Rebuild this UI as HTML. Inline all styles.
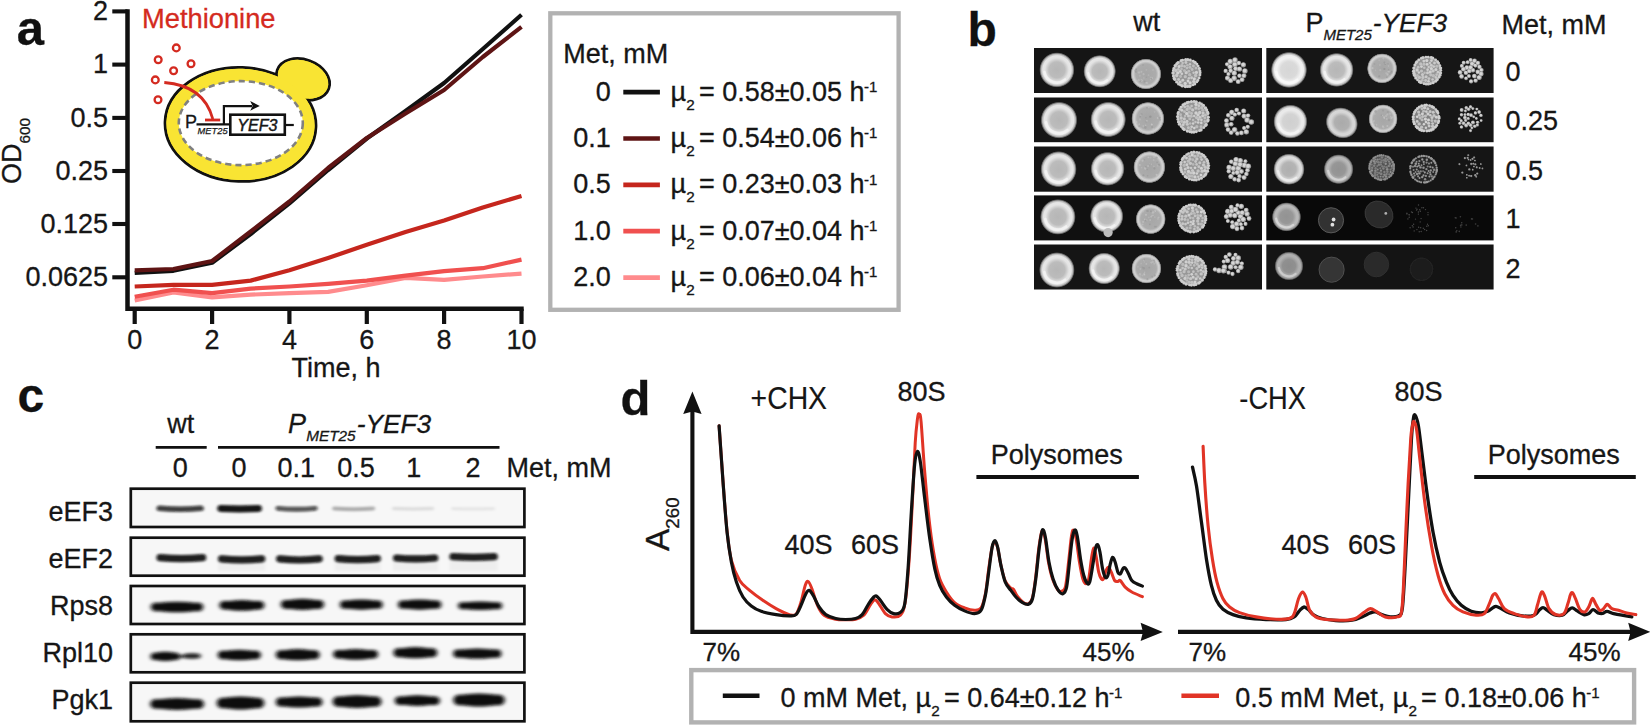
<!DOCTYPE html>
<html lang="en"><head><meta charset="utf-8"><title>Figure</title>
<style>
html,body{margin:0;padding:0;background:#fff;width:1650px;height:725px;overflow:hidden}
svg{display:block;position:absolute;left:0;top:0}
text{font-family:"Liberation Sans",Arial,Helvetica,sans-serif;fill:#161616;font-size:27px;stroke:#161616;stroke-width:.3px}
.b{font-weight:bold;font-size:46px;fill:#111}
.i{font-style:italic}
.r{fill:#d42a20;stroke:#d42a20}
.s{font-size:15.3px}
</style></head><body>
<svg width="1650" height="725" viewBox="0 0 1650 725">
<g id="panel-a">
<text class="b" x="16.8" y="45.2" style="font-size:49px">a</text>
<polyline points="134.7,300.5 173.4,292.4 212.1,297.3 250.7,294.6 289.4,293.2 328.1,291.9 366.8,285.2 405.5,277.9 444.1,279.8 482.8,276.5 521.5,273.6" fill="none" stroke="#ff8b8d" stroke-width="4.2" stroke-linejoin="round"/>
<polyline points="134.7,296.7 173.4,289.7 212.1,293.2 250.7,288.6 289.4,286.5 328.1,283.8 366.8,280.6 405.5,275.7 444.1,271.2 482.8,268.2 521.5,259.6" fill="none" stroke="#f0504f" stroke-width="4.2" stroke-linejoin="round"/>
<polyline points="134.7,286.5 173.4,284.8 212.1,284.8 250.7,280.6 289.4,270.3 328.1,258.0 366.8,244.8 405.5,232.0 444.1,220.6 482.8,207.5 521.5,196.0" fill="none" stroke="#c5261d" stroke-width="4.2" stroke-linejoin="round"/>
<polyline points="134.7,272.9 173.4,270.8 212.1,262.8 250.7,234.0 289.4,203.4 328.1,170.0 366.8,138.5 405.5,111.0 444.1,83.0 482.8,49.0 521.5,14.8" fill="none" stroke="#111111" stroke-width="4.2" stroke-linejoin="round"/>
<polyline points="134.7,270.3 173.4,269.0 212.1,261.0 250.7,231.5 289.4,201.5 328.1,168.0 366.8,138.0 405.5,113.5 444.1,90.0 482.8,57.0 521.5,26.9" fill="none" stroke="#5e1414" stroke-width="4.2" stroke-linejoin="round"/>
<path d="M127.5 9.3V308.8H523.7" fill="none" stroke="#111" stroke-width="4.5"/>
<path d="M112.3 11.4H127.5" stroke="#111" stroke-width="4.1"/>
<path d="M112.3 64.6H127.5" stroke="#111" stroke-width="4.1"/>
<path d="M112.3 117.9H127.5" stroke="#111" stroke-width="4.1"/>
<path d="M112.3 171.0H127.5" stroke="#111" stroke-width="4.1"/>
<path d="M112.3 224.0H127.5" stroke="#111" stroke-width="4.1"/>
<path d="M112.3 277.3H127.5" stroke="#111" stroke-width="4.1"/>
<path d="M134.7 308.8V324" stroke="#111" stroke-width="4.2"/>
<path d="M212.1 308.8V324" stroke="#111" stroke-width="4.2"/>
<path d="M289.4 308.8V324" stroke="#111" stroke-width="4.2"/>
<path d="M366.8 308.8V324" stroke="#111" stroke-width="4.2"/>
<path d="M444.1 308.8V324" stroke="#111" stroke-width="4.2"/>
<path d="M521.5 308.8V324" stroke="#111" stroke-width="4.2"/>
<text x="108" y="19.6" text-anchor="end">2</text>
<text x="108" y="73.2" text-anchor="end">1</text>
<text x="108" y="126.5" text-anchor="end">0.5</text>
<text x="108" y="179.6" text-anchor="end">0.25</text>
<text x="108" y="232.6" text-anchor="end">0.125</text>
<text x="108" y="285.9" text-anchor="end">0.0625</text>
<text x="134.7" y="349" text-anchor="middle">0</text>
<text x="212.1" y="349" text-anchor="middle">2</text>
<text x="289.4" y="349" text-anchor="middle">4</text>
<text x="366.8" y="349" text-anchor="middle">6</text>
<text x="444.1" y="349" text-anchor="middle">8</text>
<text x="521.5" y="349" text-anchor="middle">10</text>
<text x="336" y="376.5" text-anchor="middle">Time, h</text>
<text transform="translate(20.5,184) rotate(-90)">OD<tspan class="s" dy="9">600</tspan></text>
<text class="r" x="142" y="28.3" style="font-size:27.3px">Methionine</text>
<ellipse cx="303" cy="79.3" rx="27.4" ry="19.8" transform="rotate(20 303 79.3)" fill="#f9e433" stroke="#111" stroke-width="2.8"/>
<ellipse cx="240.5" cy="124.4" rx="75.5" ry="57.0" transform="rotate(2 240.5 124.4)" fill="#f9e433" stroke="#111" stroke-width="2.8"/>
<ellipse cx="303" cy="79.3" rx="26.0" ry="18.4" transform="rotate(20 303 79.3)" fill="#f9e433"/>
<ellipse cx="240.5" cy="124.4" rx="74.1" ry="55.6" transform="rotate(2 240.5 124.4)" fill="#f9e433"/>
<ellipse cx="240.8" cy="123.1" rx="62" ry="42" fill="#fff" stroke="#808080" stroke-width="2.6" stroke-dasharray="6.2 4"/>
<circle cx="176.3" cy="47.9" r="3.4" fill="#fff" stroke="#d42a20" stroke-width="2.3"/>
<circle cx="158.2" cy="59.7" r="3.4" fill="#fff" stroke="#d42a20" stroke-width="2.3"/>
<circle cx="191.0" cy="63.8" r="3.4" fill="#fff" stroke="#d42a20" stroke-width="2.3"/>
<circle cx="173.6" cy="70.8" r="3.4" fill="#fff" stroke="#d42a20" stroke-width="2.3"/>
<circle cx="155.3" cy="79.9" r="3.4" fill="#fff" stroke="#d42a20" stroke-width="2.3"/>
<circle cx="158.0" cy="99.8" r="3.4" fill="#fff" stroke="#d42a20" stroke-width="2.3"/>
<path d="M164.3 82.5 C190 84.5 207 97 212.8 119" fill="none" stroke="#d42a20" stroke-width="2.8"/>
<path d="M205 120H220.2" stroke="#d42a20" stroke-width="2.8"/>
<text x="185" y="128" style="font-size:18px">P</text>
<path d="M196.5 124.4H230" stroke="#111" stroke-width="2.4"/>
<text class="i" x="197.6" y="134" style="font-size:9.3px;stroke:#161616;stroke-width:.25px">MET25</text>
<path d="M223.9 124.4V106.2H252" fill="none" stroke="#111" stroke-width="2.2"/>
<path d="M250.2 101L259.8 105.9L250.2 110.8L252.6 105.9Z" fill="#111"/>
<rect x="230.3" y="114.7" width="54.5" height="20" fill="#fff" stroke="#111" stroke-width="2.6"/>
<text class="i" x="257.3" y="131.1" text-anchor="middle" style="font-size:16px;stroke-width:.45px">YEF3</text>
<path d="M286 125H293.8" stroke="#111" stroke-width="2.2"/>
<rect x="550.3" y="13.3" width="348.3" height="296.5" fill="#fff" stroke="#b2b2b2" stroke-width="4.3"/>
<text x="563.3" y="62.7">Met, mM</text>
<text x="610.7" y="100.6" text-anchor="end">0</text>
<path d="M623.3 92.2H659.9" stroke="#111111" stroke-width="4.7"/>
<text x="670.6" y="100.6">µ<tspan dy="8.9" style="font-size:15.3px">2</tspan><tspan dy="-8.9" dx="4.2">= 0.58±0.05 h</tspan><tspan dy="-8.6" dx="-0.6" style="font-size:15px">-1</tspan></text>
<text x="610.7" y="146.9" text-anchor="end">0.1</text>
<path d="M623.3 138.5H659.9" stroke="#5e1414" stroke-width="4.7"/>
<text x="670.6" y="146.9">µ<tspan dy="8.9" style="font-size:15.3px">2</tspan><tspan dy="-8.9" dx="4.2">= 0.54±0.06 h</tspan><tspan dy="-8.6" dx="-0.6" style="font-size:15px">-1</tspan></text>
<text x="610.7" y="193.3" text-anchor="end">0.5</text>
<path d="M623.3 184.9H659.9" stroke="#c5261d" stroke-width="4.7"/>
<text x="670.6" y="193.3">µ<tspan dy="8.9" style="font-size:15.3px">2</tspan><tspan dy="-8.9" dx="4.2">= 0.23±0.03 h</tspan><tspan dy="-8.6" dx="-0.6" style="font-size:15px">-1</tspan></text>
<text x="610.7" y="239.7" text-anchor="end">1.0</text>
<path d="M623.3 231.2H659.9" stroke="#f0504f" stroke-width="4.7"/>
<text x="670.6" y="239.7">µ<tspan dy="8.9" style="font-size:15.3px">2</tspan><tspan dy="-8.9" dx="4.2">= 0.07±0.04 h</tspan><tspan dy="-8.6" dx="-0.6" style="font-size:15px">-1</tspan></text>
<text x="610.7" y="286.0" text-anchor="end">2.0</text>
<path d="M623.3 277.6H659.9" stroke="#ff8b8d" stroke-width="4.7"/>
<text x="670.6" y="286.0">µ<tspan dy="8.9" style="font-size:15.3px">2</tspan><tspan dy="-8.9" dx="4.2">= 0.06±0.04 h</tspan><tspan dy="-8.6" dx="-0.6" style="font-size:15px">-1</tspan></text>
</g>
<g id="panel-b">
<defs>
<filter id="bl" x="-5%" y="-5%" width="110%" height="110%"><feGaussianBlur stdDeviation="0.55"/></filter>
<filter id="bl2" x="-20%" y="-20%" width="140%" height="140%"><feGaussianBlur stdDeviation="0.45"/></filter>
<radialGradient id="sg" cx="0.5" cy="0.5" r="0.5"><stop offset="0" stop-color="#b6b6b6"/><stop offset="0.45" stop-color="#bcbcbc"/><stop offset="0.68" stop-color="#e4e4e4"/><stop offset="0.8" stop-color="#e6e6e6"/><stop offset="0.9" stop-color="#b0b0b0"/><stop offset="0.96" stop-color="#707070" stop-opacity="0.7"/><stop offset="1" stop-color="#505050" stop-opacity="0"/></radialGradient>
<radialGradient id="sgb" cx="0.5" cy="0.5" r="0.5"><stop offset="0" stop-color="#d6d6d6"/><stop offset="0.45" stop-color="#dadada"/><stop offset="0.68" stop-color="#f2f2f2"/><stop offset="0.8" stop-color="#eeeeee"/><stop offset="0.9" stop-color="#b4b4b4"/><stop offset="0.96" stop-color="#707070" stop-opacity="0.7"/><stop offset="1" stop-color="#505050" stop-opacity="0"/></radialGradient>
<radialGradient id="st" cx="0.5" cy="0.5" r="0.5"><stop offset="0" stop-color="#a6a6a6"/><stop offset="0.66" stop-color="#acacac"/><stop offset="0.82" stop-color="#d2d2d2"/><stop offset="0.9" stop-color="#c4c4c4"/><stop offset="0.97" stop-color="#808080" stop-opacity="0.8"/><stop offset="1" stop-color="#505050" stop-opacity="0"/></radialGradient>
<radialGradient id="sd" cx="0.5" cy="0.5" r="0.5"><stop offset="0" stop-color="#fff" stop-opacity="0.75"/><stop offset="0.8" stop-color="#fff" stop-opacity="0.8"/><stop offset="0.92" stop-color="#fff" stop-opacity="1"/><stop offset="1" stop-color="#fff" stop-opacity="0"/></radialGradient>
</defs>
<text class="b" x="967.4" y="45.5" style="font-size:48px">b</text>
<text x="1146.7" y="31.4" text-anchor="middle">wt</text>
<text x="1305.5" y="31.6">P<tspan class="i" dy="8.4" dx="-0.1" style="font-size:15px">MET25</tspan><tspan class="i" dy="-8.4" dx="1" style="font-size:26.2px">-YEF3</tspan></text>
<text x="1501.5" y="34.2">Met, mM</text>
<text x="1505.5" y="81.0">0</text>
<text x="1505.5" y="130.3">0.25</text>
<text x="1505.5" y="179.6">0.5</text>
<text x="1505.5" y="228.4">1</text>
<text x="1505.5" y="277.5">2</text>
<rect x="1034" y="48.0" width="228" height="45.0" fill="#151515"/>
<rect x="1266.3" y="48.0" width="227.3" height="45.0" fill="#161616"/>
<rect x="1034" y="97.5" width="228" height="44.7" fill="#151515"/>
<rect x="1266.3" y="97.5" width="227.3" height="44.7" fill="#161616"/>
<rect x="1034" y="146.5" width="228" height="45.2" fill="#151515"/>
<rect x="1266.3" y="146.5" width="227.3" height="45.2" fill="#151515"/>
<rect x="1034" y="195.4" width="228" height="45.0" fill="#101010"/>
<rect x="1266.3" y="195.4" width="227.3" height="45.0" fill="#090909"/>
<rect x="1034" y="244.5" width="228" height="45.0" fill="#151515"/>
<rect x="1266.3" y="244.5" width="227.3" height="45.0" fill="#141414"/>
<g filter="url(#bl)">
<circle cx="1056.9" cy="69.9" r="17.7" fill="url(#sg)"/>
<path d="M1044.5 72.1 A12.6 12.6 0 0 0 1065.0 79.5" fill="none" stroke="#fff" stroke-opacity="0.50" stroke-width="2.7" stroke-linecap="round"/>
<circle cx="1099.7" cy="71.3" r="16.4" fill="url(#sg)"/>
<path d="M1088.3 73.3 A11.6 11.6 0 0 0 1107.2 80.2" fill="none" stroke="#fff" stroke-opacity="0.50" stroke-width="2.5" stroke-linecap="round"/>
<circle cx="1145.9" cy="74.0" r="15.5" fill="url(#st)"/>
<circle cx="1143.9" cy="78.0" r="0.7" fill="#c8c8c8" opacity="0.50"/>
<circle cx="1139.0" cy="72.4" r="1.2" fill="#c8c8c8" opacity="0.50"/>
<circle cx="1146.6" cy="77.3" r="0.7" fill="#949494" opacity="0.50"/>
<circle cx="1152.3" cy="78.1" r="0.8" fill="#d0d0d0" opacity="0.50"/>
<circle cx="1147.4" cy="83.1" r="1.0" fill="#c8c8c8" opacity="0.50"/>
<circle cx="1136.8" cy="80.9" r="1.0" fill="#c8c8c8" opacity="0.50"/>
<circle cx="1150.9" cy="79.6" r="0.8" fill="#d0d0d0" opacity="0.50"/>
<circle cx="1142.1" cy="83.8" r="0.8" fill="#c0c0c0" opacity="0.50"/>
<circle cx="1141.4" cy="71.8" r="1.0" fill="#c8c8c8" opacity="0.50"/>
<circle cx="1148.5" cy="75.1" r="0.9" fill="#c0c0c0" opacity="0.50"/>
<circle cx="1135.9" cy="72.0" r="1.0" fill="#949494" opacity="0.50"/>
<circle cx="1139.8" cy="75.8" r="1.0" fill="#c0c0c0" opacity="0.50"/>
<circle cx="1146.2" cy="82.8" r="0.9" fill="#d0d0d0" opacity="0.50"/>
<circle cx="1141.6" cy="80.5" r="1.2" fill="#d0d0d0" opacity="0.50"/>
<circle cx="1151.4" cy="79.1" r="0.8" fill="#909090" opacity="0.50"/>
<circle cx="1143.6" cy="74.2" r="1.1" fill="#c8c8c8" opacity="0.50"/>
<circle cx="1136.2" cy="69.2" r="0.9" fill="#909090" opacity="0.50"/>
<circle cx="1141.1" cy="80.6" r="0.7" fill="#949494" opacity="0.50"/>
<circle cx="1150.9" cy="77.3" r="0.7" fill="#c8c8c8" opacity="0.50"/>
<circle cx="1143.1" cy="65.1" r="0.8" fill="#949494" opacity="0.50"/>
<circle cx="1138.7" cy="80.2" r="1.2" fill="#c8c8c8" opacity="0.50"/>
<circle cx="1140.3" cy="81.2" r="0.7" fill="#949494" opacity="0.50"/>
<circle cx="1146.4" cy="69.8" r="0.9" fill="#c0c0c0" opacity="0.50"/>
<circle cx="1153.0" cy="69.9" r="0.9" fill="#c0c0c0" opacity="0.50"/>
<circle cx="1135.5" cy="70.7" r="1.1" fill="#949494" opacity="0.50"/>
<circle cx="1144.6" cy="81.4" r="1.0" fill="#909090" opacity="0.50"/>
<circle cx="1186.6" cy="73.0" r="14.1" fill="#969696" opacity="1.00"/>
<circle cx="1200.2" cy="72.8" r="1.41" fill="#cecece" opacity="1.00"/>
<circle cx="1200.0" cy="74.9" r="1.38" fill="#cecece" opacity="1.00"/>
<circle cx="1199.2" cy="78.1" r="1.32" fill="#cecece" opacity="1.00"/>
<circle cx="1197.9" cy="80.5" r="1.39" fill="#cecece" opacity="1.00"/>
<circle cx="1196.8" cy="81.9" r="1.37" fill="#cecece" opacity="1.00"/>
<circle cx="1194.7" cy="83.9" r="1.55" fill="#cecece" opacity="1.00"/>
<circle cx="1192.9" cy="85.0" r="1.37" fill="#cecece" opacity="1.00"/>
<circle cx="1189.8" cy="86.2" r="1.69" fill="#cecece" opacity="1.00"/>
<circle cx="1187.6" cy="86.5" r="1.60" fill="#cecece" opacity="1.00"/>
<circle cx="1185.4" cy="86.5" r="1.66" fill="#cecece" opacity="1.00"/>
<circle cx="1182.3" cy="85.9" r="1.58" fill="#cecece" opacity="1.00"/>
<circle cx="1180.5" cy="85.1" r="1.47" fill="#cecece" opacity="1.00"/>
<circle cx="1178.5" cy="83.9" r="1.50" fill="#cecece" opacity="1.00"/>
<circle cx="1176.7" cy="82.2" r="1.39" fill="#cecece" opacity="1.00"/>
<circle cx="1174.7" cy="79.6" r="1.49" fill="#cecece" opacity="1.00"/>
<circle cx="1174.1" cy="78.4" r="1.55" fill="#cecece" opacity="1.00"/>
<circle cx="1173.4" cy="76.0" r="1.54" fill="#cecece" opacity="1.00"/>
<circle cx="1173.0" cy="73.0" r="1.69" fill="#cecece" opacity="1.00"/>
<circle cx="1173.3" cy="70.4" r="1.34" fill="#cecece" opacity="1.00"/>
<circle cx="1173.8" cy="68.5" r="1.46" fill="#cecece" opacity="1.00"/>
<circle cx="1175.2" cy="65.7" r="1.69" fill="#cecece" opacity="1.00"/>
<circle cx="1176.7" cy="63.8" r="1.50" fill="#cecece" opacity="1.00"/>
<circle cx="1178.0" cy="62.5" r="1.51" fill="#cecece" opacity="1.00"/>
<circle cx="1181.1" cy="60.6" r="1.50" fill="#cecece" opacity="1.00"/>
<circle cx="1182.6" cy="60.0" r="1.37" fill="#cecece" opacity="1.00"/>
<circle cx="1185.7" cy="59.5" r="1.60" fill="#cecece" opacity="1.00"/>
<circle cx="1187.8" cy="59.5" r="1.59" fill="#cecece" opacity="1.00"/>
<circle cx="1190.3" cy="60.0" r="1.40" fill="#cecece" opacity="1.00"/>
<circle cx="1193.2" cy="61.1" r="1.46" fill="#cecece" opacity="1.00"/>
<circle cx="1195.0" cy="62.3" r="1.67" fill="#cecece" opacity="1.00"/>
<circle cx="1196.9" cy="64.1" r="1.43" fill="#cecece" opacity="1.00"/>
<circle cx="1198.2" cy="66.0" r="1.35" fill="#cecece" opacity="1.00"/>
<circle cx="1199.4" cy="68.5" r="1.52" fill="#cecece" opacity="1.00"/>
<circle cx="1200.0" cy="71.1" r="1.46" fill="#cecece" opacity="1.00"/>
<circle cx="1188.0" cy="81.0" r="1.40" fill="#d4d4d4" opacity="1.00"/>
<circle cx="1177.8" cy="72.9" r="1.67" fill="#d2d2d2" opacity="1.00"/>
<circle cx="1179.1" cy="66.6" r="1.52" fill="#d3d3d3" opacity="1.00"/>
<circle cx="1186.9" cy="68.1" r="1.36" fill="#bebebe" opacity="1.00"/>
<circle cx="1196.4" cy="72.4" r="1.62" fill="#cfcfcf" opacity="1.00"/>
<circle cx="1181.8" cy="73.8" r="1.31" fill="#cfcfcf" opacity="1.00"/>
<circle cx="1181.5" cy="69.0" r="1.36" fill="#bababa" opacity="1.00"/>
<circle cx="1190.0" cy="64.2" r="1.24" fill="#c6c6c6" opacity="1.00"/>
<circle cx="1180.2" cy="81.9" r="1.50" fill="#cecece" opacity="1.00"/>
<circle cx="1189.7" cy="74.7" r="1.70" fill="#bcbcbc" opacity="1.00"/>
<circle cx="1186.2" cy="72.7" r="1.66" fill="#cccccc" opacity="1.00"/>
<circle cx="1192.1" cy="69.5" r="1.47" fill="#bdbdbd" opacity="1.00"/>
<circle cx="1191.6" cy="77.7" r="1.46" fill="#c9c9c9" opacity="1.00"/>
<circle cx="1184.5" cy="70.5" r="1.59" fill="#b8b8b8" opacity="1.00"/>
<circle cx="1181.8" cy="65.8" r="1.69" fill="#bfbfbf" opacity="1.00"/>
<circle cx="1194.3" cy="78.8" r="1.59" fill="#d3d3d3" opacity="1.00"/>
<circle cx="1193.7" cy="81.5" r="1.58" fill="#cfcfcf" opacity="1.00"/>
<circle cx="1190.1" cy="82.8" r="1.57" fill="#d3d3d3" opacity="1.00"/>
<circle cx="1182.8" cy="80.3" r="1.46" fill="#cdcdcd" opacity="1.00"/>
<circle cx="1185.9" cy="62.5" r="1.48" fill="#c8c8c8" opacity="1.00"/>
<circle cx="1193.4" cy="66.0" r="1.45" fill="#bdbdbd" opacity="1.00"/>
<circle cx="1188.8" cy="71.3" r="1.47" fill="#bcbcbc" opacity="1.00"/>
<circle cx="1195.9" cy="68.1" r="1.36" fill="#bbbbbb" opacity="1.00"/>
<circle cx="1180.6" cy="76.5" r="1.43" fill="#b9b9b9" opacity="1.00"/>
<circle cx="1185.3" cy="76.7" r="1.61" fill="#bfbfbf" opacity="1.00"/>
<circle cx="1193.6" cy="72.7" r="1.25" fill="#c7c7c7" opacity="1.00"/>
<circle cx="1184.6" cy="66.4" r="1.33" fill="#c3c3c3" opacity="1.00"/>
<circle cx="1185.2" cy="83.5" r="1.68" fill="#d2d2d2" opacity="1.00"/>
<circle cx="1195.6" cy="75.5" r="1.69" fill="#c1c1c1" opacity="1.00"/>
<circle cx="1188.9" cy="78.3" r="1.32" fill="#c7c7c7" opacity="1.00"/>
<circle cx="1176.7" cy="75.5" r="1.69" fill="#c9c9c9" opacity="1.00"/>
<circle cx="1178.6" cy="79.6" r="1.48" fill="#c7c7c7" opacity="1.00"/>
<circle cx="1175.8" cy="70.4" r="1.68" fill="#c6c6c6" opacity="1.00"/>
<circle cx="1182.6" cy="63.1" r="1.31" fill="#c2c2c2" opacity="1.00"/>
<circle cx="1187.4" cy="65.3" r="1.37" fill="#bababa" opacity="1.00"/>
<circle cx="1189.9" cy="67.3" r="1.54" fill="#bdbdbd" opacity="1.00"/>
<circle cx="1180.3" cy="71.5" r="1.48" fill="#d2d2d2" opacity="1.00"/>
<circle cx="1178.4" cy="69.4" r="1.38" fill="#c4c4c4" opacity="1.00"/>
<circle cx="1234.3" cy="73.1" r="2.70" fill="#9f9f9f" opacity="1.00"/>
<circle cx="1234.1" cy="72.9" r="1.84" fill="#d6d6d6" opacity="1.00"/>
<circle cx="1234.2" cy="78.2" r="2.68" fill="#9f9f9f" opacity="1.00"/>
<circle cx="1234.0" cy="78.0" r="1.82" fill="#d6d6d6" opacity="1.00"/>
<circle cx="1239.5" cy="75.8" r="2.26" fill="#9f9f9f" opacity="1.00"/>
<circle cx="1239.3" cy="75.6" r="1.54" fill="#d6d6d6" opacity="1.00"/>
<circle cx="1230.1" cy="66.8" r="2.63" fill="#9f9f9f" opacity="1.00"/>
<circle cx="1229.9" cy="66.6" r="1.79" fill="#d6d6d6" opacity="1.00"/>
<circle cx="1228.5" cy="74.1" r="2.10" fill="#9f9f9f" opacity="1.00"/>
<circle cx="1228.3" cy="73.9" r="1.43" fill="#d6d6d6" opacity="1.00"/>
<circle cx="1230.3" cy="61.4" r="2.66" fill="#9f9f9f" opacity="1.00"/>
<circle cx="1230.1" cy="61.2" r="1.81" fill="#d6d6d6" opacity="1.00"/>
<circle cx="1244.0" cy="75.8" r="2.48" fill="#9f9f9f" opacity="1.00"/>
<circle cx="1243.8" cy="75.6" r="1.69" fill="#d6d6d6" opacity="1.00"/>
<circle cx="1238.9" cy="63.1" r="2.25" fill="#9f9f9f" opacity="1.00"/>
<circle cx="1238.7" cy="62.9" r="1.53" fill="#d6d6d6" opacity="1.00"/>
<circle cx="1235.6" cy="68.7" r="2.43" fill="#9f9f9f" opacity="1.00"/>
<circle cx="1235.4" cy="68.5" r="1.65" fill="#d6d6d6" opacity="1.00"/>
<circle cx="1244.9" cy="70.9" r="2.71" fill="#9f9f9f" opacity="1.00"/>
<circle cx="1244.7" cy="70.7" r="1.84" fill="#d6d6d6" opacity="1.00"/>
<circle cx="1243.4" cy="64.8" r="2.59" fill="#9f9f9f" opacity="1.00"/>
<circle cx="1243.2" cy="64.6" r="1.76" fill="#d6d6d6" opacity="1.00"/>
<circle cx="1234.9" cy="64.4" r="2.69" fill="#9f9f9f" opacity="1.00"/>
<circle cx="1234.7" cy="64.2" r="1.83" fill="#d6d6d6" opacity="1.00"/>
<circle cx="1225.7" cy="70.9" r="2.19" fill="#9f9f9f" opacity="1.00"/>
<circle cx="1225.5" cy="70.7" r="1.49" fill="#d6d6d6" opacity="1.00"/>
<circle cx="1238.2" cy="81.7" r="2.42" fill="#9f9f9f" opacity="1.00"/>
<circle cx="1238.0" cy="81.5" r="1.64" fill="#d6d6d6" opacity="1.00"/>
<circle cx="1239.5" cy="69.0" r="2.62" fill="#9f9f9f" opacity="1.00"/>
<circle cx="1239.3" cy="68.8" r="1.78" fill="#d6d6d6" opacity="1.00"/>
<circle cx="1227.5" cy="78.1" r="2.53" fill="#9f9f9f" opacity="1.00"/>
<circle cx="1227.3" cy="77.9" r="1.72" fill="#d6d6d6" opacity="1.00"/>
<circle cx="1235.0" cy="60.0" r="2.69" fill="#9f9f9f" opacity="1.00"/>
<circle cx="1234.8" cy="59.8" r="1.83" fill="#d6d6d6" opacity="1.00"/>
<circle cx="1230.7" cy="80.6" r="2.50" fill="#9f9f9f" opacity="1.00"/>
<circle cx="1230.5" cy="80.4" r="1.70" fill="#d6d6d6" opacity="1.00"/>
<circle cx="1242.1" cy="79.7" r="2.39" fill="#9f9f9f" opacity="1.00"/>
<circle cx="1241.9" cy="79.5" r="1.62" fill="#d6d6d6" opacity="1.00"/>
<circle cx="1227.1" cy="64.3" r="2.10" fill="#9f9f9f" opacity="1.00"/>
<circle cx="1226.9" cy="64.1" r="1.43" fill="#d6d6d6" opacity="1.00"/>
<circle cx="1230.7" cy="70.8" r="2.30" fill="#9f9f9f" opacity="1.00"/>
<circle cx="1230.5" cy="70.6" r="1.56" fill="#d6d6d6" opacity="1.00"/>
<circle cx="1059.0" cy="120.1" r="18.5" fill="url(#sg)"/>
<path d="M1046.1 122.4 A13.1 13.1 0 0 0 1067.4 130.1" fill="none" stroke="#fff" stroke-opacity="0.50" stroke-width="2.9" stroke-linecap="round"/>
<circle cx="1108.2" cy="119.5" r="17.9" fill="url(#sg)"/>
<path d="M1095.7 121.7 A12.7 12.7 0 0 0 1116.4 129.2" fill="none" stroke="#fff" stroke-opacity="0.50" stroke-width="2.8" stroke-linecap="round"/>
<circle cx="1147.9" cy="118.5" r="16.6" fill="url(#st)"/>
<circle cx="1145.4" cy="127.5" r="1.2" fill="#909090" opacity="0.50"/>
<circle cx="1146.3" cy="121.8" r="0.8" fill="#909090" opacity="0.50"/>
<circle cx="1146.9" cy="120.8" r="0.9" fill="#d0d0d0" opacity="0.50"/>
<circle cx="1145.7" cy="125.3" r="0.8" fill="#d0d0d0" opacity="0.50"/>
<circle cx="1153.2" cy="129.1" r="0.9" fill="#d0d0d0" opacity="0.50"/>
<circle cx="1140.2" cy="116.7" r="0.9" fill="#909090" opacity="0.50"/>
<circle cx="1160.1" cy="119.8" r="1.0" fill="#949494" opacity="0.50"/>
<circle cx="1152.1" cy="127.0" r="0.9" fill="#909090" opacity="0.50"/>
<circle cx="1141.4" cy="128.3" r="0.9" fill="#c0c0c0" opacity="0.50"/>
<circle cx="1140.0" cy="119.6" r="1.0" fill="#c0c0c0" opacity="0.50"/>
<circle cx="1139.1" cy="126.2" r="0.8" fill="#949494" opacity="0.50"/>
<circle cx="1157.7" cy="117.9" r="1.0" fill="#d0d0d0" opacity="0.50"/>
<circle cx="1150.0" cy="116.7" r="1.0" fill="#909090" opacity="0.50"/>
<circle cx="1159.7" cy="117.8" r="1.1" fill="#909090" opacity="0.50"/>
<circle cx="1141.1" cy="114.9" r="1.2" fill="#c0c0c0" opacity="0.50"/>
<circle cx="1150.6" cy="116.7" r="1.1" fill="#909090" opacity="0.50"/>
<circle cx="1136.7" cy="122.0" r="0.9" fill="#d0d0d0" opacity="0.50"/>
<circle cx="1139.2" cy="124.2" r="1.0" fill="#c8c8c8" opacity="0.50"/>
<circle cx="1141.6" cy="114.4" r="1.1" fill="#949494" opacity="0.50"/>
<circle cx="1146.9" cy="107.9" r="0.7" fill="#949494" opacity="0.50"/>
<circle cx="1151.7" cy="124.2" r="1.0" fill="#c8c8c8" opacity="0.50"/>
<circle cx="1154.6" cy="111.8" r="0.9" fill="#c0c0c0" opacity="0.50"/>
<circle cx="1145.9" cy="117.8" r="0.8" fill="#909090" opacity="0.50"/>
<circle cx="1151.9" cy="124.6" r="0.9" fill="#d0d0d0" opacity="0.50"/>
<circle cx="1148.8" cy="107.3" r="0.9" fill="#c8c8c8" opacity="0.50"/>
<circle cx="1143.2" cy="126.0" r="0.8" fill="#d0d0d0" opacity="0.50"/>
<circle cx="1193.0" cy="116.8" r="15.8" fill="#969696" opacity="1.00"/>
<circle cx="1208.4" cy="117.3" r="1.47" fill="#cecece" opacity="1.00"/>
<circle cx="1208.1" cy="119.9" r="1.64" fill="#cecece" opacity="1.00"/>
<circle cx="1207.8" cy="121.1" r="1.50" fill="#cecece" opacity="1.00"/>
<circle cx="1206.2" cy="124.7" r="1.70" fill="#cecece" opacity="1.00"/>
<circle cx="1205.5" cy="125.7" r="1.36" fill="#cecece" opacity="1.00"/>
<circle cx="1203.9" cy="127.6" r="1.38" fill="#cecece" opacity="1.00"/>
<circle cx="1201.0" cy="129.9" r="1.62" fill="#cecece" opacity="1.00"/>
<circle cx="1199.5" cy="130.7" r="1.35" fill="#cecece" opacity="1.00"/>
<circle cx="1196.3" cy="131.8" r="1.47" fill="#cecece" opacity="1.00"/>
<circle cx="1193.9" cy="132.1" r="1.65" fill="#cecece" opacity="1.00"/>
<circle cx="1191.7" cy="132.1" r="1.66" fill="#cecece" opacity="1.00"/>
<circle cx="1189.7" cy="131.8" r="1.46" fill="#cecece" opacity="1.00"/>
<circle cx="1187.3" cy="131.1" r="1.55" fill="#cecece" opacity="1.00"/>
<circle cx="1184.1" cy="129.4" r="1.50" fill="#cecece" opacity="1.00"/>
<circle cx="1182.9" cy="128.4" r="1.49" fill="#cecece" opacity="1.00"/>
<circle cx="1181.2" cy="126.6" r="1.46" fill="#cecece" opacity="1.00"/>
<circle cx="1179.5" cy="124.2" r="1.67" fill="#cecece" opacity="1.00"/>
<circle cx="1178.5" cy="121.9" r="1.62" fill="#cecece" opacity="1.00"/>
<circle cx="1177.9" cy="119.4" r="1.47" fill="#cecece" opacity="1.00"/>
<circle cx="1177.6" cy="116.6" r="1.62" fill="#cecece" opacity="1.00"/>
<circle cx="1177.9" cy="113.8" r="1.38" fill="#cecece" opacity="1.00"/>
<circle cx="1178.3" cy="112.3" r="1.41" fill="#cecece" opacity="1.00"/>
<circle cx="1179.6" cy="109.2" r="1.32" fill="#cecece" opacity="1.00"/>
<circle cx="1181.0" cy="107.2" r="1.49" fill="#cecece" opacity="1.00"/>
<circle cx="1183.1" cy="105.0" r="1.70" fill="#cecece" opacity="1.00"/>
<circle cx="1184.8" cy="103.8" r="1.50" fill="#cecece" opacity="1.00"/>
<circle cx="1187.1" cy="102.6" r="1.60" fill="#cecece" opacity="1.00"/>
<circle cx="1188.6" cy="102.1" r="1.45" fill="#cecece" opacity="1.00"/>
<circle cx="1191.4" cy="101.5" r="1.55" fill="#cecece" opacity="1.00"/>
<circle cx="1194.1" cy="101.5" r="1.39" fill="#cecece" opacity="1.00"/>
<circle cx="1196.2" cy="101.8" r="1.63" fill="#cecece" opacity="1.00"/>
<circle cx="1199.6" cy="102.9" r="1.34" fill="#cecece" opacity="1.00"/>
<circle cx="1201.5" cy="104.0" r="1.40" fill="#cecece" opacity="1.00"/>
<circle cx="1203.4" cy="105.4" r="1.63" fill="#cecece" opacity="1.00"/>
<circle cx="1205.5" cy="107.9" r="1.67" fill="#cecece" opacity="1.00"/>
<circle cx="1206.7" cy="109.9" r="1.55" fill="#cecece" opacity="1.00"/>
<circle cx="1207.7" cy="112.3" r="1.44" fill="#cecece" opacity="1.00"/>
<circle cx="1208.0" cy="113.6" r="1.52" fill="#cecece" opacity="1.00"/>
<circle cx="1201.4" cy="119.8" r="1.37" fill="#cecece" opacity="1.00"/>
<circle cx="1181.1" cy="118.0" r="1.70" fill="#c9c9c9" opacity="1.00"/>
<circle cx="1198.2" cy="122.5" r="1.33" fill="#d1d1d1" opacity="1.00"/>
<circle cx="1201.3" cy="122.9" r="1.29" fill="#d2d2d2" opacity="1.00"/>
<circle cx="1180.6" cy="114.8" r="1.44" fill="#bcbcbc" opacity="1.00"/>
<circle cx="1189.9" cy="108.2" r="1.61" fill="#bcbcbc" opacity="1.00"/>
<circle cx="1203.1" cy="113.0" r="1.50" fill="#cbcbcb" opacity="1.00"/>
<circle cx="1184.8" cy="107.0" r="1.32" fill="#c4c4c4" opacity="1.00"/>
<circle cx="1193.1" cy="120.1" r="1.29" fill="#bebebe" opacity="1.00"/>
<circle cx="1196.0" cy="104.4" r="1.67" fill="#d3d3d3" opacity="1.00"/>
<circle cx="1188.5" cy="115.9" r="1.58" fill="#c9c9c9" opacity="1.00"/>
<circle cx="1195.9" cy="108.0" r="1.69" fill="#c5c5c5" opacity="1.00"/>
<circle cx="1199.9" cy="117.2" r="1.50" fill="#cacaca" opacity="1.00"/>
<circle cx="1184.5" cy="111.7" r="1.40" fill="#bfbfbf" opacity="1.00"/>
<circle cx="1184.3" cy="118.9" r="1.59" fill="#c7c7c7" opacity="1.00"/>
<circle cx="1196.8" cy="126.7" r="1.61" fill="#bcbcbc" opacity="1.00"/>
<circle cx="1183.2" cy="124.8" r="1.44" fill="#cbcbcb" opacity="1.00"/>
<circle cx="1201.7" cy="107.8" r="1.70" fill="#c0c0c0" opacity="1.00"/>
<circle cx="1191.2" cy="116.2" r="1.60" fill="#bebebe" opacity="1.00"/>
<circle cx="1187.7" cy="106.2" r="1.51" fill="#bfbfbf" opacity="1.00"/>
<circle cx="1191.6" cy="105.9" r="1.27" fill="#c2c2c2" opacity="1.00"/>
<circle cx="1191.7" cy="126.8" r="1.42" fill="#cdcdcd" opacity="1.00"/>
<circle cx="1204.8" cy="121.4" r="1.38" fill="#bbbbbb" opacity="1.00"/>
<circle cx="1190.2" cy="123.6" r="1.27" fill="#bcbcbc" opacity="1.00"/>
<circle cx="1204.8" cy="118.0" r="1.39" fill="#bdbdbd" opacity="1.00"/>
<circle cx="1192.7" cy="109.9" r="1.61" fill="#c8c8c8" opacity="1.00"/>
<circle cx="1196.0" cy="113.0" r="1.70" fill="#d2d2d2" opacity="1.00"/>
<circle cx="1187.0" cy="121.4" r="1.54" fill="#cbcbcb" opacity="1.00"/>
<circle cx="1198.7" cy="108.8" r="1.45" fill="#bcbcbc" opacity="1.00"/>
<circle cx="1188.4" cy="127.8" r="1.46" fill="#c1c1c1" opacity="1.00"/>
<circle cx="1189.7" cy="118.9" r="1.47" fill="#bdbdbd" opacity="1.00"/>
<circle cx="1187.3" cy="124.2" r="1.51" fill="#c8c8c8" opacity="1.00"/>
<circle cx="1201.0" cy="126.7" r="1.37" fill="#bdbdbd" opacity="1.00"/>
<circle cx="1196.5" cy="117.6" r="1.56" fill="#c1c1c1" opacity="1.00"/>
<circle cx="1194.2" cy="115.9" r="1.24" fill="#cbcbcb" opacity="1.00"/>
<circle cx="1181.9" cy="110.3" r="1.41" fill="#d0d0d0" opacity="1.00"/>
<circle cx="1199.7" cy="112.5" r="1.66" fill="#cbcbcb" opacity="1.00"/>
<circle cx="1189.2" cy="112.1" r="1.60" fill="#bbbbbb" opacity="1.00"/>
<circle cx="1185.1" cy="116.0" r="1.29" fill="#bcbcbc" opacity="1.00"/>
<circle cx="1193.1" cy="123.6" r="1.25" fill="#d0d0d0" opacity="1.00"/>
<circle cx="1198.8" cy="105.7" r="1.47" fill="#c8c8c8" opacity="1.00"/>
<circle cx="1181.7" cy="121.3" r="1.62" fill="#bcbcbc" opacity="1.00"/>
<circle cx="1194.3" cy="128.1" r="1.32" fill="#d3d3d3" opacity="1.00"/>
<circle cx="1187.1" cy="109.4" r="1.55" fill="#c0c0c0" opacity="1.00"/>
<circle cx="1202.8" cy="110.3" r="1.55" fill="#bababa" opacity="1.00"/>
<circle cx="1198.0" cy="114.8" r="1.63" fill="#d0d0d0" opacity="1.00"/>
<circle cx="1191.6" cy="113.5" r="1.40" fill="#c0c0c0" opacity="1.00"/>
<circle cx="1190.7" cy="129.4" r="1.32" fill="#bcbcbc" opacity="1.00"/>
<circle cx="1195.5" cy="122.0" r="1.27" fill="#c3c3c3" opacity="1.00"/>
<circle cx="1205.4" cy="115.0" r="1.56" fill="#c1c1c1" opacity="1.00"/>
<circle cx="1186.7" cy="113.6" r="1.65" fill="#d2d2d2" opacity="1.00"/>
<circle cx="1184.4" cy="122.3" r="1.51" fill="#cacaca" opacity="1.00"/>
<circle cx="1202.7" cy="115.8" r="1.52" fill="#cccccc" opacity="1.00"/>
<circle cx="1198.4" cy="119.6" r="1.33" fill="#cecece" opacity="1.00"/>
<circle cx="1231.2" cy="124.2" r="2.32" fill="#9f9f9f" opacity="1.00"/>
<circle cx="1231.0" cy="124.0" r="1.58" fill="#d6d6d6" opacity="1.00"/>
<circle cx="1231.9" cy="118.3" r="2.57" fill="#9f9f9f" opacity="1.00"/>
<circle cx="1231.7" cy="118.1" r="1.74" fill="#d6d6d6" opacity="1.00"/>
<circle cx="1234.6" cy="129.7" r="2.68" fill="#9f9f9f" opacity="1.00"/>
<circle cx="1234.4" cy="129.5" r="1.82" fill="#d6d6d6" opacity="1.00"/>
<circle cx="1247.8" cy="126.8" r="2.08" fill="#9f9f9f" opacity="1.00"/>
<circle cx="1247.6" cy="126.6" r="1.42" fill="#d6d6d6" opacity="1.00"/>
<circle cx="1247.1" cy="120.1" r="2.74" fill="#9f9f9f" opacity="1.00"/>
<circle cx="1246.9" cy="119.9" r="1.86" fill="#d6d6d6" opacity="1.00"/>
<circle cx="1231.8" cy="112.3" r="2.64" fill="#9f9f9f" opacity="1.00"/>
<circle cx="1231.6" cy="112.1" r="1.80" fill="#d6d6d6" opacity="1.00"/>
<circle cx="1244.1" cy="116.2" r="2.49" fill="#9f9f9f" opacity="1.00"/>
<circle cx="1243.9" cy="116.0" r="1.69" fill="#d6d6d6" opacity="1.00"/>
<circle cx="1241.4" cy="132.9" r="2.36" fill="#9f9f9f" opacity="1.00"/>
<circle cx="1241.2" cy="132.7" r="1.60" fill="#d6d6d6" opacity="1.00"/>
<circle cx="1239.0" cy="113.5" r="2.07" fill="#9f9f9f" opacity="1.00"/>
<circle cx="1238.8" cy="113.3" r="1.41" fill="#d6d6d6" opacity="1.00"/>
<circle cx="1237.4" cy="133.5" r="2.20" fill="#9f9f9f" opacity="1.00"/>
<circle cx="1237.2" cy="133.3" r="1.50" fill="#d6d6d6" opacity="1.00"/>
<circle cx="1226.5" cy="120.7" r="2.41" fill="#9f9f9f" opacity="1.00"/>
<circle cx="1226.3" cy="120.5" r="1.64" fill="#d6d6d6" opacity="1.00"/>
<circle cx="1226.8" cy="124.9" r="2.56" fill="#9f9f9f" opacity="1.00"/>
<circle cx="1226.6" cy="124.7" r="1.74" fill="#d6d6d6" opacity="1.00"/>
<circle cx="1243.7" cy="110.9" r="2.52" fill="#9f9f9f" opacity="1.00"/>
<circle cx="1243.5" cy="110.7" r="1.71" fill="#d6d6d6" opacity="1.00"/>
<circle cx="1228.1" cy="129.6" r="2.35" fill="#9f9f9f" opacity="1.00"/>
<circle cx="1227.9" cy="129.4" r="1.60" fill="#d6d6d6" opacity="1.00"/>
<circle cx="1231.2" cy="132.6" r="2.34" fill="#9f9f9f" opacity="1.00"/>
<circle cx="1231.0" cy="132.4" r="1.59" fill="#d6d6d6" opacity="1.00"/>
<circle cx="1244.2" cy="128.1" r="2.11" fill="#9f9f9f" opacity="1.00"/>
<circle cx="1244.0" cy="127.9" r="1.43" fill="#d6d6d6" opacity="1.00"/>
<circle cx="1251.3" cy="122.0" r="2.80" fill="#9f9f9f" opacity="1.00"/>
<circle cx="1251.1" cy="121.8" r="1.90" fill="#d6d6d6" opacity="1.00"/>
<circle cx="1246.3" cy="131.8" r="2.66" fill="#9f9f9f" opacity="1.00"/>
<circle cx="1246.1" cy="131.6" r="1.81" fill="#d6d6d6" opacity="1.00"/>
<circle cx="1248.1" cy="115.6" r="2.19" fill="#9f9f9f" opacity="1.00"/>
<circle cx="1247.9" cy="115.4" r="1.49" fill="#d6d6d6" opacity="1.00"/>
<circle cx="1228.3" cy="115.2" r="2.26" fill="#9f9f9f" opacity="1.00"/>
<circle cx="1228.1" cy="115.0" r="1.53" fill="#d6d6d6" opacity="1.00"/>
<circle cx="1234.9" cy="114.6" r="2.11" fill="#9f9f9f" opacity="1.00"/>
<circle cx="1234.7" cy="114.4" r="1.44" fill="#d6d6d6" opacity="1.00"/>
<circle cx="1236.7" cy="110.0" r="2.30" fill="#9f9f9f" opacity="1.00"/>
<circle cx="1236.5" cy="109.8" r="1.56" fill="#d6d6d6" opacity="1.00"/>
<circle cx="1058.6" cy="169.2" r="18.2" fill="url(#sg)"/>
<path d="M1045.9 171.4 A12.9 12.9 0 0 0 1066.9 179.1" fill="none" stroke="#fff" stroke-opacity="0.50" stroke-width="2.8" stroke-linecap="round"/>
<circle cx="1107.6" cy="168.8" r="17.1" fill="url(#sg)"/>
<path d="M1095.7 170.9 A12.1 12.1 0 0 0 1115.4 178.1" fill="none" stroke="#fff" stroke-opacity="0.50" stroke-width="2.6" stroke-linecap="round"/>
<circle cx="1149.4" cy="167.1" r="16.1" fill="url(#st)"/>
<circle cx="1153.9" cy="166.4" r="0.9" fill="#c0c0c0" opacity="0.50"/>
<circle cx="1153.7" cy="159.9" r="0.9" fill="#c8c8c8" opacity="0.50"/>
<circle cx="1149.6" cy="164.6" r="0.8" fill="#909090" opacity="0.50"/>
<circle cx="1147.6" cy="175.7" r="0.8" fill="#949494" opacity="0.50"/>
<circle cx="1156.7" cy="157.5" r="1.1" fill="#949494" opacity="0.50"/>
<circle cx="1141.8" cy="167.7" r="0.7" fill="#c8c8c8" opacity="0.50"/>
<circle cx="1143.4" cy="175.3" r="1.0" fill="#909090" opacity="0.50"/>
<circle cx="1156.6" cy="174.8" r="1.1" fill="#d0d0d0" opacity="0.50"/>
<circle cx="1147.2" cy="169.5" r="0.8" fill="#949494" opacity="0.50"/>
<circle cx="1159.0" cy="164.9" r="1.1" fill="#909090" opacity="0.50"/>
<circle cx="1145.3" cy="168.8" r="1.1" fill="#c8c8c8" opacity="0.50"/>
<circle cx="1144.3" cy="177.5" r="1.1" fill="#c0c0c0" opacity="0.50"/>
<circle cx="1145.8" cy="166.9" r="0.8" fill="#909090" opacity="0.50"/>
<circle cx="1139.7" cy="165.0" r="1.1" fill="#d0d0d0" opacity="0.50"/>
<circle cx="1153.9" cy="157.4" r="0.8" fill="#c8c8c8" opacity="0.50"/>
<circle cx="1149.6" cy="164.0" r="0.8" fill="#c0c0c0" opacity="0.50"/>
<circle cx="1150.5" cy="157.5" r="0.9" fill="#c0c0c0" opacity="0.50"/>
<circle cx="1151.4" cy="164.2" r="0.7" fill="#c8c8c8" opacity="0.50"/>
<circle cx="1157.1" cy="162.4" r="0.8" fill="#909090" opacity="0.50"/>
<circle cx="1157.7" cy="165.7" r="1.0" fill="#c0c0c0" opacity="0.50"/>
<circle cx="1144.9" cy="167.9" r="0.8" fill="#d0d0d0" opacity="0.50"/>
<circle cx="1144.6" cy="159.8" r="0.7" fill="#949494" opacity="0.50"/>
<circle cx="1148.1" cy="166.1" r="1.1" fill="#c8c8c8" opacity="0.50"/>
<circle cx="1142.5" cy="160.7" r="1.1" fill="#d0d0d0" opacity="0.50"/>
<circle cx="1154.4" cy="168.4" r="1.1" fill="#909090" opacity="0.50"/>
<circle cx="1148.4" cy="157.3" r="0.9" fill="#d0d0d0" opacity="0.50"/>
<circle cx="1194.5" cy="166.1" r="14.5" fill="#969696" opacity="1.00"/>
<circle cx="1208.5" cy="165.6" r="1.66" fill="#cecece" opacity="1.00"/>
<circle cx="1208.3" cy="168.3" r="1.49" fill="#cecece" opacity="1.00"/>
<circle cx="1207.5" cy="171.2" r="1.65" fill="#cecece" opacity="1.00"/>
<circle cx="1206.1" cy="173.8" r="1.44" fill="#cecece" opacity="1.00"/>
<circle cx="1205.2" cy="175.1" r="1.62" fill="#cecece" opacity="1.00"/>
<circle cx="1203.7" cy="176.6" r="1.37" fill="#cecece" opacity="1.00"/>
<circle cx="1201.4" cy="178.3" r="1.55" fill="#cecece" opacity="1.00"/>
<circle cx="1198.9" cy="179.4" r="1.36" fill="#cecece" opacity="1.00"/>
<circle cx="1196.3" cy="179.9" r="1.52" fill="#cecece" opacity="1.00"/>
<circle cx="1194.0" cy="180.1" r="1.43" fill="#cecece" opacity="1.00"/>
<circle cx="1192.0" cy="179.8" r="1.40" fill="#cecece" opacity="1.00"/>
<circle cx="1189.4" cy="179.1" r="1.51" fill="#cecece" opacity="1.00"/>
<circle cx="1186.7" cy="177.7" r="1.36" fill="#cecece" opacity="1.00"/>
<circle cx="1185.3" cy="176.6" r="1.59" fill="#cecece" opacity="1.00"/>
<circle cx="1183.0" cy="174.0" r="1.39" fill="#cecece" opacity="1.00"/>
<circle cx="1181.7" cy="171.7" r="1.54" fill="#cecece" opacity="1.00"/>
<circle cx="1181.0" cy="169.7" r="1.68" fill="#cecece" opacity="1.00"/>
<circle cx="1180.6" cy="167.5" r="1.53" fill="#cecece" opacity="1.00"/>
<circle cx="1180.6" cy="164.6" r="1.41" fill="#cecece" opacity="1.00"/>
<circle cx="1181.0" cy="162.6" r="1.51" fill="#cecece" opacity="1.00"/>
<circle cx="1182.2" cy="159.5" r="1.40" fill="#cecece" opacity="1.00"/>
<circle cx="1183.1" cy="158.0" r="1.62" fill="#cecece" opacity="1.00"/>
<circle cx="1184.5" cy="156.4" r="1.49" fill="#cecece" opacity="1.00"/>
<circle cx="1186.7" cy="154.5" r="1.33" fill="#cecece" opacity="1.00"/>
<circle cx="1188.5" cy="153.5" r="1.32" fill="#cecece" opacity="1.00"/>
<circle cx="1191.4" cy="152.5" r="1.38" fill="#cecece" opacity="1.00"/>
<circle cx="1193.9" cy="152.1" r="1.59" fill="#cecece" opacity="1.00"/>
<circle cx="1196.9" cy="152.3" r="1.36" fill="#cecece" opacity="1.00"/>
<circle cx="1199.1" cy="152.9" r="1.53" fill="#cecece" opacity="1.00"/>
<circle cx="1201.6" cy="154.1" r="1.44" fill="#cecece" opacity="1.00"/>
<circle cx="1203.5" cy="155.4" r="1.58" fill="#cecece" opacity="1.00"/>
<circle cx="1205.1" cy="157.0" r="1.53" fill="#cecece" opacity="1.00"/>
<circle cx="1206.7" cy="159.3" r="1.38" fill="#cecece" opacity="1.00"/>
<circle cx="1207.5" cy="161.0" r="1.67" fill="#cecece" opacity="1.00"/>
<circle cx="1208.2" cy="163.2" r="1.39" fill="#cecece" opacity="1.00"/>
<circle cx="1186.9" cy="164.8" r="1.45" fill="#cecece" opacity="1.00"/>
<circle cx="1200.7" cy="156.9" r="1.51" fill="#c1c1c1" opacity="1.00"/>
<circle cx="1195.0" cy="167.8" r="1.40" fill="#d2d2d2" opacity="1.00"/>
<circle cx="1187.5" cy="174.1" r="1.56" fill="#bababa" opacity="1.00"/>
<circle cx="1184.7" cy="162.1" r="1.28" fill="#cdcdcd" opacity="1.00"/>
<circle cx="1198.1" cy="171.0" r="1.69" fill="#c4c4c4" opacity="1.00"/>
<circle cx="1192.8" cy="159.7" r="1.45" fill="#b9b9b9" opacity="1.00"/>
<circle cx="1196.9" cy="158.9" r="1.63" fill="#c8c8c8" opacity="1.00"/>
<circle cx="1188.5" cy="171.4" r="1.67" fill="#d2d2d2" opacity="1.00"/>
<circle cx="1199.8" cy="162.8" r="1.52" fill="#c5c5c5" opacity="1.00"/>
<circle cx="1203.5" cy="164.9" r="1.65" fill="#c9c9c9" opacity="1.00"/>
<circle cx="1201.4" cy="168.3" r="1.54" fill="#d4d4d4" opacity="1.00"/>
<circle cx="1185.3" cy="169.0" r="1.54" fill="#cccccc" opacity="1.00"/>
<circle cx="1194.9" cy="156.3" r="1.54" fill="#c2c2c2" opacity="1.00"/>
<circle cx="1202.1" cy="171.2" r="1.58" fill="#c8c8c8" opacity="1.00"/>
<circle cx="1193.7" cy="173.0" r="1.67" fill="#d3d3d3" opacity="1.00"/>
<circle cx="1195.6" cy="161.5" r="1.38" fill="#c7c7c7" opacity="1.00"/>
<circle cx="1198.8" cy="166.8" r="1.45" fill="#c5c5c5" opacity="1.00"/>
<circle cx="1191.0" cy="168.0" r="1.36" fill="#c7c7c7" opacity="1.00"/>
<circle cx="1200.9" cy="175.1" r="1.36" fill="#d4d4d4" opacity="1.00"/>
<circle cx="1189.6" cy="156.3" r="1.32" fill="#c4c4c4" opacity="1.00"/>
<circle cx="1201.6" cy="159.6" r="1.33" fill="#c9c9c9" opacity="1.00"/>
<circle cx="1184.2" cy="165.3" r="1.66" fill="#b8b8b8" opacity="1.00"/>
<circle cx="1193.2" cy="164.4" r="1.34" fill="#b8b8b8" opacity="1.00"/>
<circle cx="1196.6" cy="164.4" r="1.37" fill="#c5c5c5" opacity="1.00"/>
<circle cx="1186.5" cy="158.1" r="1.37" fill="#d1d1d1" opacity="1.00"/>
<circle cx="1192.2" cy="176.1" r="1.57" fill="#bababa" opacity="1.00"/>
<circle cx="1195.0" cy="176.9" r="1.60" fill="#d1d1d1" opacity="1.00"/>
<circle cx="1196.8" cy="173.5" r="1.28" fill="#d2d2d2" opacity="1.00"/>
<circle cx="1204.0" cy="162.3" r="1.32" fill="#c4c4c4" opacity="1.00"/>
<circle cx="1190.4" cy="163.3" r="1.64" fill="#c6c6c6" opacity="1.00"/>
<circle cx="1188.3" cy="161.2" r="1.64" fill="#bebebe" opacity="1.00"/>
<circle cx="1192.2" cy="154.9" r="1.53" fill="#d2d2d2" opacity="1.00"/>
<circle cx="1205.3" cy="167.2" r="1.69" fill="#c5c5c5" opacity="1.00"/>
<circle cx="1197.9" cy="155.5" r="1.40" fill="#bdbdbd" opacity="1.00"/>
<circle cx="1190.7" cy="173.0" r="1.56" fill="#c8c8c8" opacity="1.00"/>
<circle cx="1184.9" cy="172.3" r="1.25" fill="#bfbfbf" opacity="1.00"/>
<circle cx="1198.3" cy="176.8" r="1.28" fill="#cacaca" opacity="1.00"/>
<circle cx="1192.5" cy="170.5" r="1.51" fill="#c7c7c7" opacity="1.00"/>
<circle cx="1204.8" cy="170.5" r="1.61" fill="#d3d3d3" opacity="1.00"/>
<circle cx="1188.0" cy="167.5" r="1.50" fill="#cfcfcf" opacity="1.00"/>
<circle cx="1189.4" cy="176.2" r="1.60" fill="#c1c1c1" opacity="1.00"/>
<circle cx="1189.9" cy="159.0" r="1.66" fill="#c4c4c4" opacity="1.00"/>
<circle cx="1247.5" cy="170.2" r="2.33" fill="#9f9f9f" opacity="1.00"/>
<circle cx="1247.3" cy="170.0" r="1.59" fill="#d6d6d6" opacity="1.00"/>
<circle cx="1238.4" cy="168.4" r="2.80" fill="#9f9f9f" opacity="1.00"/>
<circle cx="1238.2" cy="168.2" r="1.90" fill="#d6d6d6" opacity="1.00"/>
<circle cx="1235.4" cy="163.7" r="2.72" fill="#9f9f9f" opacity="1.00"/>
<circle cx="1235.2" cy="163.5" r="1.85" fill="#d6d6d6" opacity="1.00"/>
<circle cx="1230.9" cy="176.5" r="2.61" fill="#9f9f9f" opacity="1.00"/>
<circle cx="1230.7" cy="176.3" r="1.78" fill="#d6d6d6" opacity="1.00"/>
<circle cx="1231.3" cy="161.8" r="2.24" fill="#9f9f9f" opacity="1.00"/>
<circle cx="1231.1" cy="161.6" r="1.52" fill="#d6d6d6" opacity="1.00"/>
<circle cx="1239.5" cy="176.3" r="2.19" fill="#9f9f9f" opacity="1.00"/>
<circle cx="1239.3" cy="176.1" r="1.49" fill="#d6d6d6" opacity="1.00"/>
<circle cx="1246.4" cy="174.0" r="2.27" fill="#9f9f9f" opacity="1.00"/>
<circle cx="1246.2" cy="173.8" r="1.55" fill="#d6d6d6" opacity="1.00"/>
<circle cx="1229.1" cy="167.4" r="2.69" fill="#9f9f9f" opacity="1.00"/>
<circle cx="1228.9" cy="167.2" r="1.83" fill="#d6d6d6" opacity="1.00"/>
<circle cx="1233.4" cy="173.0" r="2.09" fill="#9f9f9f" opacity="1.00"/>
<circle cx="1233.2" cy="172.8" r="1.42" fill="#d6d6d6" opacity="1.00"/>
<circle cx="1228.8" cy="171.3" r="2.22" fill="#9f9f9f" opacity="1.00"/>
<circle cx="1228.6" cy="171.1" r="1.51" fill="#d6d6d6" opacity="1.00"/>
<circle cx="1244.4" cy="165.3" r="2.73" fill="#9f9f9f" opacity="1.00"/>
<circle cx="1244.2" cy="165.1" r="1.86" fill="#d6d6d6" opacity="1.00"/>
<circle cx="1240.3" cy="160.6" r="2.66" fill="#9f9f9f" opacity="1.00"/>
<circle cx="1240.1" cy="160.4" r="1.81" fill="#d6d6d6" opacity="1.00"/>
<circle cx="1233.4" cy="168.4" r="2.57" fill="#9f9f9f" opacity="1.00"/>
<circle cx="1233.2" cy="168.2" r="1.75" fill="#d6d6d6" opacity="1.00"/>
<circle cx="1241.5" cy="171.5" r="2.45" fill="#9f9f9f" opacity="1.00"/>
<circle cx="1241.3" cy="171.3" r="1.66" fill="#d6d6d6" opacity="1.00"/>
<circle cx="1236.1" cy="159.6" r="2.70" fill="#9f9f9f" opacity="1.00"/>
<circle cx="1235.9" cy="159.4" r="1.84" fill="#d6d6d6" opacity="1.00"/>
<circle cx="1234.7" cy="179.2" r="2.22" fill="#9f9f9f" opacity="1.00"/>
<circle cx="1234.5" cy="179.0" r="1.51" fill="#d6d6d6" opacity="1.00"/>
<circle cx="1244.1" cy="177.5" r="2.46" fill="#9f9f9f" opacity="1.00"/>
<circle cx="1243.9" cy="177.3" r="1.67" fill="#d6d6d6" opacity="1.00"/>
<circle cx="1245.4" cy="161.3" r="2.00" fill="#9f9f9f" opacity="1.00"/>
<circle cx="1245.2" cy="161.1" r="1.36" fill="#d6d6d6" opacity="1.00"/>
<circle cx="1240.2" cy="164.5" r="2.69" fill="#9f9f9f" opacity="1.00"/>
<circle cx="1240.0" cy="164.3" r="1.83" fill="#d6d6d6" opacity="1.00"/>
<circle cx="1237.4" cy="172.4" r="2.54" fill="#9f9f9f" opacity="1.00"/>
<circle cx="1237.2" cy="172.2" r="1.73" fill="#d6d6d6" opacity="1.00"/>
<circle cx="1238.7" cy="180.1" r="2.31" fill="#9f9f9f" opacity="1.00"/>
<circle cx="1238.5" cy="179.9" r="1.57" fill="#d6d6d6" opacity="1.00"/>
<circle cx="1248.3" cy="166.2" r="2.76" fill="#9f9f9f" opacity="1.00"/>
<circle cx="1248.1" cy="166.0" r="1.88" fill="#d6d6d6" opacity="1.00"/>
<circle cx="1057.9" cy="216.9" r="17.9" fill="url(#sg)"/>
<path d="M1045.4 219.1 A12.7 12.7 0 0 0 1066.1 226.6" fill="none" stroke="#fff" stroke-opacity="0.50" stroke-width="2.8" stroke-linecap="round"/>
<circle cx="1106.7" cy="216.2" r="16.8" fill="url(#sg)"/>
<path d="M1094.9 218.3 A11.9 11.9 0 0 0 1114.4 225.3" fill="none" stroke="#fff" stroke-opacity="0.50" stroke-width="2.6" stroke-linecap="round"/>
<circle cx="1150.7" cy="219.1" r="15.1" fill="url(#st)"/>
<circle cx="1143.1" cy="221.9" r="1.1" fill="#c8c8c8" opacity="0.50"/>
<circle cx="1148.1" cy="211.1" r="0.9" fill="#949494" opacity="0.50"/>
<circle cx="1148.8" cy="217.4" r="0.9" fill="#c0c0c0" opacity="0.50"/>
<circle cx="1151.8" cy="215.8" r="1.0" fill="#c0c0c0" opacity="0.50"/>
<circle cx="1149.8" cy="224.4" r="0.8" fill="#909090" opacity="0.50"/>
<circle cx="1144.8" cy="219.3" r="0.9" fill="#d0d0d0" opacity="0.50"/>
<circle cx="1150.9" cy="211.3" r="1.0" fill="#909090" opacity="0.50"/>
<circle cx="1153.0" cy="215.3" r="0.8" fill="#d0d0d0" opacity="0.50"/>
<circle cx="1155.3" cy="211.4" r="0.7" fill="#d0d0d0" opacity="0.50"/>
<circle cx="1155.1" cy="210.6" r="0.8" fill="#d0d0d0" opacity="0.50"/>
<circle cx="1151.1" cy="216.7" r="1.0" fill="#c8c8c8" opacity="0.50"/>
<circle cx="1153.2" cy="212.3" r="1.2" fill="#c8c8c8" opacity="0.50"/>
<circle cx="1146.6" cy="220.1" r="0.9" fill="#d0d0d0" opacity="0.50"/>
<circle cx="1158.0" cy="219.0" r="0.8" fill="#c8c8c8" opacity="0.50"/>
<circle cx="1147.1" cy="210.9" r="1.1" fill="#949494" opacity="0.50"/>
<circle cx="1142.8" cy="224.2" r="0.8" fill="#d0d0d0" opacity="0.50"/>
<circle cx="1152.7" cy="212.9" r="1.1" fill="#c0c0c0" opacity="0.50"/>
<circle cx="1158.1" cy="217.8" r="1.0" fill="#c0c0c0" opacity="0.50"/>
<circle cx="1158.8" cy="217.3" r="0.9" fill="#c0c0c0" opacity="0.50"/>
<circle cx="1143.5" cy="211.6" r="0.9" fill="#c0c0c0" opacity="0.50"/>
<circle cx="1150.2" cy="220.1" r="1.0" fill="#c8c8c8" opacity="0.50"/>
<circle cx="1154.8" cy="217.1" r="0.9" fill="#c0c0c0" opacity="0.50"/>
<circle cx="1145.8" cy="220.6" r="1.0" fill="#909090" opacity="0.50"/>
<circle cx="1156.0" cy="226.7" r="0.9" fill="#949494" opacity="0.50"/>
<circle cx="1154.7" cy="226.6" r="0.9" fill="#949494" opacity="0.50"/>
<circle cx="1146.0" cy="214.8" r="1.1" fill="#d0d0d0" opacity="0.50"/>
<circle cx="1192.2" cy="218.4" r="14.1" fill="#969696" opacity="1.00"/>
<circle cx="1205.8" cy="218.7" r="1.56" fill="#cecece" opacity="1.00"/>
<circle cx="1205.6" cy="220.2" r="1.49" fill="#cecece" opacity="1.00"/>
<circle cx="1205.1" cy="222.7" r="1.37" fill="#cecece" opacity="1.00"/>
<circle cx="1203.7" cy="225.6" r="1.48" fill="#cecece" opacity="1.00"/>
<circle cx="1202.6" cy="227.1" r="1.67" fill="#cecece" opacity="1.00"/>
<circle cx="1199.9" cy="229.6" r="1.33" fill="#cecece" opacity="1.00"/>
<circle cx="1197.7" cy="230.8" r="1.55" fill="#cecece" opacity="1.00"/>
<circle cx="1196.1" cy="231.4" r="1.35" fill="#cecece" opacity="1.00"/>
<circle cx="1193.7" cy="231.9" r="1.48" fill="#cecece" opacity="1.00"/>
<circle cx="1190.3" cy="231.8" r="1.65" fill="#cecece" opacity="1.00"/>
<circle cx="1188.1" cy="231.3" r="1.49" fill="#cecece" opacity="1.00"/>
<circle cx="1185.7" cy="230.3" r="1.50" fill="#cecece" opacity="1.00"/>
<circle cx="1184.1" cy="229.3" r="1.42" fill="#cecece" opacity="1.00"/>
<circle cx="1182.2" cy="227.6" r="1.69" fill="#cecece" opacity="1.00"/>
<circle cx="1180.6" cy="225.5" r="1.57" fill="#cecece" opacity="1.00"/>
<circle cx="1179.4" cy="222.9" r="1.48" fill="#cecece" opacity="1.00"/>
<circle cx="1178.8" cy="220.8" r="1.47" fill="#cecece" opacity="1.00"/>
<circle cx="1178.6" cy="218.4" r="1.36" fill="#cecece" opacity="1.00"/>
<circle cx="1178.9" cy="215.8" r="1.56" fill="#cecece" opacity="1.00"/>
<circle cx="1179.4" cy="214.0" r="1.40" fill="#cecece" opacity="1.00"/>
<circle cx="1180.7" cy="211.1" r="1.67" fill="#cecece" opacity="1.00"/>
<circle cx="1182.4" cy="209.0" r="1.34" fill="#cecece" opacity="1.00"/>
<circle cx="1183.9" cy="207.7" r="1.65" fill="#cecece" opacity="1.00"/>
<circle cx="1186.3" cy="206.2" r="1.57" fill="#cecece" opacity="1.00"/>
<circle cx="1188.9" cy="205.2" r="1.40" fill="#cecece" opacity="1.00"/>
<circle cx="1190.6" cy="204.9" r="1.42" fill="#cecece" opacity="1.00"/>
<circle cx="1193.3" cy="204.9" r="1.33" fill="#cecece" opacity="1.00"/>
<circle cx="1195.3" cy="205.2" r="1.64" fill="#cecece" opacity="1.00"/>
<circle cx="1198.8" cy="206.5" r="1.44" fill="#cecece" opacity="1.00"/>
<circle cx="1200.7" cy="207.8" r="1.33" fill="#cecece" opacity="1.00"/>
<circle cx="1201.8" cy="208.8" r="1.38" fill="#cecece" opacity="1.00"/>
<circle cx="1203.5" cy="210.9" r="1.57" fill="#cecece" opacity="1.00"/>
<circle cx="1204.6" cy="213.0" r="1.45" fill="#cecece" opacity="1.00"/>
<circle cx="1205.6" cy="216.4" r="1.54" fill="#cecece" opacity="1.00"/>
<circle cx="1190.8" cy="222.0" r="1.34" fill="#cccccc" opacity="1.00"/>
<circle cx="1193.5" cy="220.9" r="1.33" fill="#d0d0d0" opacity="1.00"/>
<circle cx="1182.9" cy="212.3" r="1.55" fill="#c6c6c6" opacity="1.00"/>
<circle cx="1185.5" cy="224.1" r="1.44" fill="#c9c9c9" opacity="1.00"/>
<circle cx="1200.6" cy="215.8" r="1.45" fill="#cacaca" opacity="1.00"/>
<circle cx="1190.4" cy="217.8" r="1.39" fill="#c2c2c2" opacity="1.00"/>
<circle cx="1195.0" cy="215.9" r="1.32" fill="#c4c4c4" opacity="1.00"/>
<circle cx="1192.4" cy="207.7" r="1.57" fill="#d3d3d3" opacity="1.00"/>
<circle cx="1187.2" cy="211.8" r="1.60" fill="#c9c9c9" opacity="1.00"/>
<circle cx="1181.8" cy="219.2" r="1.45" fill="#c7c7c7" opacity="1.00"/>
<circle cx="1190.6" cy="225.2" r="1.31" fill="#c0c0c0" opacity="1.00"/>
<circle cx="1191.4" cy="213.6" r="1.50" fill="#c1c1c1" opacity="1.00"/>
<circle cx="1188.6" cy="208.8" r="1.32" fill="#cacaca" opacity="1.00"/>
<circle cx="1187.0" cy="227.9" r="1.50" fill="#bcbcbc" opacity="1.00"/>
<circle cx="1190.3" cy="227.9" r="1.39" fill="#bbbbbb" opacity="1.00"/>
<circle cx="1188.0" cy="222.8" r="1.32" fill="#cccccc" opacity="1.00"/>
<circle cx="1196.3" cy="209.6" r="1.25" fill="#bfbfbf" opacity="1.00"/>
<circle cx="1182.1" cy="216.5" r="1.49" fill="#c7c7c7" opacity="1.00"/>
<circle cx="1198.5" cy="223.9" r="1.34" fill="#c8c8c8" opacity="1.00"/>
<circle cx="1185.8" cy="216.2" r="1.59" fill="#c6c6c6" opacity="1.00"/>
<circle cx="1198.1" cy="218.2" r="1.70" fill="#c9c9c9" opacity="1.00"/>
<circle cx="1197.7" cy="227.7" r="1.37" fill="#c5c5c5" opacity="1.00"/>
<circle cx="1184.9" cy="219.4" r="1.48" fill="#c2c2c2" opacity="1.00"/>
<circle cx="1202.4" cy="220.9" r="1.24" fill="#c5c5c5" opacity="1.00"/>
<circle cx="1194.9" cy="226.2" r="1.30" fill="#bfbfbf" opacity="1.00"/>
<circle cx="1189.0" cy="215.1" r="1.60" fill="#d1d1d1" opacity="1.00"/>
<circle cx="1192.8" cy="210.7" r="1.63" fill="#c6c6c6" opacity="1.00"/>
<circle cx="1197.5" cy="212.0" r="1.43" fill="#cbcbcb" opacity="1.00"/>
<circle cx="1201.3" cy="212.0" r="1.47" fill="#d4d4d4" opacity="1.00"/>
<circle cx="1184.8" cy="210.2" r="1.68" fill="#c6c6c6" opacity="1.00"/>
<circle cx="1193.1" cy="223.7" r="1.61" fill="#d3d3d3" opacity="1.00"/>
<circle cx="1202.6" cy="218.0" r="1.28" fill="#bbbbbb" opacity="1.00"/>
<circle cx="1197.6" cy="221.1" r="1.56" fill="#c4c4c4" opacity="1.00"/>
<circle cx="1194.4" cy="229.1" r="1.32" fill="#c5c5c5" opacity="1.00"/>
<circle cx="1182.7" cy="223.7" r="1.44" fill="#c7c7c7" opacity="1.00"/>
<circle cx="1197.7" cy="215.5" r="1.55" fill="#bbbbbb" opacity="1.00"/>
<circle cx="1194.2" cy="213.3" r="1.51" fill="#b9b9b9" opacity="1.00"/>
<circle cx="1201.4" cy="224.1" r="1.65" fill="#bbbbbb" opacity="1.00"/>
<circle cx="1187.8" cy="220.0" r="1.41" fill="#b8b8b8" opacity="1.00"/>
<circle cx="1193.1" cy="218.0" r="1.31" fill="#bababa" opacity="1.00"/>
<circle cx="1241.3" cy="206.3" r="2.67" fill="#9f9f9f" opacity="1.00"/>
<circle cx="1241.1" cy="206.1" r="1.81" fill="#d6d6d6" opacity="1.00"/>
<circle cx="1231.3" cy="207.2" r="2.42" fill="#9f9f9f" opacity="1.00"/>
<circle cx="1231.1" cy="207.0" r="1.65" fill="#d6d6d6" opacity="1.00"/>
<circle cx="1227.9" cy="221.1" r="2.01" fill="#9f9f9f" opacity="1.00"/>
<circle cx="1227.7" cy="220.9" r="1.37" fill="#d6d6d6" opacity="1.00"/>
<circle cx="1230.3" cy="215.1" r="2.56" fill="#9f9f9f" opacity="1.00"/>
<circle cx="1230.1" cy="214.9" r="1.74" fill="#d6d6d6" opacity="1.00"/>
<circle cx="1245.5" cy="223.9" r="2.03" fill="#9f9f9f" opacity="1.00"/>
<circle cx="1245.3" cy="223.7" r="1.38" fill="#d6d6d6" opacity="1.00"/>
<circle cx="1240.9" cy="224.2" r="2.04" fill="#9f9f9f" opacity="1.00"/>
<circle cx="1240.7" cy="224.0" r="1.39" fill="#d6d6d6" opacity="1.00"/>
<circle cx="1249.0" cy="218.5" r="2.41" fill="#9f9f9f" opacity="1.00"/>
<circle cx="1248.8" cy="218.3" r="1.64" fill="#d6d6d6" opacity="1.00"/>
<circle cx="1232.3" cy="222.3" r="2.04" fill="#9f9f9f" opacity="1.00"/>
<circle cx="1232.1" cy="222.1" r="1.39" fill="#d6d6d6" opacity="1.00"/>
<circle cx="1240.6" cy="216.4" r="2.64" fill="#9f9f9f" opacity="1.00"/>
<circle cx="1240.4" cy="216.2" r="1.80" fill="#d6d6d6" opacity="1.00"/>
<circle cx="1237.0" cy="228.8" r="2.44" fill="#9f9f9f" opacity="1.00"/>
<circle cx="1236.8" cy="228.6" r="1.66" fill="#d6d6d6" opacity="1.00"/>
<circle cx="1238.3" cy="212.8" r="2.46" fill="#9f9f9f" opacity="1.00"/>
<circle cx="1238.1" cy="212.6" r="1.67" fill="#d6d6d6" opacity="1.00"/>
<circle cx="1242.3" cy="212.8" r="2.57" fill="#9f9f9f" opacity="1.00"/>
<circle cx="1242.1" cy="212.6" r="1.75" fill="#d6d6d6" opacity="1.00"/>
<circle cx="1238.9" cy="220.7" r="2.15" fill="#9f9f9f" opacity="1.00"/>
<circle cx="1238.7" cy="220.5" r="1.46" fill="#d6d6d6" opacity="1.00"/>
<circle cx="1247.1" cy="213.9" r="2.57" fill="#9f9f9f" opacity="1.00"/>
<circle cx="1246.9" cy="213.7" r="1.75" fill="#d6d6d6" opacity="1.00"/>
<circle cx="1232.8" cy="226.5" r="2.76" fill="#9f9f9f" opacity="1.00"/>
<circle cx="1232.6" cy="226.3" r="1.88" fill="#d6d6d6" opacity="1.00"/>
<circle cx="1236.7" cy="224.0" r="2.64" fill="#9f9f9f" opacity="1.00"/>
<circle cx="1236.5" cy="223.8" r="1.80" fill="#d6d6d6" opacity="1.00"/>
<circle cx="1237.5" cy="205.4" r="2.05" fill="#9f9f9f" opacity="1.00"/>
<circle cx="1237.3" cy="205.2" r="1.39" fill="#d6d6d6" opacity="1.00"/>
<circle cx="1234.8" cy="215.6" r="2.68" fill="#9f9f9f" opacity="1.00"/>
<circle cx="1234.6" cy="215.4" r="1.82" fill="#d6d6d6" opacity="1.00"/>
<circle cx="1235.6" cy="209.6" r="2.80" fill="#9f9f9f" opacity="1.00"/>
<circle cx="1235.4" cy="209.4" r="1.90" fill="#d6d6d6" opacity="1.00"/>
<circle cx="1242.0" cy="228.1" r="2.34" fill="#9f9f9f" opacity="1.00"/>
<circle cx="1241.8" cy="227.9" r="1.59" fill="#d6d6d6" opacity="1.00"/>
<circle cx="1243.3" cy="219.4" r="2.69" fill="#9f9f9f" opacity="1.00"/>
<circle cx="1243.1" cy="219.2" r="1.83" fill="#d6d6d6" opacity="1.00"/>
<circle cx="1227.8" cy="211.4" r="2.72" fill="#9f9f9f" opacity="1.00"/>
<circle cx="1227.6" cy="211.2" r="1.85" fill="#d6d6d6" opacity="1.00"/>
<circle cx="1246.2" cy="210.1" r="2.43" fill="#9f9f9f" opacity="1.00"/>
<circle cx="1246.0" cy="209.9" r="1.65" fill="#d6d6d6" opacity="1.00"/>
<circle cx="1226.4" cy="216.4" r="2.52" fill="#9f9f9f" opacity="1.00"/>
<circle cx="1226.2" cy="216.2" r="1.71" fill="#d6d6d6" opacity="1.00"/>
<circle cx="1231.8" cy="211.2" r="2.42" fill="#9f9f9f" opacity="1.00"/>
<circle cx="1231.6" cy="211.0" r="1.65" fill="#d6d6d6" opacity="1.00"/>
<circle cx="1056.9" cy="270.0" r="17.9" fill="url(#sg)"/>
<path d="M1044.4 272.2 A12.7 12.7 0 0 0 1065.1 279.7" fill="none" stroke="#fff" stroke-opacity="0.50" stroke-width="2.8" stroke-linecap="round"/>
<circle cx="1104.2" cy="268.5" r="16.0" fill="url(#sg)"/>
<path d="M1093.1 270.5 A11.3 11.3 0 0 0 1111.5 277.2" fill="none" stroke="#fff" stroke-opacity="0.50" stroke-width="2.5" stroke-linecap="round"/>
<circle cx="1146.4" cy="268.5" r="15.1" fill="url(#st)"/>
<circle cx="1154.8" cy="275.4" r="1.0" fill="#909090" opacity="0.50"/>
<circle cx="1141.1" cy="263.6" r="0.8" fill="#c0c0c0" opacity="0.50"/>
<circle cx="1151.6" cy="258.9" r="1.0" fill="#d0d0d0" opacity="0.50"/>
<circle cx="1137.9" cy="266.8" r="0.9" fill="#c0c0c0" opacity="0.50"/>
<circle cx="1152.4" cy="276.7" r="1.0" fill="#949494" opacity="0.50"/>
<circle cx="1153.1" cy="261.6" r="1.0" fill="#c0c0c0" opacity="0.50"/>
<circle cx="1144.4" cy="262.0" r="0.8" fill="#c0c0c0" opacity="0.50"/>
<circle cx="1143.7" cy="268.2" r="1.2" fill="#909090" opacity="0.50"/>
<circle cx="1142.3" cy="267.3" r="0.7" fill="#949494" opacity="0.50"/>
<circle cx="1139.9" cy="274.3" r="1.2" fill="#c8c8c8" opacity="0.50"/>
<circle cx="1149.2" cy="267.6" r="0.9" fill="#949494" opacity="0.50"/>
<circle cx="1147.4" cy="279.3" r="1.0" fill="#909090" opacity="0.50"/>
<circle cx="1155.4" cy="261.7" r="0.8" fill="#c0c0c0" opacity="0.50"/>
<circle cx="1144.1" cy="274.1" r="1.1" fill="#c8c8c8" opacity="0.50"/>
<circle cx="1144.6" cy="272.2" r="0.8" fill="#c8c8c8" opacity="0.50"/>
<circle cx="1154.1" cy="260.6" r="1.1" fill="#949494" opacity="0.50"/>
<circle cx="1144.4" cy="274.7" r="0.9" fill="#d0d0d0" opacity="0.50"/>
<circle cx="1152.9" cy="262.1" r="1.2" fill="#c0c0c0" opacity="0.50"/>
<circle cx="1143.7" cy="260.1" r="0.8" fill="#d0d0d0" opacity="0.50"/>
<circle cx="1144.1" cy="259.4" r="0.9" fill="#949494" opacity="0.50"/>
<circle cx="1140.3" cy="268.9" r="0.9" fill="#c8c8c8" opacity="0.50"/>
<circle cx="1146.4" cy="264.1" r="1.0" fill="#c8c8c8" opacity="0.50"/>
<circle cx="1140.3" cy="276.0" r="0.8" fill="#c0c0c0" opacity="0.50"/>
<circle cx="1142.5" cy="275.5" r="1.0" fill="#c0c0c0" opacity="0.50"/>
<circle cx="1154.2" cy="263.8" r="1.0" fill="#c0c0c0" opacity="0.50"/>
<circle cx="1151.3" cy="262.6" r="1.1" fill="#c8c8c8" opacity="0.50"/>
<circle cx="1191.5" cy="270.7" r="14.8" fill="#969696" opacity="1.00"/>
<circle cx="1205.9" cy="271.3" r="1.45" fill="#cecece" opacity="1.00"/>
<circle cx="1205.7" cy="273.1" r="1.63" fill="#cecece" opacity="1.00"/>
<circle cx="1205.2" cy="275.0" r="1.50" fill="#cecece" opacity="1.00"/>
<circle cx="1204.2" cy="277.5" r="1.42" fill="#cecece" opacity="1.00"/>
<circle cx="1202.4" cy="280.1" r="1.55" fill="#cecece" opacity="1.00"/>
<circle cx="1200.2" cy="282.1" r="1.41" fill="#cecece" opacity="1.00"/>
<circle cx="1198.8" cy="283.1" r="1.63" fill="#cecece" opacity="1.00"/>
<circle cx="1195.9" cy="284.4" r="1.57" fill="#cecece" opacity="1.00"/>
<circle cx="1194.1" cy="284.8" r="1.69" fill="#cecece" opacity="1.00"/>
<circle cx="1191.4" cy="285.1" r="1.54" fill="#cecece" opacity="1.00"/>
<circle cx="1189.5" cy="284.9" r="1.44" fill="#cecece" opacity="1.00"/>
<circle cx="1186.1" cy="284.0" r="1.69" fill="#cecece" opacity="1.00"/>
<circle cx="1183.9" cy="282.9" r="1.59" fill="#cecece" opacity="1.00"/>
<circle cx="1182.1" cy="281.5" r="1.60" fill="#cecece" opacity="1.00"/>
<circle cx="1180.8" cy="280.3" r="1.35" fill="#cecece" opacity="1.00"/>
<circle cx="1179.0" cy="277.7" r="1.44" fill="#cecece" opacity="1.00"/>
<circle cx="1177.9" cy="275.4" r="1.32" fill="#cecece" opacity="1.00"/>
<circle cx="1177.5" cy="273.8" r="1.45" fill="#cecece" opacity="1.00"/>
<circle cx="1177.1" cy="270.3" r="1.38" fill="#cecece" opacity="1.00"/>
<circle cx="1177.3" cy="268.6" r="1.68" fill="#cecece" opacity="1.00"/>
<circle cx="1177.8" cy="266.4" r="1.46" fill="#cecece" opacity="1.00"/>
<circle cx="1179.1" cy="263.4" r="1.39" fill="#cecece" opacity="1.00"/>
<circle cx="1180.3" cy="261.7" r="1.65" fill="#cecece" opacity="1.00"/>
<circle cx="1182.5" cy="259.5" r="1.53" fill="#cecece" opacity="1.00"/>
<circle cx="1184.2" cy="258.3" r="1.57" fill="#cecece" opacity="1.00"/>
<circle cx="1187.0" cy="257.1" r="1.65" fill="#cecece" opacity="1.00"/>
<circle cx="1189.4" cy="256.5" r="1.51" fill="#cecece" opacity="1.00"/>
<circle cx="1191.6" cy="256.3" r="1.52" fill="#cecece" opacity="1.00"/>
<circle cx="1193.3" cy="256.4" r="1.52" fill="#cecece" opacity="1.00"/>
<circle cx="1196.2" cy="257.1" r="1.62" fill="#cecece" opacity="1.00"/>
<circle cx="1198.1" cy="258.0" r="1.66" fill="#cecece" opacity="1.00"/>
<circle cx="1200.3" cy="259.4" r="1.63" fill="#cecece" opacity="1.00"/>
<circle cx="1202.2" cy="261.1" r="1.64" fill="#cecece" opacity="1.00"/>
<circle cx="1203.6" cy="262.9" r="1.39" fill="#cecece" opacity="1.00"/>
<circle cx="1205.1" cy="266.1" r="1.69" fill="#cecece" opacity="1.00"/>
<circle cx="1205.7" cy="268.6" r="1.50" fill="#cecece" opacity="1.00"/>
<circle cx="1189.2" cy="262.3" r="1.62" fill="#cccccc" opacity="1.00"/>
<circle cx="1192.1" cy="262.6" r="1.35" fill="#cfcfcf" opacity="1.00"/>
<circle cx="1191.7" cy="274.3" r="1.35" fill="#d2d2d2" opacity="1.00"/>
<circle cx="1198.1" cy="271.2" r="1.26" fill="#bababa" opacity="1.00"/>
<circle cx="1196.1" cy="278.8" r="1.54" fill="#cecece" opacity="1.00"/>
<circle cx="1193.1" cy="277.3" r="1.46" fill="#cecece" opacity="1.00"/>
<circle cx="1201.2" cy="273.9" r="1.69" fill="#c7c7c7" opacity="1.00"/>
<circle cx="1182.1" cy="275.5" r="1.68" fill="#c0c0c0" opacity="1.00"/>
<circle cx="1196.1" cy="274.2" r="1.44" fill="#bebebe" opacity="1.00"/>
<circle cx="1184.1" cy="271.7" r="1.61" fill="#c0c0c0" opacity="1.00"/>
<circle cx="1185.2" cy="269.0" r="1.60" fill="#c8c8c8" opacity="1.00"/>
<circle cx="1185.0" cy="278.4" r="1.62" fill="#cdcdcd" opacity="1.00"/>
<circle cx="1191.8" cy="268.0" r="1.33" fill="#c7c7c7" opacity="1.00"/>
<circle cx="1197.9" cy="260.8" r="1.65" fill="#c7c7c7" opacity="1.00"/>
<circle cx="1188.6" cy="271.8" r="1.57" fill="#b9b9b9" opacity="1.00"/>
<circle cx="1193.4" cy="271.7" r="1.33" fill="#c2c2c2" opacity="1.00"/>
<circle cx="1192.1" cy="259.9" r="1.33" fill="#bfbfbf" opacity="1.00"/>
<circle cx="1188.6" cy="267.6" r="1.39" fill="#c2c2c2" opacity="1.00"/>
<circle cx="1194.2" cy="265.4" r="1.28" fill="#bdbdbd" opacity="1.00"/>
<circle cx="1182.8" cy="264.4" r="1.61" fill="#bbbbbb" opacity="1.00"/>
<circle cx="1190.6" cy="278.6" r="1.62" fill="#c6c6c6" opacity="1.00"/>
<circle cx="1197.3" cy="264.2" r="1.43" fill="#bfbfbf" opacity="1.00"/>
<circle cx="1197.9" cy="276.7" r="1.37" fill="#bdbdbd" opacity="1.00"/>
<circle cx="1185.7" cy="275.8" r="1.25" fill="#bbbbbb" opacity="1.00"/>
<circle cx="1203.3" cy="271.6" r="1.46" fill="#c9c9c9" opacity="1.00"/>
<circle cx="1180.4" cy="269.9" r="1.27" fill="#d3d3d3" opacity="1.00"/>
<circle cx="1195.0" cy="281.9" r="1.51" fill="#d1d1d1" opacity="1.00"/>
<circle cx="1191.9" cy="282.3" r="1.67" fill="#c2c2c2" opacity="1.00"/>
<circle cx="1190.6" cy="264.9" r="1.32" fill="#bebebe" opacity="1.00"/>
<circle cx="1201.6" cy="264.7" r="1.51" fill="#cbcbcb" opacity="1.00"/>
<circle cx="1196.9" cy="268.6" r="1.53" fill="#c1c1c1" opacity="1.00"/>
<circle cx="1182.6" cy="268.1" r="1.36" fill="#c4c4c4" opacity="1.00"/>
<circle cx="1186.0" cy="265.8" r="1.68" fill="#d1d1d1" opacity="1.00"/>
<circle cx="1186.8" cy="280.5" r="1.33" fill="#bababa" opacity="1.00"/>
<circle cx="1200.2" cy="278.5" r="1.30" fill="#cecece" opacity="1.00"/>
<circle cx="1188.7" cy="275.1" r="1.44" fill="#bcbcbc" opacity="1.00"/>
<circle cx="1186.1" cy="261.9" r="1.60" fill="#d0d0d0" opacity="1.00"/>
<circle cx="1202.2" cy="267.6" r="1.34" fill="#c9c9c9" opacity="1.00"/>
<circle cx="1189.0" cy="259.3" r="1.54" fill="#cfcfcf" opacity="1.00"/>
<circle cx="1180.9" cy="273.0" r="1.59" fill="#b9b9b9" opacity="1.00"/>
<circle cx="1189.0" cy="282.2" r="1.60" fill="#bfbfbf" opacity="1.00"/>
<circle cx="1195.2" cy="262.5" r="1.38" fill="#c3c3c3" opacity="1.00"/>
<circle cx="1195.5" cy="259.6" r="1.48" fill="#cdcdcd" opacity="1.00"/>
<circle cx="1187.7" cy="277.8" r="1.60" fill="#bababa" opacity="1.00"/>
<circle cx="1200.9" cy="270.3" r="1.32" fill="#cecece" opacity="1.00"/>
<circle cx="1199.1" cy="266.4" r="1.54" fill="#c9c9c9" opacity="1.00"/>
<circle cx="1228.6" cy="272.7" r="2.09" fill="#9f9f9f" opacity="1.00"/>
<circle cx="1228.4" cy="272.5" r="1.42" fill="#d6d6d6" opacity="1.00"/>
<circle cx="1227.6" cy="260.5" r="2.61" fill="#9f9f9f" opacity="1.00"/>
<circle cx="1227.4" cy="260.3" r="1.77" fill="#d6d6d6" opacity="1.00"/>
<circle cx="1233.2" cy="263.1" r="2.60" fill="#9f9f9f" opacity="1.00"/>
<circle cx="1233.0" cy="262.9" r="1.77" fill="#d6d6d6" opacity="1.00"/>
<circle cx="1232.5" cy="274.0" r="2.13" fill="#9f9f9f" opacity="1.00"/>
<circle cx="1232.3" cy="273.8" r="1.45" fill="#d6d6d6" opacity="1.00"/>
<circle cx="1233.5" cy="258.5" r="2.48" fill="#9f9f9f" opacity="1.00"/>
<circle cx="1233.3" cy="258.3" r="1.69" fill="#d6d6d6" opacity="1.00"/>
<circle cx="1224.5" cy="267.0" r="2.80" fill="#9f9f9f" opacity="1.00"/>
<circle cx="1224.3" cy="266.8" r="1.90" fill="#d6d6d6" opacity="1.00"/>
<circle cx="1230.7" cy="266.9" r="2.73" fill="#9f9f9f" opacity="1.00"/>
<circle cx="1230.5" cy="266.7" r="1.86" fill="#d6d6d6" opacity="1.00"/>
<circle cx="1238.3" cy="257.9" r="2.67" fill="#9f9f9f" opacity="1.00"/>
<circle cx="1238.1" cy="257.7" r="1.82" fill="#d6d6d6" opacity="1.00"/>
<circle cx="1241.9" cy="263.5" r="2.10" fill="#9f9f9f" opacity="1.00"/>
<circle cx="1241.7" cy="263.3" r="1.43" fill="#d6d6d6" opacity="1.00"/>
<circle cx="1229.4" cy="254.6" r="2.36" fill="#9f9f9f" opacity="1.00"/>
<circle cx="1229.2" cy="254.4" r="1.60" fill="#d6d6d6" opacity="1.00"/>
<circle cx="1235.7" cy="267.3" r="2.13" fill="#9f9f9f" opacity="1.00"/>
<circle cx="1235.5" cy="267.1" r="1.45" fill="#d6d6d6" opacity="1.00"/>
<circle cx="1240.8" cy="267.2" r="2.74" fill="#9f9f9f" opacity="1.00"/>
<circle cx="1240.6" cy="267.0" r="1.87" fill="#d6d6d6" opacity="1.00"/>
<circle cx="1235.5" cy="254.9" r="2.06" fill="#9f9f9f" opacity="1.00"/>
<circle cx="1235.3" cy="254.7" r="1.40" fill="#d6d6d6" opacity="1.00"/>
<circle cx="1238.2" cy="271.0" r="2.21" fill="#9f9f9f" opacity="1.00"/>
<circle cx="1238.0" cy="270.8" r="1.51" fill="#d6d6d6" opacity="1.00"/>
<circle cx="1223.8" cy="261.6" r="2.07" fill="#9f9f9f" opacity="1.00"/>
<circle cx="1223.6" cy="261.4" r="1.41" fill="#d6d6d6" opacity="1.00"/>
<circle cx="1237.4" cy="262.2" r="2.53" fill="#9f9f9f" opacity="1.00"/>
<circle cx="1237.2" cy="262.0" r="1.72" fill="#d6d6d6" opacity="1.00"/>
<circle cx="1225.8" cy="256.9" r="2.26" fill="#9f9f9f" opacity="1.00"/>
<circle cx="1225.6" cy="256.7" r="1.54" fill="#d6d6d6" opacity="1.00"/>
<circle cx="1224.8" cy="270.9" r="2.07" fill="#9f9f9f" opacity="1.00"/>
<circle cx="1224.6" cy="270.7" r="1.40" fill="#d6d6d6" opacity="1.00"/>
<circle cx="1219.0" cy="270.5" r="2.69" fill="#9f9f9f" opacity="1.00"/>
<circle cx="1218.8" cy="270.3" r="1.83" fill="#d6d6d6" opacity="1.00"/>
<circle cx="1223.5" cy="270.8" r="2.68" fill="#9f9f9f" opacity="1.00"/>
<circle cx="1223.3" cy="270.6" r="1.82" fill="#d6d6d6" opacity="1.00"/>
<circle cx="1215.0" cy="269.5" r="2.16" fill="#9f9f9f" opacity="1.00"/>
<circle cx="1214.8" cy="269.3" r="1.47" fill="#d6d6d6" opacity="1.00"/>
<circle cx="1108.1" cy="232.6" r="4.6" fill="#bdbdbd"/>
<circle cx="1289.0" cy="69.9" r="18.2" fill="url(#sgb)"/>
<path d="M1276.3 72.1 A12.9 12.9 0 0 0 1297.3 79.8" fill="none" stroke="#fff" stroke-opacity="0.50" stroke-width="2.8" stroke-linecap="round"/>
<circle cx="1336.6" cy="69.9" r="17.1" fill="url(#sg)"/>
<path d="M1324.7 72.0 A12.1 12.1 0 0 0 1344.4 79.2" fill="none" stroke="#fff" stroke-opacity="0.50" stroke-width="2.6" stroke-linecap="round"/>
<circle cx="1382.1" cy="68.4" r="15.1" fill="url(#st)"/>
<circle cx="1374.5" cy="64.0" r="0.8" fill="#949494" opacity="0.50"/>
<circle cx="1391.4" cy="72.6" r="1.2" fill="#949494" opacity="0.50"/>
<circle cx="1375.5" cy="70.2" r="0.7" fill="#c0c0c0" opacity="0.50"/>
<circle cx="1386.9" cy="77.2" r="0.9" fill="#949494" opacity="0.50"/>
<circle cx="1385.3" cy="64.2" r="0.9" fill="#909090" opacity="0.50"/>
<circle cx="1388.4" cy="66.0" r="0.7" fill="#d0d0d0" opacity="0.50"/>
<circle cx="1386.1" cy="73.1" r="0.9" fill="#c8c8c8" opacity="0.50"/>
<circle cx="1380.3" cy="79.5" r="0.9" fill="#c0c0c0" opacity="0.50"/>
<circle cx="1390.0" cy="75.0" r="0.8" fill="#c0c0c0" opacity="0.50"/>
<circle cx="1380.3" cy="70.2" r="1.1" fill="#c0c0c0" opacity="0.50"/>
<circle cx="1389.1" cy="71.6" r="0.9" fill="#c8c8c8" opacity="0.50"/>
<circle cx="1379.2" cy="76.2" r="1.0" fill="#909090" opacity="0.50"/>
<circle cx="1387.5" cy="74.4" r="1.1" fill="#d0d0d0" opacity="0.50"/>
<circle cx="1389.8" cy="74.2" r="1.0" fill="#949494" opacity="0.50"/>
<circle cx="1385.5" cy="63.2" r="0.8" fill="#c0c0c0" opacity="0.50"/>
<circle cx="1391.9" cy="71.2" r="0.8" fill="#909090" opacity="0.50"/>
<circle cx="1379.1" cy="60.1" r="0.9" fill="#c0c0c0" opacity="0.50"/>
<circle cx="1388.7" cy="69.6" r="0.8" fill="#949494" opacity="0.50"/>
<circle cx="1383.3" cy="58.3" r="1.1" fill="#c8c8c8" opacity="0.50"/>
<circle cx="1384.2" cy="69.0" r="1.0" fill="#909090" opacity="0.50"/>
<circle cx="1372.5" cy="68.2" r="1.1" fill="#d0d0d0" opacity="0.50"/>
<circle cx="1388.0" cy="63.8" r="0.7" fill="#909090" opacity="0.50"/>
<circle cx="1379.8" cy="65.1" r="1.0" fill="#c0c0c0" opacity="0.50"/>
<circle cx="1384.7" cy="69.1" r="1.0" fill="#949494" opacity="0.50"/>
<circle cx="1384.4" cy="62.5" r="1.1" fill="#909090" opacity="0.50"/>
<circle cx="1388.1" cy="71.8" r="0.7" fill="#d0d0d0" opacity="0.50"/>
<circle cx="1427.2" cy="70.5" r="14.1" fill="#969696" opacity="1.00"/>
<circle cx="1440.8" cy="70.3" r="1.37" fill="#cecece" opacity="1.00"/>
<circle cx="1440.5" cy="73.0" r="1.68" fill="#cecece" opacity="1.00"/>
<circle cx="1439.9" cy="75.2" r="1.60" fill="#cecece" opacity="1.00"/>
<circle cx="1439.0" cy="77.2" r="1.45" fill="#cecece" opacity="1.00"/>
<circle cx="1437.2" cy="79.6" r="1.62" fill="#cecece" opacity="1.00"/>
<circle cx="1435.6" cy="81.2" r="1.51" fill="#cecece" opacity="1.00"/>
<circle cx="1433.1" cy="82.7" r="1.63" fill="#cecece" opacity="1.00"/>
<circle cx="1430.5" cy="83.7" r="1.39" fill="#cecece" opacity="1.00"/>
<circle cx="1428.4" cy="84.0" r="1.62" fill="#cecece" opacity="1.00"/>
<circle cx="1426.2" cy="84.0" r="1.56" fill="#cecece" opacity="1.00"/>
<circle cx="1424.0" cy="83.7" r="1.39" fill="#cecece" opacity="1.00"/>
<circle cx="1420.8" cy="82.4" r="1.63" fill="#cecece" opacity="1.00"/>
<circle cx="1419.5" cy="81.7" r="1.64" fill="#cecece" opacity="1.00"/>
<circle cx="1417.5" cy="80.0" r="1.34" fill="#cecece" opacity="1.00"/>
<circle cx="1415.8" cy="77.9" r="1.61" fill="#cecece" opacity="1.00"/>
<circle cx="1414.5" cy="75.3" r="1.59" fill="#cecece" opacity="1.00"/>
<circle cx="1414.0" cy="73.5" r="1.70" fill="#cecece" opacity="1.00"/>
<circle cx="1413.6" cy="71.2" r="1.68" fill="#cecece" opacity="1.00"/>
<circle cx="1413.8" cy="68.1" r="1.58" fill="#cecece" opacity="1.00"/>
<circle cx="1414.8" cy="65.0" r="1.50" fill="#cecece" opacity="1.00"/>
<circle cx="1416.0" cy="62.9" r="1.38" fill="#cecece" opacity="1.00"/>
<circle cx="1416.8" cy="61.7" r="1.54" fill="#cecece" opacity="1.00"/>
<circle cx="1418.7" cy="59.9" r="1.42" fill="#cecece" opacity="1.00"/>
<circle cx="1421.4" cy="58.2" r="1.41" fill="#cecece" opacity="1.00"/>
<circle cx="1423.0" cy="57.6" r="1.51" fill="#cecece" opacity="1.00"/>
<circle cx="1425.9" cy="57.0" r="1.33" fill="#cecece" opacity="1.00"/>
<circle cx="1428.2" cy="57.0" r="1.36" fill="#cecece" opacity="1.00"/>
<circle cx="1431.2" cy="57.5" r="1.41" fill="#cecece" opacity="1.00"/>
<circle cx="1432.7" cy="58.1" r="1.65" fill="#cecece" opacity="1.00"/>
<circle cx="1435.6" cy="59.8" r="1.39" fill="#cecece" opacity="1.00"/>
<circle cx="1437.6" cy="61.8" r="1.49" fill="#cecece" opacity="1.00"/>
<circle cx="1438.6" cy="63.1" r="1.40" fill="#cecece" opacity="1.00"/>
<circle cx="1439.9" cy="65.7" r="1.40" fill="#cecece" opacity="1.00"/>
<circle cx="1440.6" cy="68.1" r="1.68" fill="#cecece" opacity="1.00"/>
<circle cx="1421.5" cy="71.0" r="1.57" fill="#c1c1c1" opacity="1.00"/>
<circle cx="1426.1" cy="76.8" r="1.57" fill="#cacaca" opacity="1.00"/>
<circle cx="1430.2" cy="72.0" r="1.63" fill="#d1d1d1" opacity="1.00"/>
<circle cx="1418.2" cy="67.2" r="1.36" fill="#c2c2c2" opacity="1.00"/>
<circle cx="1436.8" cy="66.3" r="1.57" fill="#bbbbbb" opacity="1.00"/>
<circle cx="1427.1" cy="64.4" r="1.47" fill="#d2d2d2" opacity="1.00"/>
<circle cx="1431.3" cy="65.3" r="1.55" fill="#cbcbcb" opacity="1.00"/>
<circle cx="1434.5" cy="63.0" r="1.42" fill="#cacaca" opacity="1.00"/>
<circle cx="1433.0" cy="70.9" r="1.66" fill="#c9c9c9" opacity="1.00"/>
<circle cx="1422.3" cy="80.3" r="1.32" fill="#bebebe" opacity="1.00"/>
<circle cx="1427.5" cy="72.7" r="1.50" fill="#cdcdcd" opacity="1.00"/>
<circle cx="1424.0" cy="64.2" r="1.58" fill="#bfbfbf" opacity="1.00"/>
<circle cx="1436.6" cy="74.7" r="1.33" fill="#c1c1c1" opacity="1.00"/>
<circle cx="1421.5" cy="66.6" r="1.46" fill="#d1d1d1" opacity="1.00"/>
<circle cx="1418.9" cy="72.5" r="1.24" fill="#d1d1d1" opacity="1.00"/>
<circle cx="1438.0" cy="72.2" r="1.39" fill="#cbcbcb" opacity="1.00"/>
<circle cx="1435.9" cy="69.5" r="1.50" fill="#d1d1d1" opacity="1.00"/>
<circle cx="1432.6" cy="79.5" r="1.31" fill="#cacaca" opacity="1.00"/>
<circle cx="1435.8" cy="77.4" r="1.30" fill="#c8c8c8" opacity="1.00"/>
<circle cx="1428.9" cy="78.6" r="1.45" fill="#c6c6c6" opacity="1.00"/>
<circle cx="1425.6" cy="80.5" r="1.42" fill="#c5c5c5" opacity="1.00"/>
<circle cx="1424.3" cy="67.7" r="1.32" fill="#c0c0c0" opacity="1.00"/>
<circle cx="1426.8" cy="60.6" r="1.57" fill="#d3d3d3" opacity="1.00"/>
<circle cx="1420.7" cy="63.9" r="1.58" fill="#c1c1c1" opacity="1.00"/>
<circle cx="1424.6" cy="72.8" r="1.25" fill="#bdbdbd" opacity="1.00"/>
<circle cx="1431.4" cy="60.6" r="1.33" fill="#d1d1d1" opacity="1.00"/>
<circle cx="1429.9" cy="62.9" r="1.25" fill="#c7c7c7" opacity="1.00"/>
<circle cx="1431.3" cy="68.5" r="1.55" fill="#d3d3d3" opacity="1.00"/>
<circle cx="1419.3" cy="77.4" r="1.66" fill="#c5c5c5" opacity="1.00"/>
<circle cx="1433.4" cy="75.7" r="1.69" fill="#bbbbbb" opacity="1.00"/>
<circle cx="1423.8" cy="61.1" r="1.44" fill="#cecece" opacity="1.00"/>
<circle cx="1417.1" cy="70.0" r="1.63" fill="#d0d0d0" opacity="1.00"/>
<circle cx="1430.8" cy="74.8" r="1.61" fill="#bfbfbf" opacity="1.00"/>
<circle cx="1427.6" cy="69.7" r="1.37" fill="#cecece" opacity="1.00"/>
<circle cx="1422.5" cy="74.6" r="1.53" fill="#c9c9c9" opacity="1.00"/>
<circle cx="1417.3" cy="75.4" r="1.50" fill="#bababa" opacity="1.00"/>
<circle cx="1428.7" cy="67.0" r="1.24" fill="#c9c9c9" opacity="1.00"/>
<circle cx="1433.7" cy="66.6" r="1.39" fill="#cacaca" opacity="1.00"/>
<circle cx="1428.5" cy="81.3" r="1.32" fill="#d2d2d2" opacity="1.00"/>
<circle cx="1422.9" cy="77.4" r="1.66" fill="#c5c5c5" opacity="1.00"/>
<circle cx="1479.5" cy="66.9" r="2.20" fill="#9f9f9f" opacity="1.00"/>
<circle cx="1479.3" cy="66.7" r="1.49" fill="#d6d6d6" opacity="1.00"/>
<circle cx="1477.9" cy="62.9" r="2.24" fill="#9f9f9f" opacity="1.00"/>
<circle cx="1477.7" cy="62.7" r="1.52" fill="#d6d6d6" opacity="1.00"/>
<circle cx="1471.1" cy="81.4" r="2.08" fill="#9f9f9f" opacity="1.00"/>
<circle cx="1470.9" cy="81.2" r="1.41" fill="#d6d6d6" opacity="1.00"/>
<circle cx="1472.3" cy="63.8" r="2.53" fill="#9f9f9f" opacity="1.00"/>
<circle cx="1472.1" cy="63.6" r="1.72" fill="#d6d6d6" opacity="1.00"/>
<circle cx="1479.2" cy="77.5" r="2.53" fill="#9f9f9f" opacity="1.00"/>
<circle cx="1479.0" cy="77.3" r="1.72" fill="#d6d6d6" opacity="1.00"/>
<circle cx="1466.9" cy="67.7" r="2.42" fill="#9f9f9f" opacity="1.00"/>
<circle cx="1466.7" cy="67.5" r="1.64" fill="#d6d6d6" opacity="1.00"/>
<circle cx="1466.0" cy="72.7" r="2.32" fill="#9f9f9f" opacity="1.00"/>
<circle cx="1465.8" cy="72.5" r="1.58" fill="#d6d6d6" opacity="1.00"/>
<circle cx="1474.4" cy="76.1" r="2.38" fill="#9f9f9f" opacity="1.00"/>
<circle cx="1474.2" cy="75.9" r="1.62" fill="#d6d6d6" opacity="1.00"/>
<circle cx="1460.1" cy="72.4" r="2.34" fill="#9f9f9f" opacity="1.00"/>
<circle cx="1459.9" cy="72.2" r="1.59" fill="#d6d6d6" opacity="1.00"/>
<circle cx="1469.0" cy="76.1" r="1.95" fill="#9f9f9f" opacity="1.00"/>
<circle cx="1468.8" cy="75.9" r="1.33" fill="#d6d6d6" opacity="1.00"/>
<circle cx="1477.9" cy="72.0" r="2.43" fill="#9f9f9f" opacity="1.00"/>
<circle cx="1477.7" cy="71.8" r="1.65" fill="#d6d6d6" opacity="1.00"/>
<circle cx="1467.7" cy="62.2" r="1.94" fill="#9f9f9f" opacity="1.00"/>
<circle cx="1467.5" cy="62.0" r="1.32" fill="#d6d6d6" opacity="1.00"/>
<circle cx="1463.5" cy="69.2" r="2.42" fill="#9f9f9f" opacity="1.00"/>
<circle cx="1463.3" cy="69.0" r="1.64" fill="#d6d6d6" opacity="1.00"/>
<circle cx="1473.0" cy="70.3" r="2.19" fill="#9f9f9f" opacity="1.00"/>
<circle cx="1472.8" cy="70.1" r="1.49" fill="#d6d6d6" opacity="1.00"/>
<circle cx="1466.1" cy="78.3" r="1.86" fill="#9f9f9f" opacity="1.00"/>
<circle cx="1465.9" cy="78.1" r="1.26" fill="#d6d6d6" opacity="1.00"/>
<circle cx="1461.6" cy="76.4" r="2.34" fill="#9f9f9f" opacity="1.00"/>
<circle cx="1461.4" cy="76.2" r="1.59" fill="#d6d6d6" opacity="1.00"/>
<circle cx="1470.7" cy="60.1" r="2.00" fill="#9f9f9f" opacity="1.00"/>
<circle cx="1470.5" cy="59.9" r="1.36" fill="#d6d6d6" opacity="1.00"/>
<circle cx="1461.9" cy="65.9" r="2.00" fill="#9f9f9f" opacity="1.00"/>
<circle cx="1461.7" cy="65.7" r="1.36" fill="#d6d6d6" opacity="1.00"/>
<circle cx="1474.6" cy="60.8" r="2.30" fill="#9f9f9f" opacity="1.00"/>
<circle cx="1474.4" cy="60.6" r="1.56" fill="#d6d6d6" opacity="1.00"/>
<circle cx="1475.4" cy="65.6" r="2.11" fill="#9f9f9f" opacity="1.00"/>
<circle cx="1475.2" cy="65.4" r="1.44" fill="#d6d6d6" opacity="1.00"/>
<circle cx="1475.6" cy="80.6" r="2.17" fill="#9f9f9f" opacity="1.00"/>
<circle cx="1475.4" cy="80.4" r="1.47" fill="#d6d6d6" opacity="1.00"/>
<circle cx="1469.4" cy="71.0" r="2.36" fill="#9f9f9f" opacity="1.00"/>
<circle cx="1469.2" cy="70.8" r="1.61" fill="#d6d6d6" opacity="1.00"/>
<circle cx="1463.7" cy="62.7" r="1.99" fill="#9f9f9f" opacity="1.00"/>
<circle cx="1463.5" cy="62.5" r="1.35" fill="#d6d6d6" opacity="1.00"/>
<circle cx="1481.5" cy="70.1" r="2.16" fill="#9f9f9f" opacity="1.00"/>
<circle cx="1481.3" cy="69.9" r="1.47" fill="#d6d6d6" opacity="1.00"/>
<circle cx="1470.6" cy="67.5" r="2.38" fill="#9f9f9f" opacity="1.00"/>
<circle cx="1470.4" cy="67.3" r="1.62" fill="#d6d6d6" opacity="1.00"/>
<circle cx="1481.2" cy="74.0" r="2.46" fill="#9f9f9f" opacity="1.00"/>
<circle cx="1481.0" cy="73.8" r="1.68" fill="#d6d6d6" opacity="1.00"/>
<circle cx="1290.4" cy="121.6" r="17.1" fill="url(#sgb)" opacity="0.97"/>
<path d="M1278.5 123.7 A12.1 12.1 0 0 0 1298.2 130.9" fill="none" stroke="#fff" stroke-opacity="0.48" stroke-width="2.6" stroke-linecap="round"/>
<ellipse cx="1341.8" cy="122.9" rx="16.6" ry="15.2" transform="rotate(35 1341.8 122.9)" fill="url(#sg)" opacity="0.93"/>
<circle cx="1383.1" cy="118.9" r="14.6" fill="url(#st)"/>
<circle cx="1374.5" cy="114.0" r="1.2" fill="#c0c0c0" opacity="0.50"/>
<circle cx="1375.5" cy="111.2" r="1.2" fill="#949494" opacity="0.50"/>
<circle cx="1390.7" cy="116.5" r="0.8" fill="#c8c8c8" opacity="0.50"/>
<circle cx="1383.3" cy="127.4" r="1.1" fill="#c8c8c8" opacity="0.50"/>
<circle cx="1390.1" cy="113.8" r="1.1" fill="#c0c0c0" opacity="0.50"/>
<circle cx="1389.0" cy="120.0" r="1.2" fill="#949494" opacity="0.50"/>
<circle cx="1381.3" cy="115.3" r="0.7" fill="#909090" opacity="0.50"/>
<circle cx="1387.4" cy="126.1" r="1.0" fill="#d0d0d0" opacity="0.50"/>
<circle cx="1375.5" cy="125.6" r="0.9" fill="#949494" opacity="0.50"/>
<circle cx="1392.5" cy="117.6" r="0.8" fill="#c0c0c0" opacity="0.50"/>
<circle cx="1386.8" cy="118.9" r="0.9" fill="#c8c8c8" opacity="0.50"/>
<circle cx="1393.0" cy="116.9" r="1.1" fill="#c0c0c0" opacity="0.50"/>
<circle cx="1383.0" cy="110.5" r="1.1" fill="#949494" opacity="0.50"/>
<circle cx="1391.4" cy="118.1" r="1.1" fill="#d0d0d0" opacity="0.50"/>
<circle cx="1384.3" cy="118.2" r="0.8" fill="#d0d0d0" opacity="0.50"/>
<circle cx="1387.8" cy="112.0" r="1.1" fill="#949494" opacity="0.50"/>
<circle cx="1387.3" cy="114.6" r="1.1" fill="#c8c8c8" opacity="0.50"/>
<circle cx="1386.0" cy="116.1" r="1.1" fill="#c8c8c8" opacity="0.50"/>
<circle cx="1376.5" cy="124.9" r="0.9" fill="#c8c8c8" opacity="0.50"/>
<circle cx="1382.9" cy="126.2" r="0.9" fill="#d0d0d0" opacity="0.50"/>
<circle cx="1377.8" cy="128.2" r="1.0" fill="#d0d0d0" opacity="0.50"/>
<circle cx="1382.6" cy="115.5" r="0.7" fill="#c8c8c8" opacity="0.50"/>
<circle cx="1374.2" cy="120.7" r="0.9" fill="#c0c0c0" opacity="0.50"/>
<circle cx="1373.5" cy="121.5" r="0.9" fill="#c8c8c8" opacity="0.50"/>
<circle cx="1391.8" cy="123.8" r="0.7" fill="#c0c0c0" opacity="0.50"/>
<circle cx="1384.1" cy="117.3" r="1.1" fill="#d0d0d0" opacity="0.50"/>
<circle cx="1426.1" cy="118.1" r="13.5" fill="#808080" opacity="1.00"/>
<circle cx="1439.1" cy="117.9" r="1.59" fill="#d0d0d0" opacity="1.00"/>
<circle cx="1438.7" cy="121.1" r="1.51" fill="#d0d0d0" opacity="1.00"/>
<circle cx="1438.2" cy="122.7" r="1.47" fill="#d0d0d0" opacity="1.00"/>
<circle cx="1436.7" cy="125.6" r="1.48" fill="#d0d0d0" opacity="1.00"/>
<circle cx="1435.3" cy="127.2" r="1.46" fill="#d0d0d0" opacity="1.00"/>
<circle cx="1433.2" cy="129.0" r="1.64" fill="#d0d0d0" opacity="1.00"/>
<circle cx="1431.2" cy="130.0" r="1.68" fill="#d0d0d0" opacity="1.00"/>
<circle cx="1429.2" cy="130.7" r="1.46" fill="#d0d0d0" opacity="1.00"/>
<circle cx="1426.9" cy="131.0" r="1.44" fill="#d0d0d0" opacity="1.00"/>
<circle cx="1423.8" cy="130.9" r="1.36" fill="#d0d0d0" opacity="1.00"/>
<circle cx="1421.7" cy="130.3" r="1.67" fill="#d0d0d0" opacity="1.00"/>
<circle cx="1419.8" cy="129.5" r="1.66" fill="#d0d0d0" opacity="1.00"/>
<circle cx="1417.5" cy="127.8" r="1.70" fill="#d0d0d0" opacity="1.00"/>
<circle cx="1416.2" cy="126.5" r="1.52" fill="#d0d0d0" opacity="1.00"/>
<circle cx="1414.4" cy="123.7" r="1.59" fill="#d0d0d0" opacity="1.00"/>
<circle cx="1413.7" cy="121.8" r="1.53" fill="#d0d0d0" opacity="1.00"/>
<circle cx="1413.2" cy="119.4" r="1.41" fill="#d0d0d0" opacity="1.00"/>
<circle cx="1413.2" cy="116.9" r="1.55" fill="#d0d0d0" opacity="1.00"/>
<circle cx="1413.8" cy="114.1" r="1.36" fill="#d0d0d0" opacity="1.00"/>
<circle cx="1414.6" cy="112.1" r="1.55" fill="#d0d0d0" opacity="1.00"/>
<circle cx="1415.7" cy="110.4" r="1.35" fill="#d0d0d0" opacity="1.00"/>
<circle cx="1417.4" cy="108.5" r="1.51" fill="#d0d0d0" opacity="1.00"/>
<circle cx="1419.3" cy="107.1" r="1.52" fill="#d0d0d0" opacity="1.00"/>
<circle cx="1421.8" cy="105.9" r="1.66" fill="#d0d0d0" opacity="1.00"/>
<circle cx="1424.7" cy="105.2" r="1.36" fill="#d0d0d0" opacity="1.00"/>
<circle cx="1426.4" cy="105.1" r="1.60" fill="#d0d0d0" opacity="1.00"/>
<circle cx="1429.6" cy="105.6" r="1.38" fill="#d0d0d0" opacity="1.00"/>
<circle cx="1432.0" cy="106.6" r="1.63" fill="#d0d0d0" opacity="1.00"/>
<circle cx="1433.6" cy="107.5" r="1.50" fill="#d0d0d0" opacity="1.00"/>
<circle cx="1435.8" cy="109.5" r="1.34" fill="#d0d0d0" opacity="1.00"/>
<circle cx="1437.2" cy="111.4" r="1.65" fill="#d0d0d0" opacity="1.00"/>
<circle cx="1438.1" cy="113.1" r="1.35" fill="#d0d0d0" opacity="1.00"/>
<circle cx="1438.9" cy="116.3" r="1.33" fill="#d0d0d0" opacity="1.00"/>
<circle cx="1417.2" cy="116.8" r="1.32" fill="#d3d3d3" opacity="1.00"/>
<circle cx="1417.2" cy="121.4" r="1.40" fill="#cdcdcd" opacity="1.00"/>
<circle cx="1425.9" cy="127.8" r="1.27" fill="#d0d0d0" opacity="1.00"/>
<circle cx="1418.6" cy="112.1" r="1.56" fill="#c5c5c5" opacity="1.00"/>
<circle cx="1425.4" cy="119.1" r="1.57" fill="#d3d3d3" opacity="1.00"/>
<circle cx="1426.3" cy="111.6" r="1.37" fill="#cecece" opacity="1.00"/>
<circle cx="1433.2" cy="112.2" r="1.50" fill="#c8c8c8" opacity="1.00"/>
<circle cx="1432.6" cy="123.6" r="1.47" fill="#c8c8c8" opacity="1.00"/>
<circle cx="1422.0" cy="108.8" r="1.36" fill="#c1c1c1" opacity="1.00"/>
<circle cx="1425.4" cy="116.0" r="1.61" fill="#bebebe" opacity="1.00"/>
<circle cx="1428.6" cy="123.3" r="1.57" fill="#cdcdcd" opacity="1.00"/>
<circle cx="1424.6" cy="107.8" r="1.68" fill="#cfcfcf" opacity="1.00"/>
<circle cx="1431.9" cy="120.4" r="1.50" fill="#bebebe" opacity="1.00"/>
<circle cx="1428.5" cy="120.0" r="1.47" fill="#d6d6d6" opacity="1.00"/>
<circle cx="1422.1" cy="119.8" r="1.54" fill="#bbbbbb" opacity="1.00"/>
<circle cx="1435.3" cy="121.1" r="1.63" fill="#bfbfbf" opacity="1.00"/>
<circle cx="1434.0" cy="115.5" r="1.56" fill="#c4c4c4" opacity="1.00"/>
<circle cx="1423.9" cy="124.2" r="1.24" fill="#d5d5d5" opacity="1.00"/>
<circle cx="1430.3" cy="115.3" r="1.26" fill="#cdcdcd" opacity="1.00"/>
<circle cx="1429.1" cy="126.1" r="1.46" fill="#cacaca" opacity="1.00"/>
<circle cx="1430.1" cy="111.4" r="1.52" fill="#c5c5c5" opacity="1.00"/>
<circle cx="1422.4" cy="113.7" r="1.50" fill="#d1d1d1" opacity="1.00"/>
<circle cx="1420.1" cy="117.8" r="1.58" fill="#bcbcbc" opacity="1.00"/>
<circle cx="1419.2" cy="123.9" r="1.70" fill="#c3c3c3" opacity="1.00"/>
<circle cx="1427.8" cy="108.7" r="1.53" fill="#cbcbcb" opacity="1.00"/>
<circle cx="1421.6" cy="127.2" r="1.62" fill="#c1c1c1" opacity="1.00"/>
<circle cx="1436.3" cy="117.3" r="1.46" fill="#d0d0d0" opacity="1.00"/>
<circle cx="1426.0" cy="122.1" r="1.39" fill="#d3d3d3" opacity="1.00"/>
<circle cx="1428.0" cy="113.9" r="1.54" fill="#d0d0d0" opacity="1.00"/>
<circle cx="1432.6" cy="126.3" r="1.65" fill="#c7c7c7" opacity="1.00"/>
<circle cx="1432.0" cy="117.6" r="1.51" fill="#c8c8c8" opacity="1.00"/>
<circle cx="1422.6" cy="116.4" r="1.50" fill="#c0c0c0" opacity="1.00"/>
<circle cx="1419.3" cy="115.0" r="1.62" fill="#c6c6c6" opacity="1.00"/>
<circle cx="1423.6" cy="111.2" r="1.44" fill="#bdbdbd" opacity="1.00"/>
<circle cx="1476.9" cy="109.1" r="1.47" fill="#9c9c9c" opacity="1.00"/>
<circle cx="1476.7" cy="108.9" r="1.00" fill="#d2d2d2" opacity="1.00"/>
<circle cx="1477.6" cy="122.3" r="1.67" fill="#9c9c9c" opacity="1.00"/>
<circle cx="1477.4" cy="122.1" r="1.14" fill="#d2d2d2" opacity="1.00"/>
<circle cx="1466.3" cy="107.8" r="1.77" fill="#9c9c9c" opacity="1.00"/>
<circle cx="1466.1" cy="107.6" r="1.20" fill="#d2d2d2" opacity="1.00"/>
<circle cx="1477.4" cy="125.0" r="1.61" fill="#9c9c9c" opacity="1.00"/>
<circle cx="1477.2" cy="124.8" r="1.09" fill="#d2d2d2" opacity="1.00"/>
<circle cx="1461.5" cy="114.8" r="1.76" fill="#9c9c9c" opacity="1.00"/>
<circle cx="1461.3" cy="114.6" r="1.19" fill="#d2d2d2" opacity="1.00"/>
<circle cx="1471.1" cy="115.2" r="1.87" fill="#9c9c9c" opacity="1.00"/>
<circle cx="1470.9" cy="115.0" r="1.27" fill="#d2d2d2" opacity="1.00"/>
<circle cx="1481.2" cy="120.6" r="1.42" fill="#9c9c9c" opacity="1.00"/>
<circle cx="1481.0" cy="120.4" r="0.97" fill="#d2d2d2" opacity="1.00"/>
<circle cx="1463.7" cy="123.3" r="1.84" fill="#9c9c9c" opacity="1.00"/>
<circle cx="1463.5" cy="123.1" r="1.25" fill="#d2d2d2" opacity="1.00"/>
<circle cx="1475.5" cy="112.9" r="1.76" fill="#9c9c9c" opacity="1.00"/>
<circle cx="1475.3" cy="112.7" r="1.20" fill="#d2d2d2" opacity="1.00"/>
<circle cx="1465.5" cy="111.0" r="1.41" fill="#9c9c9c" opacity="1.00"/>
<circle cx="1465.3" cy="110.8" r="0.96" fill="#d2d2d2" opacity="1.00"/>
<circle cx="1481.0" cy="115.4" r="1.71" fill="#9c9c9c" opacity="1.00"/>
<circle cx="1480.8" cy="115.2" r="1.17" fill="#d2d2d2" opacity="1.00"/>
<circle cx="1468.6" cy="109.3" r="1.75" fill="#9c9c9c" opacity="1.00"/>
<circle cx="1468.4" cy="109.1" r="1.19" fill="#d2d2d2" opacity="1.00"/>
<circle cx="1465.0" cy="117.7" r="1.93" fill="#9c9c9c" opacity="1.00"/>
<circle cx="1464.8" cy="117.5" r="1.31" fill="#d2d2d2" opacity="1.00"/>
<circle cx="1470.6" cy="125.2" r="1.83" fill="#9c9c9c" opacity="1.00"/>
<circle cx="1470.4" cy="125.0" r="1.24" fill="#d2d2d2" opacity="1.00"/>
<circle cx="1479.2" cy="112.1" r="1.90" fill="#9c9c9c" opacity="1.00"/>
<circle cx="1479.0" cy="111.9" r="1.29" fill="#d2d2d2" opacity="1.00"/>
<circle cx="1459.3" cy="118.9" r="1.55" fill="#9c9c9c" opacity="1.00"/>
<circle cx="1459.1" cy="118.7" r="1.05" fill="#d2d2d2" opacity="1.00"/>
<circle cx="1470.6" cy="130.7" r="1.47" fill="#9c9c9c" opacity="1.00"/>
<circle cx="1470.4" cy="130.5" r="1.00" fill="#d2d2d2" opacity="1.00"/>
<circle cx="1473.0" cy="122.5" r="1.94" fill="#9c9c9c" opacity="1.00"/>
<circle cx="1472.8" cy="122.3" r="1.32" fill="#d2d2d2" opacity="1.00"/>
<circle cx="1468.3" cy="118.5" r="1.53" fill="#9c9c9c" opacity="1.00"/>
<circle cx="1468.1" cy="118.3" r="1.04" fill="#d2d2d2" opacity="1.00"/>
<circle cx="1459.9" cy="123.3" r="1.56" fill="#9c9c9c" opacity="1.00"/>
<circle cx="1459.7" cy="123.1" r="1.06" fill="#d2d2d2" opacity="1.00"/>
<circle cx="1476.4" cy="118.5" r="1.40" fill="#9c9c9c" opacity="1.00"/>
<circle cx="1476.2" cy="118.3" r="0.95" fill="#d2d2d2" opacity="1.00"/>
<circle cx="1466.2" cy="125.5" r="1.90" fill="#9c9c9c" opacity="1.00"/>
<circle cx="1466.0" cy="125.3" r="1.29" fill="#d2d2d2" opacity="1.00"/>
<circle cx="1468.3" cy="114.5" r="1.76" fill="#9c9c9c" opacity="1.00"/>
<circle cx="1468.1" cy="114.3" r="1.19" fill="#d2d2d2" opacity="1.00"/>
<circle cx="1468.4" cy="123.4" r="1.89" fill="#9c9c9c" opacity="1.00"/>
<circle cx="1468.2" cy="123.2" r="1.28" fill="#d2d2d2" opacity="1.00"/>
<circle cx="1470.6" cy="106.9" r="1.72" fill="#9c9c9c" opacity="1.00"/>
<circle cx="1470.4" cy="106.7" r="1.17" fill="#d2d2d2" opacity="1.00"/>
<circle cx="1461.5" cy="127.1" r="1.73" fill="#9c9c9c" opacity="1.00"/>
<circle cx="1461.3" cy="126.9" r="1.18" fill="#d2d2d2" opacity="1.00"/>
<circle cx="1461.7" cy="110.0" r="1.95" fill="#9c9c9c" opacity="1.00"/>
<circle cx="1461.5" cy="109.8" r="1.32" fill="#d2d2d2" opacity="1.00"/>
<circle cx="1461.3" cy="120.9" r="1.61" fill="#9c9c9c" opacity="1.00"/>
<circle cx="1461.1" cy="120.7" r="1.10" fill="#d2d2d2" opacity="1.00"/>
<circle cx="1471.9" cy="128.0" r="1.40" fill="#9c9c9c" opacity="1.00"/>
<circle cx="1471.7" cy="127.8" r="0.95" fill="#d2d2d2" opacity="1.00"/>
<circle cx="1473.8" cy="116.8" r="1.42" fill="#9c9c9c" opacity="1.00"/>
<circle cx="1473.6" cy="116.6" r="0.96" fill="#d2d2d2" opacity="1.00"/>
<circle cx="1465.0" cy="114.7" r="1.46" fill="#9c9c9c" opacity="1.00"/>
<circle cx="1464.8" cy="114.5" r="0.99" fill="#d2d2d2" opacity="1.00"/>
<circle cx="1465.7" cy="120.4" r="1.56" fill="#9c9c9c" opacity="1.00"/>
<circle cx="1465.5" cy="120.2" r="1.06" fill="#d2d2d2" opacity="1.00"/>
<circle cx="1474.8" cy="126.3" r="1.76" fill="#9c9c9c" opacity="1.00"/>
<circle cx="1474.6" cy="126.1" r="1.19" fill="#d2d2d2" opacity="1.00"/>
<circle cx="1472.9" cy="108.6" r="1.45" fill="#9c9c9c" opacity="1.00"/>
<circle cx="1472.7" cy="108.4" r="0.98" fill="#d2d2d2" opacity="1.00"/>
<circle cx="1289.0" cy="169.2" r="15.7" fill="url(#sg)" opacity="0.96"/>
<path d="M1278.0 171.1 A11.2 11.2 0 0 0 1296.2 177.7" fill="none" stroke="#fff" stroke-opacity="0.48" stroke-width="2.4" stroke-linecap="round"/>
<circle cx="1338.6" cy="169.2" r="15.0" fill="url(#sg)" opacity="0.78"/>
<path d="M1328.2 171.0 A10.6 10.6 0 0 0 1345.4 177.3" fill="none" stroke="#fff" stroke-opacity="0.39" stroke-width="2.3" stroke-linecap="round"/>
<circle cx="1381.7" cy="167.5" r="12.6" fill="#525252" opacity="1.00"/>
<circle cx="1394.0" cy="167.0" r="1.12" fill="#8e8e8e" opacity="1.00"/>
<circle cx="1393.9" cy="169.0" r="1.13" fill="#8e8e8e" opacity="1.00"/>
<circle cx="1393.5" cy="170.8" r="1.15" fill="#8e8e8e" opacity="1.00"/>
<circle cx="1392.6" cy="173.2" r="1.31" fill="#8e8e8e" opacity="1.00"/>
<circle cx="1391.5" cy="174.9" r="1.04" fill="#8e8e8e" opacity="1.00"/>
<circle cx="1390.7" cy="175.8" r="1.28" fill="#8e8e8e" opacity="1.00"/>
<circle cx="1389.3" cy="177.1" r="1.16" fill="#8e8e8e" opacity="1.00"/>
<circle cx="1387.2" cy="178.5" r="1.11" fill="#8e8e8e" opacity="1.00"/>
<circle cx="1385.2" cy="179.3" r="1.21" fill="#8e8e8e" opacity="1.00"/>
<circle cx="1384.1" cy="179.5" r="1.12" fill="#8e8e8e" opacity="1.00"/>
<circle cx="1381.3" cy="179.8" r="1.20" fill="#8e8e8e" opacity="1.00"/>
<circle cx="1380.2" cy="179.7" r="1.30" fill="#8e8e8e" opacity="1.00"/>
<circle cx="1378.2" cy="179.3" r="1.24" fill="#8e8e8e" opacity="1.00"/>
<circle cx="1376.2" cy="178.5" r="1.07" fill="#8e8e8e" opacity="1.00"/>
<circle cx="1374.9" cy="177.7" r="1.19" fill="#8e8e8e" opacity="1.00"/>
<circle cx="1372.8" cy="176.0" r="1.25" fill="#8e8e8e" opacity="1.00"/>
<circle cx="1372.1" cy="175.1" r="1.22" fill="#8e8e8e" opacity="1.00"/>
<circle cx="1370.9" cy="173.4" r="1.17" fill="#8e8e8e" opacity="1.00"/>
<circle cx="1370.1" cy="171.7" r="1.23" fill="#8e8e8e" opacity="1.00"/>
<circle cx="1369.5" cy="169.2" r="1.04" fill="#8e8e8e" opacity="1.00"/>
<circle cx="1369.4" cy="168.0" r="1.19" fill="#8e8e8e" opacity="1.00"/>
<circle cx="1369.5" cy="166.0" r="1.19" fill="#8e8e8e" opacity="1.00"/>
<circle cx="1369.9" cy="164.0" r="1.29" fill="#8e8e8e" opacity="1.00"/>
<circle cx="1370.8" cy="161.9" r="1.29" fill="#8e8e8e" opacity="1.00"/>
<circle cx="1371.7" cy="160.3" r="1.10" fill="#8e8e8e" opacity="1.00"/>
<circle cx="1373.4" cy="158.5" r="1.13" fill="#8e8e8e" opacity="1.00"/>
<circle cx="1374.3" cy="157.7" r="1.11" fill="#8e8e8e" opacity="1.00"/>
<circle cx="1375.7" cy="156.8" r="1.15" fill="#8e8e8e" opacity="1.00"/>
<circle cx="1377.6" cy="155.9" r="1.11" fill="#8e8e8e" opacity="1.00"/>
<circle cx="1379.6" cy="155.4" r="1.27" fill="#8e8e8e" opacity="1.00"/>
<circle cx="1381.4" cy="155.2" r="1.19" fill="#8e8e8e" opacity="1.00"/>
<circle cx="1383.5" cy="155.4" r="1.10" fill="#8e8e8e" opacity="1.00"/>
<circle cx="1385.8" cy="155.9" r="1.02" fill="#8e8e8e" opacity="1.00"/>
<circle cx="1387.7" cy="156.8" r="1.27" fill="#8e8e8e" opacity="1.00"/>
<circle cx="1388.6" cy="157.3" r="1.30" fill="#8e8e8e" opacity="1.00"/>
<circle cx="1390.0" cy="158.4" r="1.26" fill="#8e8e8e" opacity="1.00"/>
<circle cx="1391.4" cy="160.0" r="1.07" fill="#8e8e8e" opacity="1.00"/>
<circle cx="1392.6" cy="161.9" r="1.27" fill="#8e8e8e" opacity="1.00"/>
<circle cx="1393.6" cy="164.3" r="1.30" fill="#8e8e8e" opacity="1.00"/>
<circle cx="1393.8" cy="165.4" r="1.19" fill="#8e8e8e" opacity="1.00"/>
<circle cx="1386.7" cy="174.1" r="1.14" fill="#838383" opacity="1.00"/>
<circle cx="1387.2" cy="169.4" r="1.28" fill="#909090" opacity="1.00"/>
<circle cx="1381.2" cy="173.9" r="1.28" fill="#848484" opacity="1.00"/>
<circle cx="1380.8" cy="162.5" r="1.25" fill="#858585" opacity="1.00"/>
<circle cx="1380.2" cy="168.2" r="0.97" fill="#7e7e7e" opacity="1.00"/>
<circle cx="1379.9" cy="159.3" r="0.99" fill="#818181" opacity="1.00"/>
<circle cx="1383.9" cy="160.2" r="1.21" fill="#7f7f7f" opacity="1.00"/>
<circle cx="1385.7" cy="163.8" r="1.17" fill="#939393" opacity="1.00"/>
<circle cx="1379.3" cy="173.0" r="1.30" fill="#7b7b7b" opacity="1.00"/>
<circle cx="1386.6" cy="167.3" r="1.22" fill="#7b7b7b" opacity="1.00"/>
<circle cx="1374.9" cy="163.3" r="1.19" fill="#878787" opacity="1.00"/>
<circle cx="1375.6" cy="168.2" r="1.19" fill="#7d7d7d" opacity="1.00"/>
<circle cx="1381.0" cy="170.7" r="1.13" fill="#8c8c8c" opacity="1.00"/>
<circle cx="1375.4" cy="170.7" r="1.27" fill="#8a8a8a" opacity="1.00"/>
<circle cx="1389.8" cy="163.7" r="1.18" fill="#868686" opacity="1.00"/>
<circle cx="1387.8" cy="159.8" r="1.11" fill="#838383" opacity="1.00"/>
<circle cx="1372.2" cy="167.8" r="1.18" fill="#848484" opacity="1.00"/>
<circle cx="1371.8" cy="164.6" r="1.03" fill="#7c7c7c" opacity="1.00"/>
<circle cx="1378.1" cy="176.9" r="1.05" fill="#7b7b7b" opacity="1.00"/>
<circle cx="1390.5" cy="169.6" r="1.13" fill="#7b7b7b" opacity="1.00"/>
<circle cx="1378.9" cy="164.8" r="1.21" fill="#838383" opacity="1.00"/>
<circle cx="1384.4" cy="171.9" r="1.18" fill="#808080" opacity="1.00"/>
<circle cx="1375.0" cy="173.0" r="1.21" fill="#7a7a7a" opacity="1.00"/>
<circle cx="1383.4" cy="168.5" r="1.21" fill="#858585" opacity="1.00"/>
<circle cx="1377.3" cy="174.7" r="1.03" fill="#808080" opacity="1.00"/>
<circle cx="1383.6" cy="162.4" r="1.02" fill="#787878" opacity="1.00"/>
<circle cx="1384.5" cy="166.5" r="1.03" fill="#7d7d7d" opacity="1.00"/>
<circle cx="1377.3" cy="166.1" r="1.04" fill="#7c7c7c" opacity="1.00"/>
<circle cx="1377.7" cy="169.5" r="1.02" fill="#8f8f8f" opacity="1.00"/>
<circle cx="1377.6" cy="159.6" r="1.17" fill="#8d8d8d" opacity="1.00"/>
<circle cx="1391.7" cy="166.0" r="1.11" fill="#939393" opacity="1.00"/>
<circle cx="1383.1" cy="176.8" r="1.01" fill="#898989" opacity="1.00"/>
<circle cx="1389.0" cy="161.6" r="1.04" fill="#898989" opacity="1.00"/>
<circle cx="1390.6" cy="171.9" r="0.98" fill="#939393" opacity="1.00"/>
<circle cx="1387.4" cy="171.8" r="1.26" fill="#818181" opacity="1.00"/>
<circle cx="1374.0" cy="161.3" r="1.23" fill="#8f8f8f" opacity="1.00"/>
<circle cx="1385.9" cy="176.4" r="1.25" fill="#8f8f8f" opacity="1.00"/>
<circle cx="1382.0" cy="157.5" r="1.32" fill="#7f7f7f" opacity="1.00"/>
<circle cx="1378.4" cy="162.2" r="1.32" fill="#818181" opacity="1.00"/>
<circle cx="1389.1" cy="174.2" r="1.00" fill="#808080" opacity="1.00"/>
<circle cx="1375.2" cy="159.5" r="0.97" fill="#8c8c8c" opacity="1.00"/>
<circle cx="1385.8" cy="161.3" r="1.30" fill="#838383" opacity="1.00"/>
<circle cx="1371.9" cy="170.4" r="1.21" fill="#939393" opacity="1.00"/>
<circle cx="1388.8" cy="165.9" r="1.22" fill="#858585" opacity="1.00"/>
<circle cx="1380.6" cy="176.6" r="0.97" fill="#929292" opacity="1.00"/>
<circle cx="1384.5" cy="174.8" r="1.28" fill="#8b8b8b" opacity="1.00"/>
<circle cx="1381.0" cy="164.8" r="0.99" fill="#848484" opacity="1.00"/>
<circle cx="1376.4" cy="161.6" r="1.08" fill="#878787" opacity="1.00"/>
<circle cx="1392.0" cy="168.1" r="1.03" fill="#787878" opacity="1.00"/>
<circle cx="1374.2" cy="165.8" r="1.27" fill="#818181" opacity="1.00"/>
<circle cx="1385.6" cy="158.7" r="1.29" fill="#858585" opacity="1.00"/>
<circle cx="1377.1" cy="172.4" r="1.00" fill="#7c7c7c" opacity="1.00"/>
<circle cx="1382.4" cy="166.4" r="1.22" fill="#7e7e7e" opacity="1.00"/>
<circle cx="1375.1" cy="175.4" r="1.32" fill="#7d7d7d" opacity="1.00"/>
<circle cx="1381.8" cy="160.5" r="1.30" fill="#7a7a7a" opacity="1.00"/>
<circle cx="1423.5" cy="169.2" r="13.6" fill="#282828" opacity="1.00"/>
<circle cx="1436.8" cy="169.7" r="1.22" fill="#989898" opacity="1.00"/>
<circle cx="1436.7" cy="170.9" r="1.23" fill="#989898" opacity="1.00"/>
<circle cx="1436.3" cy="172.8" r="1.14" fill="#989898" opacity="1.00"/>
<circle cx="1435.7" cy="174.5" r="1.04" fill="#989898" opacity="1.00"/>
<circle cx="1434.5" cy="176.7" r="1.16" fill="#989898" opacity="1.00"/>
<circle cx="1433.6" cy="177.8" r="1.05" fill="#989898" opacity="1.00"/>
<circle cx="1432.6" cy="178.9" r="1.25" fill="#989898" opacity="1.00"/>
<circle cx="1430.7" cy="180.4" r="1.00" fill="#989898" opacity="1.00"/>
<circle cx="1428.7" cy="181.5" r="1.11" fill="#989898" opacity="1.00"/>
<circle cx="1427.0" cy="182.0" r="1.25" fill="#989898" opacity="1.00"/>
<circle cx="1425.5" cy="182.4" r="1.17" fill="#989898" opacity="1.00"/>
<circle cx="1424.1" cy="182.5" r="1.14" fill="#989898" opacity="1.00"/>
<circle cx="1421.1" cy="182.3" r="1.11" fill="#989898" opacity="1.00"/>
<circle cx="1419.3" cy="181.8" r="1.02" fill="#989898" opacity="1.00"/>
<circle cx="1417.7" cy="181.2" r="1.03" fill="#989898" opacity="1.00"/>
<circle cx="1416.6" cy="180.6" r="0.99" fill="#989898" opacity="1.00"/>
<circle cx="1415.1" cy="179.5" r="1.04" fill="#989898" opacity="1.00"/>
<circle cx="1413.2" cy="177.7" r="1.22" fill="#989898" opacity="1.00"/>
<circle cx="1412.6" cy="176.9" r="1.20" fill="#989898" opacity="1.00"/>
<circle cx="1411.4" cy="174.7" r="1.20" fill="#989898" opacity="1.00"/>
<circle cx="1410.7" cy="172.9" r="1.00" fill="#989898" opacity="1.00"/>
<circle cx="1410.4" cy="171.7" r="1.17" fill="#989898" opacity="1.00"/>
<circle cx="1410.2" cy="168.6" r="1.00" fill="#989898" opacity="1.00"/>
<circle cx="1410.4" cy="166.8" r="1.18" fill="#989898" opacity="1.00"/>
<circle cx="1410.6" cy="166.1" r="1.13" fill="#989898" opacity="1.00"/>
<circle cx="1411.6" cy="163.2" r="1.09" fill="#989898" opacity="1.00"/>
<circle cx="1412.0" cy="162.4" r="1.14" fill="#989898" opacity="1.00"/>
<circle cx="1413.4" cy="160.6" r="1.23" fill="#989898" opacity="1.00"/>
<circle cx="1414.4" cy="159.5" r="1.13" fill="#989898" opacity="1.00"/>
<circle cx="1415.9" cy="158.3" r="0.99" fill="#989898" opacity="1.00"/>
<circle cx="1418.2" cy="157.0" r="0.99" fill="#989898" opacity="1.00"/>
<circle cx="1419.4" cy="156.5" r="1.21" fill="#989898" opacity="1.00"/>
<circle cx="1421.7" cy="156.0" r="1.17" fill="#989898" opacity="1.00"/>
<circle cx="1423.6" cy="155.9" r="1.04" fill="#989898" opacity="1.00"/>
<circle cx="1424.8" cy="156.0" r="1.00" fill="#989898" opacity="1.00"/>
<circle cx="1426.7" cy="156.3" r="1.13" fill="#989898" opacity="1.00"/>
<circle cx="1428.9" cy="157.0" r="1.26" fill="#989898" opacity="1.00"/>
<circle cx="1431.0" cy="158.2" r="1.24" fill="#989898" opacity="1.00"/>
<circle cx="1431.9" cy="158.8" r="1.17" fill="#989898" opacity="1.00"/>
<circle cx="1433.6" cy="160.5" r="1.20" fill="#989898" opacity="1.00"/>
<circle cx="1434.4" cy="161.6" r="1.18" fill="#989898" opacity="1.00"/>
<circle cx="1435.3" cy="163.1" r="1.21" fill="#989898" opacity="1.00"/>
<circle cx="1436.2" cy="165.3" r="1.13" fill="#989898" opacity="1.00"/>
<circle cx="1436.7" cy="167.7" r="1.15" fill="#989898" opacity="1.00"/>
<circle cx="1414.0" cy="173.5" r="1.06" fill="#909090" opacity="1.00"/>
<circle cx="1423.5" cy="167.7" r="1.23" fill="#929292" opacity="1.00"/>
<circle cx="1426.6" cy="162.6" r="1.12" fill="#858585" opacity="1.00"/>
<circle cx="1430.8" cy="170.5" r="1.14" fill="#949494" opacity="1.00"/>
<circle cx="1415.0" cy="166.0" r="1.23" fill="#8c8c8c" opacity="1.00"/>
<circle cx="1429.0" cy="163.6" r="1.04" fill="#858585" opacity="1.00"/>
<circle cx="1416.7" cy="169.6" r="1.02" fill="#989898" opacity="1.00"/>
<circle cx="1416.6" cy="161.7" r="0.94" fill="#949494" opacity="1.00"/>
<circle cx="1419.6" cy="177.9" r="0.99" fill="#9b9b9b" opacity="1.00"/>
<circle cx="1426.8" cy="159.8" r="1.23" fill="#929292" opacity="1.00"/>
<circle cx="1423.9" cy="164.1" r="0.96" fill="#999999" opacity="1.00"/>
<circle cx="1426.4" cy="169.2" r="1.15" fill="#8e8e8e" opacity="1.00"/>
<circle cx="1429.4" cy="176.5" r="0.99" fill="#9b9b9b" opacity="1.00"/>
<circle cx="1418.7" cy="163.6" r="0.96" fill="#9c9c9c" opacity="1.00"/>
<circle cx="1413.6" cy="169.9" r="1.00" fill="#8b8b8b" opacity="1.00"/>
<circle cx="1431.3" cy="162.8" r="0.94" fill="#9b9b9b" opacity="1.00"/>
<circle cx="1419.0" cy="165.7" r="1.11" fill="#959595" opacity="1.00"/>
<circle cx="1417.0" cy="174.0" r="1.26" fill="#8f8f8f" opacity="1.00"/>
<circle cx="1422.3" cy="159.5" r="1.15" fill="#9d9d9d" opacity="1.00"/>
<circle cx="1415.8" cy="163.8" r="1.26" fill="#979797" opacity="1.00"/>
<circle cx="1430.3" cy="166.9" r="1.15" fill="#909090" opacity="1.00"/>
<circle cx="1423.5" cy="175.4" r="1.06" fill="#989898" opacity="1.00"/>
<circle cx="1420.8" cy="171.4" r="1.11" fill="#848484" opacity="1.00"/>
<circle cx="1419.4" cy="173.4" r="1.21" fill="#9a9a9a" opacity="1.00"/>
<circle cx="1424.8" cy="172.4" r="1.05" fill="#979797" opacity="1.00"/>
<circle cx="1425.1" cy="179.2" r="1.18" fill="#8b8b8b" opacity="1.00"/>
<circle cx="1427.7" cy="166.5" r="1.03" fill="#828282" opacity="1.00"/>
<circle cx="1419.4" cy="161.1" r="1.07" fill="#8c8c8c" opacity="1.00"/>
<circle cx="1425.9" cy="175.9" r="1.14" fill="#8d8d8d" opacity="1.00"/>
<circle cx="1427.6" cy="173.3" r="1.01" fill="#949494" opacity="1.00"/>
<circle cx="1422.2" cy="177.1" r="1.20" fill="#979797" opacity="1.00"/>
<circle cx="1421.5" cy="165.3" r="0.93" fill="#909090" opacity="1.00"/>
<circle cx="1413.0" cy="166.7" r="0.95" fill="#8a8a8a" opacity="1.00"/>
<circle cx="1423.1" cy="171.1" r="0.93" fill="#858585" opacity="1.00"/>
<circle cx="1418.4" cy="171.4" r="1.15" fill="#878787" opacity="1.00"/>
<circle cx="1430.5" cy="174.4" r="1.10" fill="#999999" opacity="1.00"/>
<circle cx="1415.6" cy="172.0" r="0.98" fill="#858585" opacity="1.00"/>
<circle cx="1433.2" cy="172.0" r="0.92" fill="#8d8d8d" opacity="1.00"/>
<circle cx="1418.1" cy="176.3" r="1.08" fill="#8e8e8e" opacity="1.00"/>
<circle cx="1430.1" cy="172.4" r="1.01" fill="#8b8b8b" opacity="1.00"/>
<circle cx="1423.7" cy="162.0" r="1.13" fill="#929292" opacity="1.00"/>
<circle cx="1434.0" cy="169.8" r="1.18" fill="#888888" opacity="1.00"/>
<circle cx="1417.2" cy="166.6" r="1.00" fill="#9d9d9d" opacity="1.00"/>
<circle cx="1414.7" cy="175.6" r="1.12" fill="#878787" opacity="1.00"/>
<circle cx="1431.8" cy="176.4" r="1.15" fill="#878787" opacity="1.00"/>
<circle cx="1428.6" cy="171.0" r="0.96" fill="#959595" opacity="1.00"/>
<circle cx="1432.7" cy="167.4" r="0.99" fill="#9d9d9d" opacity="1.00"/>
<circle cx="1420.5" cy="167.4" r="1.19" fill="#959595" opacity="1.00"/>
<circle cx="1476.8" cy="167.4" r="1.08" fill="#777777" opacity="1.00"/>
<circle cx="1476.6" cy="167.2" r="0.73" fill="#a2a2a2" opacity="1.00"/>
<circle cx="1479.7" cy="168.1" r="0.98" fill="#777777" opacity="1.00"/>
<circle cx="1479.5" cy="167.9" r="0.66" fill="#a2a2a2" opacity="1.00"/>
<circle cx="1472.6" cy="159.0" r="1.14" fill="#777777" opacity="1.00"/>
<circle cx="1472.4" cy="158.8" r="0.77" fill="#a2a2a2" opacity="1.00"/>
<circle cx="1471.4" cy="164.0" r="1.21" fill="#777777" opacity="1.00"/>
<circle cx="1471.2" cy="163.8" r="0.82" fill="#a2a2a2" opacity="1.00"/>
<circle cx="1470.7" cy="160.1" r="0.94" fill="#777777" opacity="1.00"/>
<circle cx="1470.5" cy="159.9" r="0.64" fill="#a2a2a2" opacity="1.00"/>
<circle cx="1469.2" cy="175.8" r="1.00" fill="#777777" opacity="1.00"/>
<circle cx="1469.0" cy="175.6" r="0.68" fill="#a2a2a2" opacity="1.00"/>
<circle cx="1475.0" cy="160.6" r="0.95" fill="#777777" opacity="1.00"/>
<circle cx="1474.8" cy="160.4" r="0.65" fill="#a2a2a2" opacity="1.00"/>
<circle cx="1466.9" cy="174.9" r="0.88" fill="#777777" opacity="1.00"/>
<circle cx="1466.7" cy="174.7" r="0.60" fill="#a2a2a2" opacity="1.00"/>
<circle cx="1467.7" cy="157.9" r="1.11" fill="#777777" opacity="1.00"/>
<circle cx="1467.5" cy="157.7" r="0.75" fill="#a2a2a2" opacity="1.00"/>
<circle cx="1475.4" cy="175.3" r="1.22" fill="#777777" opacity="1.00"/>
<circle cx="1475.2" cy="175.1" r="0.83" fill="#a2a2a2" opacity="1.00"/>
<circle cx="1474.0" cy="166.6" r="0.95" fill="#777777" opacity="1.00"/>
<circle cx="1473.8" cy="166.4" r="0.65" fill="#a2a2a2" opacity="1.00"/>
<circle cx="1459.5" cy="164.2" r="1.04" fill="#777777" opacity="1.00"/>
<circle cx="1459.3" cy="164.0" r="0.70" fill="#a2a2a2" opacity="1.00"/>
<circle cx="1468.3" cy="155.3" r="0.99" fill="#777777" opacity="1.00"/>
<circle cx="1468.1" cy="155.1" r="0.67" fill="#a2a2a2" opacity="1.00"/>
<circle cx="1464.9" cy="158.2" r="1.16" fill="#777777" opacity="1.00"/>
<circle cx="1464.7" cy="158.0" r="0.79" fill="#a2a2a2" opacity="1.00"/>
<circle cx="1466.9" cy="177.8" r="0.91" fill="#777777" opacity="1.00"/>
<circle cx="1466.7" cy="177.6" r="0.62" fill="#a2a2a2" opacity="1.00"/>
<circle cx="1468.6" cy="159.6" r="0.92" fill="#777777" opacity="1.00"/>
<circle cx="1468.4" cy="159.4" r="0.62" fill="#a2a2a2" opacity="1.00"/>
<circle cx="1476.3" cy="176.8" r="0.91" fill="#777777" opacity="1.00"/>
<circle cx="1476.1" cy="176.6" r="0.62" fill="#a2a2a2" opacity="1.00"/>
<circle cx="1462.4" cy="172.7" r="1.12" fill="#777777" opacity="1.00"/>
<circle cx="1462.2" cy="172.5" r="0.76" fill="#a2a2a2" opacity="1.00"/>
<circle cx="1482.5" cy="168.5" r="0.89" fill="#777777" opacity="1.00"/>
<circle cx="1482.3" cy="168.3" r="0.60" fill="#a2a2a2" opacity="1.00"/>
<circle cx="1480.9" cy="164.1" r="0.93" fill="#777777" opacity="1.00"/>
<circle cx="1480.7" cy="163.9" r="0.64" fill="#a2a2a2" opacity="1.00"/>
<circle cx="1473.5" cy="163.7" r="0.97" fill="#777777" opacity="1.00"/>
<circle cx="1473.3" cy="163.5" r="0.66" fill="#a2a2a2" opacity="1.00"/>
<circle cx="1474.2" cy="157.5" r="1.02" fill="#777777" opacity="1.00"/>
<circle cx="1474.0" cy="157.3" r="0.69" fill="#a2a2a2" opacity="1.00"/>
<circle cx="1471.3" cy="176.1" r="1.15" fill="#777777" opacity="1.00"/>
<circle cx="1471.1" cy="175.9" r="0.78" fill="#a2a2a2" opacity="1.00"/>
<circle cx="1472.8" cy="169.7" r="0.93" fill="#777777" opacity="1.00"/>
<circle cx="1472.6" cy="169.5" r="0.63" fill="#a2a2a2" opacity="1.00"/>
<circle cx="1466.5" cy="165.5" r="0.90" fill="#777777" opacity="1.00"/>
<circle cx="1466.3" cy="165.3" r="0.61" fill="#a2a2a2" opacity="1.00"/>
<circle cx="1469.4" cy="169.4" r="1.17" fill="#777777" opacity="1.00"/>
<circle cx="1469.2" cy="169.2" r="0.79" fill="#a2a2a2" opacity="1.00"/>
<circle cx="1477.3" cy="173.6" r="1.11" fill="#777777" opacity="1.00"/>
<circle cx="1477.1" cy="173.4" r="0.75" fill="#a2a2a2" opacity="1.00"/>
<circle cx="1475.4" cy="164.4" r="1.15" fill="#777777" opacity="1.00"/>
<circle cx="1475.2" cy="164.2" r="0.78" fill="#a2a2a2" opacity="1.00"/>
<circle cx="1286.5" cy="216.9" r="14.7" fill="url(#sg)" opacity="0.80"/>
<path d="M1276.2 218.7 A10.5 10.5 0 0 0 1293.2 224.9" fill="none" stroke="#fff" stroke-opacity="0.40" stroke-width="2.3" stroke-linecap="round"/>
<circle cx="1331" cy="220.3" r="12.6" fill="#333333" stroke="#5e5e5e" stroke-width="0.9"/>
<circle cx="1333.6" cy="219.5" r="1.9" fill="#e0e0e0"/><circle cx="1332.4" cy="224.7" r="1.9" fill="#e0e0e0"/>
<ellipse cx="1379" cy="214.5" rx="14.5" ry="13" transform="rotate(35 1379 214.5)" fill="#2a2a2a" stroke="#3c3c3c" stroke-width="0.8"/>
<circle cx="1385.8" cy="213.4" r="1.4" fill="#b0b0b0"/>
<circle cx="1418.5" cy="205.0" r="0.7" fill="#484848"/>
<circle cx="1426.6" cy="230.5" r="0.7" fill="#484848"/>
<circle cx="1428.0" cy="212.6" r="0.7" fill="#484848"/>
<circle cx="1421.1" cy="218.6" r="0.7" fill="#484848"/>
<circle cx="1426.8" cy="226.3" r="0.7" fill="#484848"/>
<circle cx="1416.5" cy="210.1" r="0.7" fill="#484848"/>
<circle cx="1428.0" cy="214.7" r="0.7" fill="#484848"/>
<circle cx="1420.3" cy="211.2" r="0.7" fill="#484848"/>
<circle cx="1423.3" cy="228.3" r="0.7" fill="#484848"/>
<circle cx="1415.9" cy="208.1" r="0.7" fill="#484848"/>
<circle cx="1413.6" cy="224.3" r="0.7" fill="#484848"/>
<circle cx="1416.9" cy="229.6" r="0.7" fill="#484848"/>
<circle cx="1409.1" cy="214.6" r="0.7" fill="#484848"/>
<circle cx="1420.7" cy="227.7" r="0.7" fill="#484848"/>
<circle cx="1425.5" cy="209.6" r="0.7" fill="#484848"/>
<circle cx="1413.1" cy="227.0" r="0.7" fill="#484848"/>
<circle cx="1410.1" cy="227.7" r="0.7" fill="#484848"/>
<circle cx="1421.2" cy="231.5" r="0.7" fill="#484848"/>
<circle cx="1409.2" cy="214.9" r="0.7" fill="#484848"/>
<circle cx="1412.3" cy="225.8" r="0.7" fill="#484848"/>
<circle cx="1427.5" cy="224.2" r="0.7" fill="#484848"/>
<circle cx="1406.9" cy="213.2" r="0.7" fill="#484848"/>
<circle cx="1419.8" cy="209.8" r="0.7" fill="#484848"/>
<circle cx="1407.9" cy="218.9" r="0.7" fill="#484848"/>
<circle cx="1406.9" cy="213.9" r="0.7" fill="#484848"/>
<circle cx="1417.0" cy="209.2" r="0.7" fill="#484848"/>
<circle cx="1414.2" cy="230.9" r="0.7" fill="#484848"/>
<circle cx="1418.4" cy="212.0" r="0.7" fill="#484848"/>
<circle cx="1423.5" cy="207.8" r="0.7" fill="#484848"/>
<circle cx="1418.4" cy="214.1" r="0.7" fill="#484848"/>
<circle cx="1428.3" cy="225.7" r="0.7" fill="#484848"/>
<circle cx="1419.2" cy="231.8" r="0.7" fill="#484848"/>
<circle cx="1412.4" cy="212.5" r="0.7" fill="#484848"/>
<circle cx="1411.5" cy="211.9" r="0.7" fill="#484848"/>
<circle cx="1415.5" cy="219.1" r="0.7" fill="#484848"/>
<circle cx="1420.2" cy="221.9" r="0.7" fill="#484848"/>
<circle cx="1418.6" cy="227.3" r="0.7" fill="#484848"/>
<circle cx="1409.2" cy="217.3" r="0.7" fill="#484848"/>
<circle cx="1424.6" cy="229.5" r="0.7" fill="#484848"/>
<circle cx="1421.9" cy="207.8" r="0.7" fill="#484848"/>
<circle cx="1459.3" cy="231.4" r="0.8" fill="#3e3e3e"/>
<circle cx="1472.4" cy="219.0" r="0.8" fill="#3e3e3e"/>
<circle cx="1477.9" cy="225.9" r="0.8" fill="#3e3e3e"/>
<circle cx="1455.7" cy="227.8" r="0.8" fill="#3e3e3e"/>
<circle cx="1460.9" cy="227.0" r="0.8" fill="#3e3e3e"/>
<circle cx="1460.4" cy="216.8" r="0.8" fill="#3e3e3e"/>
<circle cx="1456.2" cy="231.9" r="0.8" fill="#3e3e3e"/>
<circle cx="1460.6" cy="225.4" r="0.8" fill="#3e3e3e"/>
<circle cx="1455.3" cy="217.8" r="0.8" fill="#3e3e3e"/>
<circle cx="1456.8" cy="230.8" r="0.8" fill="#3e3e3e"/>
<circle cx="1471.6" cy="218.9" r="0.8" fill="#3e3e3e"/>
<circle cx="1461.8" cy="224.9" r="0.8" fill="#3e3e3e"/>
<circle cx="1475.6" cy="224.0" r="0.8" fill="#3e3e3e"/>
<circle cx="1461.7" cy="222.7" r="0.8" fill="#3e3e3e"/>
<circle cx="1466.2" cy="225.1" r="0.8" fill="#3e3e3e"/>
<circle cx="1456.1" cy="218.0" r="0.8" fill="#3e3e3e"/>
<circle cx="1289.0" cy="266.0" r="14.5" fill="url(#sg)" opacity="0.74"/>
<path d="M1278.9 267.8 A10.3 10.3 0 0 0 1295.6 273.9" fill="none" stroke="#fff" stroke-opacity="0.37" stroke-width="2.2" stroke-linecap="round"/>
<circle cx="1331.6" cy="269.7" r="12.6" fill="#343434" stroke="#525252" stroke-width="0.9"/>
<circle cx="1376.4" cy="264.5" r="12.3" fill="#292929" stroke="#343434" stroke-width="0.8"/>
<circle cx="1421.5" cy="269.3" r="11.4" fill="#1f1f1f" stroke="#262626" stroke-width="0.8"/>
</g>
</g>
<g id="panel-c">
<defs><filter id="bb" x="-10%" y="-60%" width="120%" height="220%"><feGaussianBlur stdDeviation="1.7 1.15"/></filter><filter id="bb2" x="-10%" y="-60%" width="120%" height="220%"><feGaussianBlur stdDeviation="2.1 1.5"/></filter></defs>
<text class="b" x="17.6" y="412" style="font-size:48px">c</text>
<text x="180.7" y="432.7" text-anchor="middle">wt</text>
<text class="i" x="288" y="432.7">P<tspan dy="8.4" dx="0.3" style="font-size:15.3px">MET25</tspan><tspan dy="-8.4" dx="1" style="font-size:26.3px">-YEF3</tspan></text>
<path d="M155.7 447.4H206.7M218 447.4H499.5" stroke="#111" stroke-width="2.6"/>
<text x="180.2" y="476.8" text-anchor="middle">0</text>
<text x="239.0" y="476.8" text-anchor="middle">0</text>
<text x="296.3" y="476.8" text-anchor="middle">0.1</text>
<text x="356.0" y="476.8" text-anchor="middle">0.5</text>
<text x="413.8" y="476.8" text-anchor="middle">1</text>
<text x="473.0" y="476.8" text-anchor="middle">2</text>
<text x="506.5" y="476.8">Met, mM</text>
<rect x="130.8" y="488.7" width="393.6" height="38.3" fill="#f7f7f7" stroke="#111" stroke-width="2.7"/>
<text x="113" y="520.8" text-anchor="end">eEF3</text>
<rect x="130.8" y="537.7" width="393.6" height="38.0" fill="#f7f7f7" stroke="#111" stroke-width="2.7"/>
<text x="113" y="568.3" text-anchor="end">eEF2</text>
<rect x="130.8" y="586.0" width="393.6" height="38.0" fill="#f7f7f7" stroke="#111" stroke-width="2.7"/>
<text x="113" y="614.9" text-anchor="end">Rps8</text>
<rect x="130.8" y="634.3" width="393.6" height="38.0" fill="#f7f7f7" stroke="#111" stroke-width="2.7"/>
<text x="113" y="662.4" text-anchor="end">Rpl10</text>
<rect x="130.8" y="682.7" width="393.6" height="38.6" fill="#f7f7f7" stroke="#111" stroke-width="2.7"/>
<text x="113" y="709.4" text-anchor="end">Pgk1</text>
<g filter="url(#bb)">
<path d="M159.3 508.2 Q180.1 510.4 201.0 508.2" fill="none" stroke="#0a0a0a" stroke-width="5.6" stroke-linecap="round" opacity="0.80"/>
<path d="M220.8 508.5 Q239.6 509.4 258.4 508.5" fill="none" stroke="#0a0a0a" stroke-width="7.0" stroke-linecap="round" opacity="0.97"/>
<path d="M277.8 508.3 Q296.6 510.2 315.3 508.3" fill="none" stroke="#0a0a0a" stroke-width="4.8" stroke-linecap="round" opacity="0.70"/>
<path d="M334.2 508.4 Q353.7 509.9 373.1 508.4" fill="none" stroke="#0a0a0a" stroke-width="4.0" stroke-linecap="round" opacity="0.30"/>
<path d="M393.7 508.5 Q413.1 509.4 432.5 508.5" fill="none" stroke="#0a0a0a" stroke-width="3.4" stroke-linecap="round" opacity="0.10"/>
<path d="M452.8 508.6 Q473.1 509.1 493.4 508.6" fill="none" stroke="#0a0a0a" stroke-width="3.4" stroke-linecap="round" opacity="0.07"/>
<path d="M160.1 557.7 Q181.3 559.4 202.6 557.7" fill="none" stroke="#0a0a0a" stroke-width="7.2" stroke-linecap="round" opacity="0.93"/>
<path d="M221.6 558.9 Q241.6 561.0 261.7 558.9" fill="none" stroke="#0a0a0a" stroke-width="7.2" stroke-linecap="round" opacity="0.93"/>
<path d="M279.7 558.9 Q299.4 561.1 319.1 558.9" fill="none" stroke="#0a0a0a" stroke-width="7.2" stroke-linecap="round" opacity="0.93"/>
<path d="M338.2 558.6 Q357.7 560.6 377.3 558.6" fill="none" stroke="#0a0a0a" stroke-width="7.2" stroke-linecap="round" opacity="0.93"/>
<path d="M396.6 558.0 Q415.7 559.8 434.7 558.0" fill="none" stroke="#0a0a0a" stroke-width="7.2" stroke-linecap="round" opacity="0.93"/>
<path d="M453.0 556.7 Q473.6 558.1 494.2 556.7" fill="none" stroke="#0a0a0a" stroke-width="7.2" stroke-linecap="round" opacity="0.93"/>
<rect x="218.0" y="561.1" width="47.3" height="10" fill="#000" opacity="0.035"/>
<rect x="334.6" y="561.1" width="46.3" height="10" fill="#000" opacity="0.035"/>
<rect x="393.0" y="561.1" width="45.3" height="10" fill="#000" opacity="0.035"/>
<rect x="449.4" y="561.1" width="48.3" height="10" fill="#000" opacity="0.035"/>
</g><g filter="url(#bb2)">
<ellipse cx="177.1" cy="607.0" rx="25.1" ry="5.3" fill="#0a0a0a" opacity="1.00"/>
<rect x="150.9" y="602.8" width="52.3" height="8.5" rx="4.2" fill="#0a0a0a" opacity="1.00"/>
<ellipse cx="241.8" cy="605.4" rx="21.4" ry="5.3" fill="#0a0a0a" opacity="1.00"/>
<rect x="219.5" y="601.1" width="44.7" height="8.5" rx="4.2" fill="#0a0a0a" opacity="1.00"/>
<ellipse cx="302.5" cy="604.3" rx="20.6" ry="5.6" fill="#0a0a0a" opacity="1.00"/>
<rect x="280.9" y="599.9" width="43.0" height="9.0" rx="4.5" fill="#0a0a0a" opacity="1.00"/>
<ellipse cx="361.3" cy="604.7" rx="20.3" ry="5.1" fill="#0a0a0a" opacity="1.00"/>
<rect x="340.1" y="600.6" width="42.4" height="8.2" rx="4.1" fill="#0a0a0a" opacity="1.00"/>
<ellipse cx="419.7" cy="604.7" rx="20.6" ry="5.1" fill="#0a0a0a" opacity="1.00"/>
<rect x="398.2" y="600.6" width="43.0" height="8.2" rx="4.1" fill="#0a0a0a" opacity="1.00"/>
<ellipse cx="480.2" cy="605.7" rx="21.0" ry="4.3" fill="#0a0a0a" opacity="1.00"/>
<rect x="458.3" y="602.3" width="43.7" height="6.9" rx="3.4" fill="#0a0a0a" opacity="1.00"/>
<ellipse cx="165.3" cy="656.4" rx="14.0" ry="4.6" fill="#0a0a0a" opacity="1.00"/>
<rect x="150.7" y="652.7" width="29.1" height="7.4" rx="3.7" fill="#0a0a0a" opacity="1.00"/>
<ellipse cx="192.0" cy="656.0" rx="8.6" ry="2.8" fill="#0a0a0a" opacity="0.75"/>
<rect x="183.0" y="653.8" width="17.9" height="4.5" rx="2.2" fill="#0a0a0a" opacity="0.75"/>
<ellipse cx="180.8" cy="656.4" rx="6.4" ry="1.5" fill="#0a0a0a" opacity="0.55"/>
<rect x="174.2" y="655.2" width="13.2" height="2.4" rx="1.2" fill="#0a0a0a" opacity="0.55"/>
<ellipse cx="239.3" cy="655.0" rx="20.6" ry="5.3" fill="#0a0a0a" opacity="1.00"/>
<rect x="217.8" y="650.8" width="43.0" height="8.5" rx="4.2" fill="#0a0a0a" opacity="1.00"/>
<ellipse cx="297.7" cy="654.7" rx="21.0" ry="5.6" fill="#0a0a0a" opacity="1.00"/>
<rect x="275.9" y="650.2" width="43.7" height="9.0" rx="4.5" fill="#0a0a0a" opacity="1.00"/>
<ellipse cx="355.7" cy="654.4" rx="21.4" ry="5.3" fill="#0a0a0a" opacity="1.00"/>
<rect x="333.3" y="650.1" width="44.7" height="8.5" rx="4.2" fill="#0a0a0a" opacity="1.00"/>
<ellipse cx="415.3" cy="652.7" rx="21.0" ry="5.6" fill="#0a0a0a" opacity="1.00"/>
<rect x="393.5" y="648.2" width="43.7" height="9.0" rx="4.5" fill="#0a0a0a" opacity="1.00"/>
<ellipse cx="477.3" cy="653.7" rx="23.0" ry="5.1" fill="#0a0a0a" opacity="1.00"/>
<rect x="453.3" y="649.6" width="48.0" height="8.2" rx="4.1" fill="#0a0a0a" opacity="1.00"/>
<ellipse cx="177.1" cy="704.0" rx="25.7" ry="5.9" fill="#0a0a0a" opacity="1.00"/>
<rect x="150.3" y="699.3" width="53.6" height="9.4" rx="4.7" fill="#0a0a0a" opacity="1.00"/>
<ellipse cx="240.5" cy="703.0" rx="22.7" ry="6.6" fill="#0a0a0a" opacity="1.00"/>
<rect x="216.8" y="697.7" width="47.4" height="10.6" rx="5.3" fill="#0a0a0a" opacity="1.00"/>
<ellipse cx="299.1" cy="702.0" rx="22.2" ry="5.6" fill="#0a0a0a" opacity="1.00"/>
<rect x="275.9" y="697.5" width="46.4" height="9.0" rx="4.5" fill="#0a0a0a" opacity="1.00"/>
<ellipse cx="357.0" cy="701.7" rx="23.3" ry="6.4" fill="#0a0a0a" opacity="1.00"/>
<rect x="332.7" y="696.5" width="48.7" height="10.2" rx="5.1" fill="#0a0a0a" opacity="1.00"/>
<ellipse cx="417.3" cy="700.6" rx="21.6" ry="5.3" fill="#0a0a0a" opacity="1.00"/>
<rect x="394.8" y="696.4" width="45.0" height="8.5" rx="4.2" fill="#0a0a0a" opacity="1.00"/>
<ellipse cx="479.0" cy="700.0" rx="24.6" ry="6.6" fill="#0a0a0a" opacity="1.00"/>
<rect x="453.4" y="694.7" width="51.3" height="10.6" rx="5.3" fill="#0a0a0a" opacity="1.00"/>
</g>
</g>
<g id="panel-d">
<text class="b" x="620.6" y="415.2" style="font-size:49px">d</text>
<path d="M719.1 425.8 C719.8 435.3 721.8 465.2 723.1 482.8 C724.4 500.4 725.7 518.6 727.1 531.5 C728.5 544.4 729.3 552.1 731.4 560.3 C733.5 568.5 736.7 575.5 739.7 580.5 C742.7 585.5 745.8 587.1 749.6 590.4 C753.5 593.7 758.4 597.3 762.8 600.3 C767.2 603.3 771.7 606.2 776.1 608.6 C780.5 611.0 786.1 613.7 789.4 614.6 C792.7 615.5 794.1 616.3 796.0 614.2 C797.9 612.1 799.5 606.8 801.0 602.0 C802.5 597.2 804.0 588.8 805.2 585.4 C806.4 582.0 807.1 581.0 808.2 581.5 C809.3 582.0 810.4 584.7 811.9 588.7 C813.4 592.7 815.5 600.9 817.5 605.3 C819.5 609.7 821.1 612.9 824.1 615.2 C827.1 617.5 832.1 618.4 835.7 619.2 C839.3 620.0 842.3 619.8 845.6 619.8 C848.9 619.8 852.6 620.0 855.6 619.2 C858.6 618.4 861.3 617.6 863.8 615.2 C866.3 612.8 868.7 607.2 870.5 604.6 C872.3 602.0 873.4 599.9 874.8 599.7 C876.2 599.5 876.9 601.3 878.7 603.6 C880.5 605.9 883.2 611.4 885.4 613.6 C887.6 615.8 889.5 616.6 892.0 616.9 C894.5 617.2 898.1 617.7 900.3 615.2 C902.5 612.7 903.7 611.4 905.2 602.0 C906.7 592.6 908.0 576.0 909.2 558.9 C910.4 541.8 911.5 518.6 912.5 499.3 C913.5 480.0 914.4 456.4 915.2 443.0 C916.0 429.6 916.9 423.5 917.5 418.6 C918.1 413.8 918.5 413.3 919.1 413.9 C919.7 414.4 920.2 412.1 921.1 421.9 C922.0 431.7 923.3 455.5 924.8 472.8 C926.2 490.1 928.1 511.4 929.8 525.8 C931.5 540.1 933.1 550.1 934.8 558.9 C936.4 567.7 937.8 573.3 939.7 578.8 C941.6 584.3 943.9 588.0 946.4 592.0 C948.9 596.0 951.6 600.0 954.6 602.6 C957.6 605.2 961.3 606.6 964.6 607.9 C967.9 609.2 971.8 610.3 974.5 610.3 C977.2 610.3 979.3 610.7 981.1 607.9 C982.9 605.1 984.1 600.2 985.4 593.7 C986.7 587.2 987.6 576.7 988.7 569.0 C989.8 561.3 991.1 551.8 992.1 547.4 C993.1 543.0 994.1 542.4 995.0 542.5 C995.9 542.6 996.7 544.1 997.7 548.0 C998.7 551.9 999.7 560.1 1001.0 565.6 C1002.3 571.1 1003.6 577.4 1005.3 581.1 C1006.9 584.9 1009.5 586.7 1010.9 588.1 C1012.3 589.5 1012.5 588.0 1013.6 589.4 C1014.7 590.8 1015.8 594.2 1017.5 596.5 C1019.2 598.8 1022.1 601.8 1024.0 603.0 C1025.9 604.2 1027.6 604.4 1029.0 603.5 C1030.4 602.6 1031.4 601.8 1032.5 597.7 C1033.6 593.6 1034.5 586.9 1035.5 578.8 C1036.5 570.7 1037.8 556.5 1038.7 549.0 C1039.7 541.5 1040.5 536.4 1041.2 533.5 C1041.9 530.6 1042.1 530.8 1042.8 531.7 C1043.5 532.6 1044.2 534.0 1045.2 539.1 C1046.2 544.2 1047.3 555.7 1048.5 562.3 C1049.7 568.9 1050.9 574.2 1052.5 578.8 C1054.1 583.4 1056.4 588.0 1058.0 590.0 C1059.6 592.0 1060.7 591.7 1062.0 591.0 C1063.3 590.3 1064.4 591.4 1065.6 586.0 C1066.8 580.6 1067.9 567.3 1068.9 558.9 C1069.9 550.5 1070.7 540.6 1071.5 535.8 C1072.3 531.0 1072.7 529.5 1073.5 530.1 C1074.3 530.7 1075.2 533.7 1076.2 539.1 C1077.2 544.5 1078.4 555.7 1079.5 562.3 C1080.6 568.9 1081.7 575.2 1082.8 578.8 C1083.9 582.4 1085.1 583.8 1086.1 583.8 C1087.1 583.8 1087.8 582.9 1088.7 578.8 C1089.6 574.6 1090.6 564.0 1091.4 558.9 C1092.2 553.8 1092.9 548.5 1093.7 548.0 C1094.5 547.5 1095.2 551.6 1096.0 555.6 C1096.8 559.6 1097.8 568.3 1098.7 572.2 C1099.6 576.1 1100.5 577.7 1101.3 578.8 C1102.1 579.9 1102.8 580.2 1103.6 578.8 C1104.4 577.4 1105.2 572.4 1106.0 570.5 C1106.8 568.6 1107.7 566.9 1108.6 567.2 C1109.5 567.5 1110.3 570.0 1111.3 572.2 C1112.3 574.4 1113.5 579.0 1114.6 580.5 C1115.7 582.0 1117.0 581.5 1117.9 581.5 C1118.8 581.5 1119.0 579.6 1120.2 580.5 C1121.4 581.4 1123.3 585.2 1125.2 587.1 C1127.1 589.0 1128.9 590.4 1131.8 592.0 C1134.7 593.6 1140.6 595.9 1142.4 596.7" fill="none" stroke="#e13426" stroke-width="3.0" stroke-linejoin="round" stroke-linecap="round"/>
<path d="M719.1 425.8 C719.8 435.3 721.8 465.0 723.1 482.8 C724.4 500.6 725.7 519.2 727.1 532.5 C728.5 545.8 729.9 554.0 731.4 562.3 C732.9 570.6 734.5 576.3 736.4 582.1 C738.3 587.9 740.5 593.0 743.0 597.0 C745.5 601.0 748.3 603.6 751.3 606.0 C754.3 608.4 757.1 609.9 761.2 611.3 C765.3 612.7 771.4 613.8 776.1 614.6 C780.8 615.4 786.0 615.9 789.3 615.9 C792.6 615.9 794.0 616.4 796.0 614.6 C798.0 612.8 799.4 608.8 801.0 605.3 C802.6 601.8 804.5 596.2 805.9 593.7 C807.3 591.2 808.0 590.1 809.2 590.4 C810.4 590.7 811.6 592.6 813.2 595.4 C814.9 598.2 817.0 603.8 819.1 607.0 C821.2 610.2 823.0 612.7 825.8 614.6 C828.6 616.5 832.4 617.7 835.7 618.5 C839.0 619.3 842.3 619.5 845.6 619.5 C848.9 619.5 852.8 619.3 855.6 618.5 C858.4 617.7 860.0 617.1 862.2 614.6 C864.4 612.1 866.9 606.5 868.8 603.6 C870.7 600.7 872.5 598.3 873.8 597.0 C875.1 595.7 875.3 595.5 876.4 596.0 C877.5 596.5 878.6 598.1 880.4 600.3 C882.2 602.5 884.8 607.1 887.0 609.3 C889.2 611.5 891.4 613.1 893.6 613.6 C895.8 614.1 898.4 614.1 900.3 612.4 C902.2 610.7 903.5 610.9 904.8 603.5 C906.1 596.1 907.0 583.4 908.1 568.0 C909.2 552.6 910.3 528.3 911.4 511.0 C912.5 493.7 913.7 473.9 914.7 464.0 C915.7 454.1 916.5 451.5 917.5 451.3 C918.5 451.1 919.3 454.9 920.5 462.9 C921.7 470.9 923.2 486.6 924.8 499.3 C926.3 512.0 928.1 527.5 929.8 539.1 C931.5 550.7 933.1 561.2 934.8 568.9 C936.4 576.6 937.8 580.7 939.7 585.4 C941.6 590.1 943.9 593.7 946.4 597.0 C948.9 600.3 951.6 603.0 954.6 605.3 C957.6 607.6 961.3 609.5 964.6 610.9 C967.9 612.3 971.8 613.7 974.5 613.6 C977.2 613.5 979.3 613.3 981.1 610.3 C982.9 607.3 984.1 601.8 985.4 595.4 C986.7 589.0 987.6 580.2 988.7 572.2 C989.8 564.2 991.1 552.6 992.1 547.4 C993.1 542.1 994.1 540.7 995.0 540.7 C995.9 540.7 996.7 543.2 997.7 547.4 C998.7 551.5 999.7 559.8 1001.0 565.6 C1002.3 571.4 1003.6 578.0 1005.3 582.1 C1006.9 586.2 1009.1 587.9 1010.9 590.4 C1012.7 592.9 1014.0 595.0 1015.9 597.0 C1017.8 599.0 1020.4 601.4 1022.5 602.6 C1024.6 603.8 1026.8 604.9 1028.5 604.3 C1030.2 603.6 1031.3 603.0 1032.5 598.7 C1033.7 594.5 1034.7 587.1 1035.8 578.8 C1036.9 570.5 1038.1 556.7 1039.1 549.0 C1040.1 541.3 1041.0 535.6 1041.7 532.5 C1042.4 529.4 1042.7 529.0 1043.4 530.1 C1044.1 531.2 1044.8 533.7 1045.7 539.1 C1046.6 544.5 1047.8 555.7 1049.0 562.3 C1050.2 568.9 1051.5 574.1 1053.0 578.8 C1054.5 583.5 1056.6 587.9 1058.3 590.4 C1060.0 592.9 1061.5 594.2 1062.9 593.7 C1064.3 593.2 1065.5 592.3 1066.6 587.1 C1067.7 581.9 1068.6 570.3 1069.5 562.3 C1070.4 554.3 1071.3 544.5 1072.2 539.1 C1073.1 533.7 1074.0 530.7 1074.8 530.1 C1075.6 529.5 1076.2 531.0 1077.2 535.8 C1078.2 540.6 1079.4 552.3 1080.5 558.9 C1081.6 565.5 1082.7 571.5 1083.8 575.5 C1084.9 579.5 1086.1 582.0 1087.1 583.1 C1088.1 584.2 1088.8 585.0 1089.7 582.1 C1090.6 579.2 1091.8 571.1 1092.7 565.6 C1093.7 560.1 1094.6 552.5 1095.4 549.0 C1096.2 545.5 1096.9 544.2 1097.7 544.7 C1098.5 545.2 1099.2 548.3 1100.0 552.3 C1100.8 556.3 1101.7 564.8 1102.6 568.9 C1103.5 573.0 1104.4 576.1 1105.3 577.2 C1106.2 578.3 1107.1 577.7 1107.9 575.5 C1108.7 573.3 1109.5 566.9 1110.3 563.9 C1111.1 560.9 1111.8 557.6 1112.6 557.3 C1113.4 557.0 1114.3 559.8 1115.2 562.3 C1116.1 564.8 1117.0 570.3 1117.9 572.2 C1118.8 574.1 1119.7 574.3 1120.5 573.8 C1121.3 573.2 1122.0 569.9 1122.8 568.9 C1123.6 567.9 1124.2 567.1 1125.2 567.9 C1126.2 568.7 1127.4 571.7 1128.5 573.8 C1129.6 575.9 1130.4 578.8 1131.8 580.5 C1133.2 582.2 1135.0 582.9 1136.8 583.8 C1138.6 584.7 1141.5 585.7 1142.4 586.1" fill="none" stroke="#111" stroke-width="3.2" stroke-linejoin="round" stroke-linecap="round"/>
<path d="M1192.5 467.2 C1193.2 470.4 1195.0 476.9 1196.5 486.1 C1198.0 495.3 1199.8 510.4 1201.5 522.5 C1203.2 534.6 1204.8 548.4 1206.4 558.9 C1208.1 569.4 1209.7 578.5 1211.4 585.4 C1213.1 592.3 1214.5 596.3 1216.4 600.3 C1218.3 604.3 1220.2 606.9 1223.0 609.3 C1225.8 611.7 1229.0 613.2 1232.9 614.6 C1236.8 616.0 1240.7 617.1 1246.2 617.9 C1251.7 618.7 1259.4 619.2 1266.0 619.5 C1272.6 619.8 1281.2 619.9 1285.9 619.5 C1290.6 619.1 1291.9 618.4 1294.2 616.9 C1296.5 615.4 1298.2 611.9 1299.8 610.3 C1301.4 608.6 1302.7 607.1 1304.1 607.0 C1305.5 606.9 1306.8 608.2 1308.4 609.6 C1310.1 611.0 1311.7 613.7 1314.0 615.2 C1316.3 616.7 1318.7 617.6 1322.3 618.5 C1325.9 619.4 1330.6 620.2 1335.6 620.5 C1340.6 620.8 1347.7 620.8 1352.1 620.2 C1356.5 619.6 1359.0 618.1 1362.0 616.9 C1365.0 615.7 1368.1 613.7 1370.3 612.9 C1372.5 612.1 1373.4 611.6 1375.3 611.9 C1377.2 612.2 1379.4 613.8 1381.9 614.6 C1384.4 615.4 1387.4 616.7 1390.2 616.9 C1393.0 617.1 1396.5 617.3 1398.5 615.9 C1400.5 614.5 1401.2 616.4 1402.3 608.6 C1403.4 600.8 1404.0 585.9 1405.0 569.0 C1406.0 552.1 1407.0 528.5 1408.1 507.0 C1409.2 485.5 1410.6 454.5 1411.4 440.0 C1412.2 425.5 1412.6 424.2 1413.2 420.0 C1413.8 415.8 1414.1 414.1 1414.9 414.9 C1415.7 415.7 1417.1 419.0 1418.2 424.8 C1419.3 430.6 1420.1 438.9 1421.5 449.7 C1422.9 460.5 1424.6 475.6 1426.5 489.4 C1428.4 503.2 1430.9 520.4 1433.1 532.5 C1435.3 544.6 1437.5 554.0 1439.7 562.3 C1441.9 570.6 1444.2 576.6 1446.4 582.1 C1448.6 587.6 1450.5 591.5 1453.0 595.4 C1455.5 599.3 1458.3 602.6 1461.3 605.3 C1464.3 607.9 1467.9 610.0 1471.2 611.3 C1474.5 612.6 1478.3 612.9 1481.1 612.9 C1483.8 612.9 1485.8 612.1 1487.7 611.3 C1489.6 610.5 1491.3 608.7 1492.7 607.9 C1494.1 607.1 1494.6 606.2 1496.0 606.3 C1497.4 606.4 1498.8 607.5 1501.0 608.6 C1503.2 609.7 1505.7 611.7 1509.3 612.9 C1512.9 614.1 1518.4 615.5 1522.5 615.9 C1526.6 616.3 1531.3 616.1 1534.1 615.2 C1536.9 614.3 1537.6 611.6 1539.1 610.3 C1540.6 609.0 1541.6 607.6 1543.0 607.6 C1544.4 607.6 1545.6 609.1 1547.4 610.3 C1549.2 611.5 1551.5 613.8 1554.0 614.6 C1556.5 615.4 1559.9 615.9 1562.3 615.2 C1564.7 614.5 1566.5 611.5 1568.2 610.3 C1569.9 609.1 1570.7 607.8 1572.2 607.9 C1573.7 608.0 1575.3 609.8 1577.2 610.9 C1579.1 612.0 1581.9 614.1 1583.8 614.6 C1585.7 615.1 1587.2 614.4 1588.7 613.6 C1590.2 612.8 1591.5 609.7 1593.0 609.6 C1594.5 609.5 1596.4 612.2 1598.0 612.9 C1599.6 613.5 1601.0 613.8 1602.5 613.5 C1604.0 613.2 1605.2 611.3 1607.0 611.3 C1608.8 611.3 1611.1 613.0 1613.6 613.6 C1616.1 614.2 1618.9 614.7 1621.9 615.2 C1624.9 615.8 1630.2 616.6 1631.8 616.9" fill="none" stroke="#111" stroke-width="3.3" stroke-linejoin="round" stroke-linecap="round"/>
<path d="M1203.1 446.4 C1203.4 452.5 1204.0 469.6 1204.8 482.8 C1205.6 496.0 1206.8 513.1 1208.1 525.8 C1209.4 538.5 1210.9 549.5 1212.4 558.9 C1213.9 568.3 1215.2 575.5 1217.0 582.1 C1218.8 588.7 1220.9 594.6 1223.0 598.7 C1225.1 602.9 1226.8 604.7 1229.6 607.0 C1232.3 609.3 1235.1 611.0 1239.5 612.6 C1243.9 614.2 1250.0 615.8 1256.1 616.9 C1262.2 618.0 1270.5 618.9 1276.0 619.2 C1281.5 619.5 1286.2 619.4 1289.2 618.5 C1292.2 617.6 1292.7 616.9 1294.2 613.6 C1295.8 610.3 1297.1 602.3 1298.5 598.7 C1299.9 595.1 1301.3 592.3 1302.5 592.0 C1303.7 591.7 1304.6 594.0 1305.8 597.0 C1307.0 600.0 1308.0 607.0 1309.7 610.3 C1311.4 613.6 1313.1 615.4 1315.7 616.9 C1318.3 618.4 1320.6 619.0 1325.6 619.5 C1330.6 620.0 1340.5 620.4 1345.5 620.2 C1350.5 620.0 1352.4 619.8 1355.4 618.5 C1358.4 617.2 1361.2 614.2 1363.7 612.6 C1366.2 611.0 1368.1 608.7 1370.3 608.6 C1372.5 608.5 1374.5 610.5 1377.0 611.9 C1379.5 613.3 1381.9 616.1 1385.2 616.9 C1388.5 617.7 1394.0 617.9 1396.8 616.9 C1399.5 615.9 1400.5 618.8 1401.7 610.6 C1403.0 602.5 1403.4 586.4 1404.3 568.0 C1405.2 549.6 1406.2 521.2 1407.3 500.0 C1408.3 478.8 1409.8 453.3 1410.6 441.0 C1411.4 428.7 1411.9 429.2 1412.4 426.0 C1413.0 422.8 1413.2 420.9 1413.9 421.5 C1414.6 422.1 1415.6 423.4 1416.6 429.8 C1417.6 436.2 1418.5 447.5 1419.9 459.6 C1421.3 471.7 1422.9 488.2 1424.8 502.6 C1426.7 517.0 1429.3 533.6 1431.5 545.7 C1433.7 557.9 1435.9 567.5 1438.1 575.5 C1440.3 583.5 1442.2 588.7 1444.7 593.7 C1447.2 598.7 1450.0 602.3 1453.0 605.3 C1456.0 608.3 1459.0 610.2 1462.9 611.9 C1466.8 613.5 1472.6 614.9 1476.2 615.2 C1479.8 615.5 1482.2 615.5 1484.4 613.6 C1486.6 611.7 1488.0 606.6 1489.4 603.6 C1490.8 600.6 1491.7 597.0 1492.7 595.4 C1493.7 593.8 1494.4 593.2 1495.4 593.7 C1496.4 594.2 1497.2 596.2 1498.7 598.7 C1500.2 601.2 1501.7 606.1 1504.3 608.6 C1506.9 611.1 1510.3 612.2 1514.2 613.6 C1518.1 615.0 1524.2 616.6 1527.5 616.9 C1530.8 617.2 1532.4 617.1 1534.1 615.2 C1535.8 613.3 1536.4 608.7 1537.4 605.3 C1538.5 601.9 1539.6 596.9 1540.4 594.7 C1541.2 592.5 1541.6 591.6 1542.4 592.0 C1543.2 592.4 1543.9 594.2 1545.0 597.0 C1546.1 599.8 1547.2 605.7 1549.0 608.6 C1550.8 611.5 1553.1 613.8 1555.6 614.6 C1558.1 615.4 1561.9 615.4 1563.9 613.6 C1566.0 611.8 1566.8 606.8 1567.9 603.6 C1569.0 600.5 1569.7 596.5 1570.5 594.7 C1571.3 592.9 1571.7 592.0 1572.5 592.7 C1573.3 593.4 1574.3 595.9 1575.5 598.7 C1576.7 601.5 1578.2 607.1 1579.8 609.3 C1581.3 611.5 1583.3 612.3 1584.8 611.9 C1586.3 611.5 1587.6 608.9 1588.7 607.0 C1589.8 605.1 1590.7 601.7 1591.4 600.3 C1592.1 598.9 1592.2 598.0 1593.0 598.7 C1593.8 599.4 1594.9 602.7 1596.0 604.6 C1597.1 606.5 1598.5 609.5 1599.7 610.3 C1600.9 611.1 1602.0 610.1 1603.0 609.3 C1604.0 608.5 1605.2 606.1 1606.0 605.3 C1606.8 604.5 1606.9 604.0 1607.9 604.6 C1608.9 605.2 1610.1 607.7 1611.9 608.6 C1613.7 609.5 1616.0 609.6 1618.5 610.3 C1621.0 611.0 1623.9 612.2 1626.8 612.9 C1629.7 613.6 1634.3 614.3 1635.8 614.6" fill="none" stroke="#e13426" stroke-width="3.1" stroke-linejoin="round" stroke-linecap="round"/>
<path d="M692.4 408V631.9H1146" fill="none" stroke="#111" stroke-width="4.1"/>
<path d="M692.4 391.6L701.6 414L692.4 411.6L683.2 414Z" fill="#111"/>
<path d="M1162.8 631.9L1140.6 622.8L1143 631.9L1140.6 641Z" fill="#111"/>
<path d="M1178 631.9H1632" fill="none" stroke="#111" stroke-width="4.2"/>
<path d="M1650.4 631.9L1628.2 622.8L1630.6 631.9L1628.2 641Z" fill="#111"/>
<text transform="translate(668.7,551) rotate(-90)" style="font-size:33.5px">A<tspan dy="10.5" dx="0" style="font-size:18.7px">260</tspan></text>
<text transform="translate(750.6,408.6) scale(0.93,1)" style="font-size:30.5px;stroke-width:.15px">+CHX</text>
<text transform="translate(1239.3,408.6) scale(0.895,1)" style="font-size:30.5px;stroke-width:.15px">-CHX</text>
<text x="921.5" y="401.3" text-anchor="middle">80S</text>
<text x="1418.5" y="401.4" text-anchor="middle">80S</text>
<text x="808.5" y="553.6" text-anchor="middle">40S</text>
<text x="875" y="553.6" text-anchor="middle">60S</text>
<text x="1305.5" y="553.6" text-anchor="middle">40S</text>
<text x="1372" y="553.6" text-anchor="middle">60S</text>
<text x="1056.8" y="464" text-anchor="middle">Polysomes</text>
<text x="1553.8" y="464" text-anchor="middle">Polysomes</text>
<path d="M976.4 476.9H1138.9M1474.2 476.9H1635.8" stroke="#111" stroke-width="4"/>
<text x="702.6" y="660.6" style="font-size:26px">7%</text><text x="1082.6" y="660.6" style="font-size:26px">45%</text>
<text x="1188.6" y="660.6" style="font-size:26px">7%</text><text x="1568.6" y="660.6" style="font-size:26px">45%</text>
<rect x="691.3" y="670.1" width="942.8" height="52.3" fill="#fff" stroke="#b2b2b2" stroke-width="4.4"/>
<path d="M722.8 695.8H759.5" stroke="#111" stroke-width="4.4"/>
<path d="M1181.4 695.8H1219" stroke="#e13426" stroke-width="4.4"/>
<text x="780.6" y="706.8">0 mM Met, µ<tspan dy="8.9" style="font-size:15.3px">2</tspan><tspan dy="-8.9" dx="4.2">= 0.64±0.12 h</tspan><tspan dy="-8.6" dx="-0.6" style="font-size:15px">-1</tspan></text>
<text x="1235.3" y="706.8">0.5 mM Met, µ<tspan dy="8.9" style="font-size:15.3px">2</tspan><tspan dy="-8.9" dx="4.2">= 0.18±0.06 h</tspan><tspan dy="-8.6" dx="-0.6" style="font-size:15px">-1</tspan></text>
</g>
</svg>
</body></html>
